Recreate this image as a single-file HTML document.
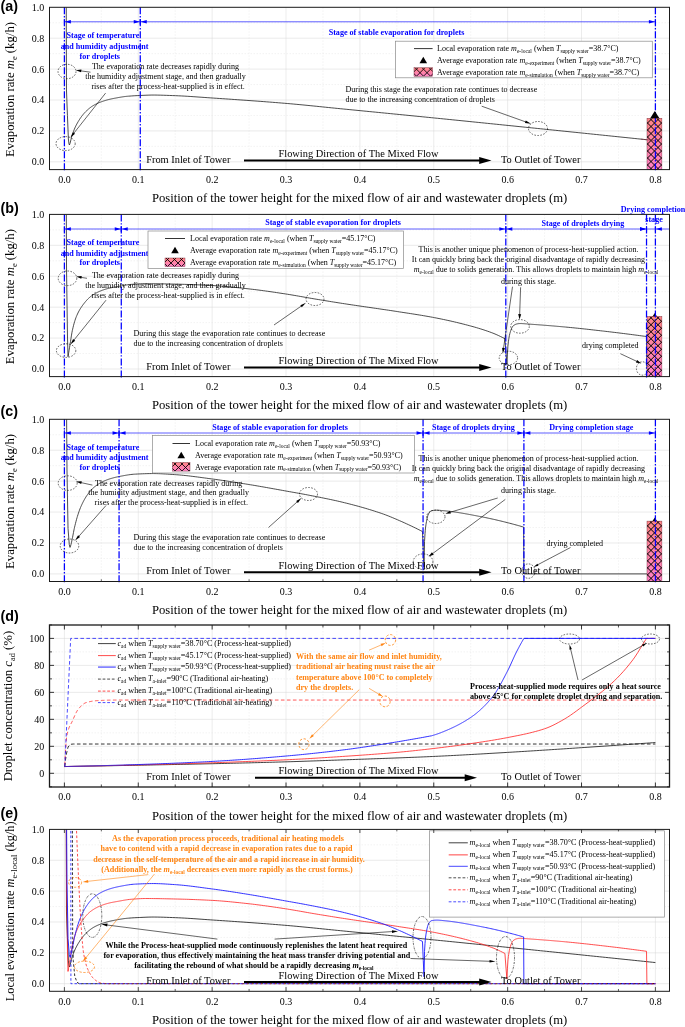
<!DOCTYPE html>
<html lang="en"><head><meta charset="utf-8"><title>Evaporation rate along tower height</title>
<style>html,body{margin:0;padding:0;background:#fff}svg{display:block}text{white-space:pre}</style></head>
<body>
<svg width="685" height="1027" viewBox="0 0 685 1027">
<defs>
<linearGradient id="bga" x1="0" y1="0" x2="0" y2="1"><stop offset="0" stop-color="#ff8585"/><stop offset="1" stop-color="#ff80c4"/></linearGradient>
<linearGradient id="bgb" x1="0" y1="0" x2="0" y2="1"><stop offset="0" stop-color="#ff8585"/><stop offset="1" stop-color="#ff80c4"/></linearGradient>
<linearGradient id="bgc" x1="0" y1="0" x2="0" y2="1"><stop offset="0" stop-color="#ff8585"/><stop offset="1" stop-color="#ff80c4"/></linearGradient>
<linearGradient id="bgl" x1="0" y1="0" x2="0" y2="1"><stop offset="0" stop-color="#ff8585"/><stop offset="1" stop-color="#ff80c4"/></linearGradient>
<clipPath id="clipa"><rect x="49.5" y="7.3" width="620" height="162.3"/></clipPath>
<clipPath id="clipb"><rect x="49.5" y="214.4" width="620" height="162.2"/></clipPath>
<clipPath id="clipc"><rect x="49.5" y="419.3" width="620" height="162.2"/></clipPath>
<clipPath id="clipd"><rect x="49.5" y="625.0" width="620" height="162"/></clipPath>
<clipPath id="clipe"><rect x="49.5" y="829.4" width="620" height="161.9"/></clipPath>
</defs>
<rect width="685" height="1027" fill="#fff"/>
<rect x="49.5" y="7.3" width="620" height="162.3" fill="#fff" stroke="none"/>
<line x1="64.4" y1="7.3" x2="64.4" y2="169.6" stroke="#d9d9d9" stroke-width="0.5" />
<line x1="138.28" y1="7.3" x2="138.28" y2="169.6" stroke="#d9d9d9" stroke-width="0.5" />
<line x1="212.15" y1="7.3" x2="212.15" y2="169.6" stroke="#d9d9d9" stroke-width="0.5" />
<line x1="286.03" y1="7.3" x2="286.03" y2="169.6" stroke="#d9d9d9" stroke-width="0.5" />
<line x1="359.9" y1="7.3" x2="359.9" y2="169.6" stroke="#d9d9d9" stroke-width="0.5" />
<line x1="433.77" y1="7.3" x2="433.77" y2="169.6" stroke="#d9d9d9" stroke-width="0.5" />
<line x1="507.65" y1="7.3" x2="507.65" y2="169.6" stroke="#d9d9d9" stroke-width="0.5" />
<line x1="581.52" y1="7.3" x2="581.52" y2="169.6" stroke="#d9d9d9" stroke-width="0.5" />
<line x1="655.4" y1="7.3" x2="655.4" y2="169.6" stroke="#d9d9d9" stroke-width="0.5" />
<line x1="101.34" y1="7.3" x2="101.34" y2="169.6" stroke="#e6e6e6" stroke-width="0.5" stroke-dasharray="1.5 1.5" />
<line x1="175.21" y1="7.3" x2="175.21" y2="169.6" stroke="#e6e6e6" stroke-width="0.5" stroke-dasharray="1.5 1.5" />
<line x1="249.09" y1="7.3" x2="249.09" y2="169.6" stroke="#e6e6e6" stroke-width="0.5" stroke-dasharray="1.5 1.5" />
<line x1="322.96" y1="7.3" x2="322.96" y2="169.6" stroke="#e6e6e6" stroke-width="0.5" stroke-dasharray="1.5 1.5" />
<line x1="396.84" y1="7.3" x2="396.84" y2="169.6" stroke="#e6e6e6" stroke-width="0.5" stroke-dasharray="1.5 1.5" />
<line x1="470.71" y1="7.3" x2="470.71" y2="169.6" stroke="#e6e6e6" stroke-width="0.5" stroke-dasharray="1.5 1.5" />
<line x1="544.59" y1="7.3" x2="544.59" y2="169.6" stroke="#e6e6e6" stroke-width="0.5" stroke-dasharray="1.5 1.5" />
<line x1="618.46" y1="7.3" x2="618.46" y2="169.6" stroke="#e6e6e6" stroke-width="0.5" stroke-dasharray="1.5 1.5" />
<line x1="49.5" y1="161.8" x2="669.5" y2="161.8" stroke="#d4d4d4" stroke-width="0.5" />
<line x1="49.5" y1="130.9" x2="669.5" y2="130.9" stroke="#d4d4d4" stroke-width="0.5" />
<line x1="49.5" y1="100" x2="669.5" y2="100" stroke="#d4d4d4" stroke-width="0.5" />
<line x1="49.5" y1="69.1" x2="669.5" y2="69.1" stroke="#d4d4d4" stroke-width="0.5" />
<line x1="49.5" y1="38.2" x2="669.5" y2="38.2" stroke="#d4d4d4" stroke-width="0.5" />
<line x1="49.5" y1="146.35" x2="669.5" y2="146.35" stroke="#e6e6e6" stroke-width="0.5" stroke-dasharray="1.5 1.5" />
<line x1="49.5" y1="115.45" x2="669.5" y2="115.45" stroke="#e6e6e6" stroke-width="0.5" stroke-dasharray="1.5 1.5" />
<line x1="49.5" y1="84.55" x2="669.5" y2="84.55" stroke="#e6e6e6" stroke-width="0.5" stroke-dasharray="1.5 1.5" />
<line x1="49.5" y1="53.65" x2="669.5" y2="53.65" stroke="#e6e6e6" stroke-width="0.5" stroke-dasharray="1.5 1.5" />
<line x1="49.5" y1="22.75" x2="669.5" y2="22.75" stroke="#e6e6e6" stroke-width="0.5" stroke-dasharray="1.5 1.5" />
<polyline points="66.25,7.3 66.47,89.96 67.43,115.45 68.39,138.93 68.98,143.88 69.42,144.96 69.92,143.69 70.16,142.95 70.42,142.01 70.91,139.79 71.41,137.68 71.49,137.39 71.91,136.04 72.37,134.6 72.4,134.49 72.9,133.03 73.4,131.65 73.89,130.35 74.39,129.12 74.89,127.96 75.31,127.02 75.38,126.87 75.88,125.84 76.29,125.03 76.38,124.87 76.87,123.94 77.37,123.04 77.87,122.17 78.26,121.5 78.36,121.32 78.86,120.5 79.36,119.7 79.85,118.93 80.35,118.19 80.85,117.47 81.2,116.97 81.34,116.77 81.84,116.1 82.34,115.46 82.83,114.83 83.33,114.23 83.83,113.65 84.15,113.29 84.32,113.1 84.82,112.56 85.01,112.36 85.32,112.05 85.81,111.54 86.31,111.05 86.81,110.58 87.09,110.31 87.3,110.11 87.8,109.66 88.3,109.23 88.79,108.8 89.29,108.39 89.79,107.99 90.04,107.79 90.28,107.6 90.78,107.23 91.28,106.87 91.77,106.53 92.27,106.19 92.77,105.88 92.98,105.74 93.26,105.57 93.76,105.28 93.8,105.25 94.26,105 94.75,104.73 95.25,104.46 95.75,104.21 95.92,104.12 96.24,103.96 96.74,103.72 97.24,103.49 97.73,103.27 98.23,103.05 98.73,102.84 98.87,102.78 99.22,102.63 99.72,102.43 100.22,102.24 100.71,102.05 101.21,101.86 101.71,101.68 101.81,101.64 102.2,101.5 102.52,101.39 102.7,101.33 103.19,101.16 103.69,100.99 104.19,100.83 104.68,100.68 104.76,100.65 105.18,100.52 105.68,100.37 106.17,100.23 106.67,100.09 107.17,99.95 107.66,99.81 107.7,99.8 108.16,99.68 108.66,99.55 109.15,99.43 109.65,99.31 109.98,99.23 110.15,99.19 110.64,99.07 110.65,99.07 111.14,98.96 111.64,98.85 112.13,98.75 112.63,98.64 113.13,98.54 113.59,98.45 113.62,98.45 114.12,98.35 114.41,98.3 114.62,98.26 115.11,98.17 115.61,98.08 116.11,97.99 116.54,97.91 116.6,97.9 117.1,97.8 117.6,97.71 118.09,97.62 118.59,97.53 119.09,97.44 119.48,97.37 119.58,97.36 120.08,97.27 120.58,97.19 121.07,97.1 121.57,97.02 122.07,96.94 122.43,96.89 122.56,96.87 123.06,96.79 123.56,96.72 124.05,96.65 124.55,96.58 125.05,96.52 125.37,96.48 125.54,96.46 126.04,96.41 126.54,96.35 127.03,96.31 127.19,96.29 127.53,96.26 128.03,96.22 128.32,96.19 128.52,96.18 131.26,95.97 134.2,95.78 137.15,95.62 139.31,95.52 140.09,95.48 143.04,95.35 145.98,95.22 148.93,95.12 151.87,95.06 153.05,95.06 154.82,95.06 157.76,95.1 160.71,95.16 163.65,95.25 166.6,95.35 169.54,95.46 172.48,95.57 175.21,95.67 175.43,95.68 178.37,95.8 181.32,95.95 184.26,96.1 187.21,96.28 190.15,96.46 193.1,96.66 196.04,96.86 198.99,97.07 201.93,97.28 204.88,97.49 207.82,97.69 210.76,97.9 212.15,97.99 213.71,98.1 216.65,98.29 219.6,98.49 222.54,98.69 225.49,98.89 228.43,99.09 231.38,99.29 234.32,99.5 237.27,99.7 240.21,99.91 243.16,100.11 246.1,100.32 249.04,100.53 251.99,100.75 254.93,100.96 257.88,101.18 260.82,101.4 263.77,101.62 266.71,101.85 269.66,102.07 272.6,102.3 275.55,102.54 278.49,102.78 281.44,103.02 284.38,103.26 286.02,103.4 287.32,103.51 290.27,103.76 293.21,104.03 296.16,104.3 299.1,104.57 302.05,104.85 304.99,105.14 307.94,105.43 310.88,105.72 313.83,106.02 316.77,106.31 319.71,106.61 322.66,106.92 325.6,107.22 328.55,107.52 331.49,107.82 334.44,108.12 337.38,108.41 340.33,108.71 342.91,108.96 343.27,109 346.22,109.29 349.16,109.57 352.11,109.86 355.05,110.15 357.99,110.44 360.94,110.73 363.88,111.02 366.83,111.31 369.77,111.6 372.72,111.89 375.66,112.17 378.61,112.46 381.55,112.75 384.5,113.04 387.44,113.33 390.39,113.62 393.33,113.91 396.27,114.2 399.22,114.49 402.16,114.78 405.11,115.07 408.05,115.36 411,115.66 413.94,115.95 416.89,116.24 419.83,116.53 422.78,116.82 425.72,117.12 428.67,117.41 431.61,117.71 433.77,117.92 434.55,118 437.5,118.29 440.44,118.59 443.39,118.89 446.33,119.18 449.28,119.48 452.22,119.77 455.17,120.07 458.11,120.37 461.06,120.67 464,120.96 466.95,121.26 469.89,121.56 472.83,121.86 475.78,122.16 478.72,122.46 481.67,122.76 484.61,123.06 487.56,123.36 490.5,123.66 493.45,123.96 496.39,124.26 499.34,124.56 502.28,124.86 505.23,125.16 508.17,125.46 511.11,125.76 514.06,126.06 517,126.36 519.95,126.66 522.89,126.96 525.84,127.27 528.78,127.57 531.73,127.87 534.67,128.17 537.62,128.47 537.94,128.51 540.56,128.77 543.5,129.08 546.45,129.38 549.39,129.68 552.34,129.98 555.28,130.28 558.23,130.59 561.17,130.89 564.12,131.19 567.06,131.49 570.01,131.8 572.95,132.1 575.9,132.4 578.84,132.71 581.78,133.01 584.73,133.31 587.67,133.62 590.62,133.92 593.56,134.22 596.51,134.53 599.45,134.83 602.4,135.14 605.34,135.44 608.29,135.74 611.23,136.05 614.18,136.35 617.12,136.66 620.06,136.96 623.01,137.27 625.95,137.57 628.9,137.88 631.84,138.18 634.79,138.49 637.73,138.8 640.68,139.1 643.62,139.41 646.57,139.71 649.51,140.02 652.46,140.33 655.4,140.63" fill="none" stroke="#111" stroke-width="0.75" stroke-linejoin="round" clip-path="url(#clipa)"/>
<rect x="647.0" y="118.23" width="14.9" height="51.37" fill="url(#bga)" />
<clipPath id="hc1"><rect x="647" y="118.23" width="14.9" height="51.37"/></clipPath>
<path d="M586.7 118.23L638.07 169.6M638.3 118.23L586.93 169.6M593.7 118.23L645.07 169.6M645.3 118.23L593.93 169.6M600.7 118.23L652.07 169.6M652.3 118.23L600.93 169.6M607.7 118.23L659.07 169.6M659.3 118.23L607.93 169.6M614.7 118.23L666.07 169.6M666.3 118.23L614.93 169.6M621.7 118.23L673.07 169.6M673.3 118.23L621.93 169.6M628.7 118.23L680.07 169.6M680.3 118.23L628.93 169.6M635.7 118.23L687.07 169.6M687.3 118.23L635.93 169.6M642.7 118.23L694.07 169.6M694.3 118.23L642.93 169.6M649.7 118.23L701.07 169.6M701.3 118.23L649.93 169.6M656.7 118.23L708.07 169.6M708.3 118.23L656.93 169.6M663.7 118.23L715.07 169.6M715.3 118.23L663.93 169.6M670.7 118.23L722.07 169.6M722.3 118.23L670.93 169.6" stroke="#000" stroke-width="1.0" fill="none" clip-path="url(#hc1)"/>
<rect x="647" y="118.23" width="14.9" height="51.37" fill="none" stroke="#6a2535" stroke-width="0.4"/>
<polyline points="640.68,139.1 643.62,139.41 646.57,139.71 649.51,140.02 652.46,140.33 655.4,140.63" fill="none" stroke="#7a2a3a" stroke-width="0.6" stroke-linejoin="round" clip-path="url(#clipa)"/>
<line x1="64.4" y1="7.3" x2="64.4" y2="170.8" stroke="#0000ff" stroke-width="1.25" stroke-dasharray="7 1.8 1.3 1.9" />
<line x1="140.27" y1="7.3" x2="140.27" y2="170.8" stroke="#0000ff" stroke-width="1.25" stroke-dasharray="7 1.8 1.3 1.9" />
<line x1="655.4" y1="7.3" x2="655.4" y2="170.8" stroke="#0000ff" stroke-width="1.25" stroke-dasharray="7 1.8 1.3 1.9" />
<line x1="64.4" y1="21.8" x2="140.27" y2="21.8" stroke="#2a2aff" stroke-width="0.75" />
<line x1="64.4" y1="19" x2="64.4" y2="24.6" stroke="#0000ff" stroke-width="0.8" />
<line x1="140.27" y1="19" x2="140.27" y2="24.6" stroke="#0000ff" stroke-width="0.8" />
<polygon points="64.7,21.8 70.9,20.1 70.9,23.5" fill="#0000ff"/>
<polygon points="139.97,21.8 133.77,20.1 133.77,23.5" fill="#0000ff"/>
<line x1="140.27" y1="21.8" x2="655.4" y2="21.8" stroke="#2a2aff" stroke-width="0.75" />
<line x1="140.27" y1="19" x2="140.27" y2="24.6" stroke="#0000ff" stroke-width="0.8" />
<line x1="655.4" y1="19" x2="655.4" y2="24.6" stroke="#0000ff" stroke-width="0.8" />
<polygon points="140.57,21.8 146.77,20.1 146.77,23.5" fill="#0000ff"/>
<polygon points="655.1,21.8 648.9,20.1 648.9,23.5" fill="#0000ff"/>
<polygon points="654.8,111 650.2,118.2 659.4,118.2" fill="#000"/>
<text x="102.9" y="38.3" font-family='"Liberation Serif", "DejaVu Serif", serif' font-size="8.1" text-anchor="middle" font-weight="bold" fill="#0000ff" >Stage of temperature</text>
<text x="104.6" y="48.7" font-family='"Liberation Serif", "DejaVu Serif", serif' font-size="8.1" text-anchor="middle" font-weight="bold" fill="#0000ff" >and humidity adjustment</text>
<text x="99.8" y="58.6" font-family='"Liberation Serif", "DejaVu Serif", serif' font-size="8.1" text-anchor="middle" font-weight="bold" fill="#0000ff" >for droplets</text>
<text x="396.5" y="35" font-family='"Liberation Serif", "DejaVu Serif", serif' font-size="8.1" text-anchor="middle" font-weight="bold" fill="#0000ff" >Stage of stable evaporation for droplets</text>
<rect x="395.4" y="41.2" width="256.9" height="36.6" fill="#fff" stroke="#8a8a8a" stroke-width="0.7"/>
<line x1="414" y1="48.6" x2="432.6" y2="48.6" stroke="#000" stroke-width="0.8" />
<polygon points="423.3,56.7 419.5,63.3 427.1,63.3" fill="#000"/>
<rect x="414" y="67.7" width="18.6" height="8.6" fill="url(#bgl)"/>
<clipPath id="hc2"><rect x="414" y="67.7" width="18.6" height="8.6"/></clipPath>
<path d="M394 67.7L402.6 76.3M404 67.7L395.4 76.3M401 67.7L409.6 76.3M411 67.7L402.4 76.3M408 67.7L416.6 76.3M418 67.7L409.4 76.3M415 67.7L423.6 76.3M425 67.7L416.4 76.3M422 67.7L430.6 76.3M432 67.7L423.4 76.3M429 67.7L437.6 76.3M439 67.7L430.4 76.3M436 67.7L444.6 76.3M446 67.7L437.4 76.3" stroke="#000" stroke-width="0.85" fill="none" clip-path="url(#hc2)"/>
<rect x="414" y="67.7" width="18.6" height="8.6" fill="none" stroke="#6a2535" stroke-width="0.4"/>
<text x="437" y="51.1" font-family='"Liberation Serif", "DejaVu Serif", serif' font-size="8.03" text-anchor="start" font-weight="normal" fill="#000" >Local evaporation rate <tspan font-style="italic">m</tspan><tspan font-size="5.5" dy="1.9">e-local</tspan><tspan dy="-1.9"> (when </tspan><tspan font-style="italic">T</tspan><tspan font-size="5.5" dy="1.9">supply water</tspan><tspan dy="-1.9">=38.7°C)</tspan></text>
<text x="437" y="63" font-family='"Liberation Serif", "DejaVu Serif", serif' font-size="8.03" text-anchor="start" font-weight="normal" fill="#000" >Average evaporation rate <tspan font-style="italic">m</tspan><tspan font-size="5.5" dy="1.9">e-experiment</tspan><tspan dy="-1.9"> (when </tspan><tspan font-style="italic">T</tspan><tspan font-size="5.5" dy="1.9">supply water</tspan><tspan dy="-1.9">=38.7°C)</tspan></text>
<text x="437" y="74.7" font-family='"Liberation Serif", "DejaVu Serif", serif' font-size="8.03" text-anchor="start" font-weight="normal" fill="#000" >Average evaporation rate <tspan font-style="italic">m</tspan><tspan font-size="5.5" dy="1.9">e-simulation</tspan><tspan dy="-1.9"> (when </tspan><tspan font-style="italic">T</tspan><tspan font-size="5.5" dy="1.9">supply water</tspan><tspan dy="-1.9">=38.7°C)</tspan></text>
<text x="165.5" y="68.8" font-family='"Liberation Serif", "DejaVu Serif", serif' font-size="8.05" text-anchor="middle" font-weight="normal" fill="#000" >The evaporation rate decreases rapidly during</text>
<text x="165.5" y="78.8" font-family='"Liberation Serif", "DejaVu Serif", serif' font-size="8.05" text-anchor="middle" font-weight="normal" fill="#000" >the humidity adjustment stage, and then gradually</text>
<text x="168.1" y="88.8" font-family='"Liberation Serif", "DejaVu Serif", serif' font-size="8.05" text-anchor="middle" font-weight="normal" fill="#000" >rises after the process-heat-supplied is in effect.</text>
<ellipse cx="67" cy="71.5" rx="9" ry="7.2" fill="none" stroke="#000" stroke-width="0.6" stroke-dasharray="1.6 1.4"/>
<line x1="90.5" y1="72.2" x2="80.26" y2="70.81" stroke="#000" stroke-width="0.6" />
<polygon points="75.8,70.2 81.44,69.55 81.06,72.33" fill="#000"/>
<ellipse cx="65.6" cy="143.6" rx="9.6" ry="7" fill="none" stroke="#000" stroke-width="0.6" stroke-dasharray="1.6 1.4"/>
<line x1="105.6" y1="93.1" x2="73.4" y2="133.78" stroke="#000" stroke-width="0.6" />
<polygon points="70.3,137.7 73,132.19 75.04,133.8" fill="#000"/>
<text x="345.5" y="92" font-family='"Liberation Serif", "DejaVu Serif", serif' font-size="8.05" text-anchor="start" font-weight="normal" fill="#000" >During this stage the evaporation rate continues to decrease</text>
<text x="345.5" y="102" font-family='"Liberation Serif", "DejaVu Serif", serif' font-size="8.05" text-anchor="start" font-weight="normal" fill="#000" >due to the increasing concentration of droplets</text>
<line x1="481.7" y1="106.2" x2="526.29" y2="122.12" stroke="#000" stroke-width="0.6" />
<polygon points="531,123.8 524.91,123.01 525.79,120.56" fill="#000"/>
<ellipse cx="538" cy="128.5" rx="9.5" ry="7" fill="none" stroke="#000" stroke-width="0.6" stroke-dasharray="1.6 1.4"/>
<text x="146.2" y="162.5" font-family='"Liberation Serif", "DejaVu Serif", serif' font-size="10.4" text-anchor="start" font-weight="normal" fill="#000" >From Inlet of Tower</text>
<text x="278.5" y="156.8" font-family='"Liberation Serif", "DejaVu Serif", serif' font-size="10.4" text-anchor="start" font-weight="normal" fill="#000" >Flowing Direction of The Mixed Flow</text>
<text x="501" y="162.5" font-family='"Liberation Serif", "DejaVu Serif", serif' font-size="10.4" text-anchor="start" font-weight="normal" fill="#000" >To Outlet of Tower</text>
<line x1="244" y1="160.4" x2="482.5" y2="160.4" stroke="#000" stroke-width="2.0" />
<polygon points="491.5,160.4 479.2,156.9 479.2,163.9" fill="#000"/>
<rect x="49.5" y="7.3" width="620" height="162.3" fill="none" stroke="#1a1a1a" stroke-width="1.0"/>
<text x="64.4" y="182.9" font-family='"Liberation Serif", "DejaVu Serif", serif' font-size="10" text-anchor="middle" font-weight="normal" fill="#000" >0.0</text>
<text x="138.28" y="182.9" font-family='"Liberation Serif", "DejaVu Serif", serif' font-size="10" text-anchor="middle" font-weight="normal" fill="#000" >0.1</text>
<text x="212.15" y="182.9" font-family='"Liberation Serif", "DejaVu Serif", serif' font-size="10" text-anchor="middle" font-weight="normal" fill="#000" >0.2</text>
<text x="286.03" y="182.9" font-family='"Liberation Serif", "DejaVu Serif", serif' font-size="10" text-anchor="middle" font-weight="normal" fill="#000" >0.3</text>
<text x="359.9" y="182.9" font-family='"Liberation Serif", "DejaVu Serif", serif' font-size="10" text-anchor="middle" font-weight="normal" fill="#000" >0.4</text>
<text x="433.77" y="182.9" font-family='"Liberation Serif", "DejaVu Serif", serif' font-size="10" text-anchor="middle" font-weight="normal" fill="#000" >0.5</text>
<text x="507.65" y="182.9" font-family='"Liberation Serif", "DejaVu Serif", serif' font-size="10" text-anchor="middle" font-weight="normal" fill="#000" >0.6</text>
<text x="581.52" y="182.9" font-family='"Liberation Serif", "DejaVu Serif", serif' font-size="10" text-anchor="middle" font-weight="normal" fill="#000" >0.7</text>
<text x="655.4" y="182.9" font-family='"Liberation Serif", "DejaVu Serif", serif' font-size="10" text-anchor="middle" font-weight="normal" fill="#000" >0.8</text>
<text x="44.3" y="165.2" font-family='"Liberation Serif", "DejaVu Serif", serif' font-size="10" text-anchor="end" font-weight="normal" fill="#000" >0.0</text>
<text x="44.3" y="134.3" font-family='"Liberation Serif", "DejaVu Serif", serif' font-size="10" text-anchor="end" font-weight="normal" fill="#000" >0.2</text>
<text x="44.3" y="103.4" font-family='"Liberation Serif", "DejaVu Serif", serif' font-size="10" text-anchor="end" font-weight="normal" fill="#000" >0.4</text>
<text x="44.3" y="72.5" font-family='"Liberation Serif", "DejaVu Serif", serif' font-size="10" text-anchor="end" font-weight="normal" fill="#000" >0.6</text>
<text x="44.3" y="41.6" font-family='"Liberation Serif", "DejaVu Serif", serif' font-size="10" text-anchor="end" font-weight="normal" fill="#000" >0.8</text>
<text x="44.3" y="10.7" font-family='"Liberation Serif", "DejaVu Serif", serif' font-size="10" text-anchor="end" font-weight="normal" fill="#000" >1.0</text>
<text x="151.9" y="202.3" font-family='"Liberation Serif", "DejaVu Serif", serif' font-size="12.67" text-anchor="start" font-weight="normal" fill="#000" >Position of the tower height for the mixed flow of air and wastewater droplets (m)</text>
<g transform="translate(14.4,89.5) rotate(-90)">
<text x="0" y="0" font-family='"Liberation Serif", "DejaVu Serif", serif' font-size="12.75" text-anchor="middle" font-weight="normal" fill="#000" >Evaporation rate <tspan font-style="italic">m</tspan><tspan font-size="8.29" dy="2.6">e</tspan><tspan dy="-2.6"> (kg/h)</tspan></text>
</g>
<text x="0.6" y="11.4" font-family='"Liberation Sans", "DejaVu Sans", sans-serif' font-size="14.3" text-anchor="start" font-weight="bold" fill="#000" >(a)</text>
<rect x="49.5" y="214.4" width="620" height="162.2" fill="#fff" stroke="none"/>
<line x1="64.4" y1="214.4" x2="64.4" y2="376.6" stroke="#d9d9d9" stroke-width="0.5" />
<line x1="138.28" y1="214.4" x2="138.28" y2="376.6" stroke="#d9d9d9" stroke-width="0.5" />
<line x1="212.15" y1="214.4" x2="212.15" y2="376.6" stroke="#d9d9d9" stroke-width="0.5" />
<line x1="286.03" y1="214.4" x2="286.03" y2="376.6" stroke="#d9d9d9" stroke-width="0.5" />
<line x1="359.9" y1="214.4" x2="359.9" y2="376.6" stroke="#d9d9d9" stroke-width="0.5" />
<line x1="433.77" y1="214.4" x2="433.77" y2="376.6" stroke="#d9d9d9" stroke-width="0.5" />
<line x1="507.65" y1="214.4" x2="507.65" y2="376.6" stroke="#d9d9d9" stroke-width="0.5" />
<line x1="581.52" y1="214.4" x2="581.52" y2="376.6" stroke="#d9d9d9" stroke-width="0.5" />
<line x1="655.4" y1="214.4" x2="655.4" y2="376.6" stroke="#d9d9d9" stroke-width="0.5" />
<line x1="101.34" y1="214.4" x2="101.34" y2="376.6" stroke="#e6e6e6" stroke-width="0.5" stroke-dasharray="1.5 1.5" />
<line x1="175.21" y1="214.4" x2="175.21" y2="376.6" stroke="#e6e6e6" stroke-width="0.5" stroke-dasharray="1.5 1.5" />
<line x1="249.09" y1="214.4" x2="249.09" y2="376.6" stroke="#e6e6e6" stroke-width="0.5" stroke-dasharray="1.5 1.5" />
<line x1="322.96" y1="214.4" x2="322.96" y2="376.6" stroke="#e6e6e6" stroke-width="0.5" stroke-dasharray="1.5 1.5" />
<line x1="396.84" y1="214.4" x2="396.84" y2="376.6" stroke="#e6e6e6" stroke-width="0.5" stroke-dasharray="1.5 1.5" />
<line x1="470.71" y1="214.4" x2="470.71" y2="376.6" stroke="#e6e6e6" stroke-width="0.5" stroke-dasharray="1.5 1.5" />
<line x1="544.59" y1="214.4" x2="544.59" y2="376.6" stroke="#e6e6e6" stroke-width="0.5" stroke-dasharray="1.5 1.5" />
<line x1="618.46" y1="214.4" x2="618.46" y2="376.6" stroke="#e6e6e6" stroke-width="0.5" stroke-dasharray="1.5 1.5" />
<line x1="49.5" y1="369" x2="669.5" y2="369" stroke="#d4d4d4" stroke-width="0.5" />
<line x1="49.5" y1="338.08" x2="669.5" y2="338.08" stroke="#d4d4d4" stroke-width="0.5" />
<line x1="49.5" y1="307.16" x2="669.5" y2="307.16" stroke="#d4d4d4" stroke-width="0.5" />
<line x1="49.5" y1="276.24" x2="669.5" y2="276.24" stroke="#d4d4d4" stroke-width="0.5" />
<line x1="49.5" y1="245.32" x2="669.5" y2="245.32" stroke="#d4d4d4" stroke-width="0.5" />
<line x1="49.5" y1="353.54" x2="669.5" y2="353.54" stroke="#e6e6e6" stroke-width="0.5" stroke-dasharray="1.5 1.5" />
<line x1="49.5" y1="322.62" x2="669.5" y2="322.62" stroke="#e6e6e6" stroke-width="0.5" stroke-dasharray="1.5 1.5" />
<line x1="49.5" y1="291.7" x2="669.5" y2="291.7" stroke="#e6e6e6" stroke-width="0.5" stroke-dasharray="1.5 1.5" />
<line x1="49.5" y1="260.78" x2="669.5" y2="260.78" stroke="#e6e6e6" stroke-width="0.5" stroke-dasharray="1.5 1.5" />
<line x1="49.5" y1="229.86" x2="669.5" y2="229.86" stroke="#e6e6e6" stroke-width="0.5" stroke-dasharray="1.5 1.5" />
<polyline points="66.32,214.4 66.54,270.06 67.5,338.08 68.02,356.69 68.52,353.77 68.68,352.77 69.01,350.77 69.51,347.69 69.94,345.04 70.01,344.63 70.22,343.32 70.5,341.47 71,338.24 71.5,335.1 71.99,332.25 72.38,330.35 72.41,330.2 72.49,329.85 72.99,327.71 73.48,325.7 73.98,323.82 74.48,322.07 74.61,321.63 74.97,320.44 75.47,318.95 75.97,317.58 76.29,316.75 76.46,316.33 76.8,315.53 76.96,315.17 77.46,314.07 77.95,313.02 78.45,312.03 78.95,311.09 79,310.99 79.44,310.19 79.94,309.34 80.44,308.53 80.93,307.75 81.19,307.36 81.43,307.01 81.93,306.29 82.13,306 82.42,305.59 82.92,304.91 83.39,304.28 83.42,304.25 83.91,303.6 84.41,302.96 84.91,302.35 85.4,301.74 85.58,301.53 85.9,301.16 86.4,300.59 86.89,300.05 87.39,299.52 87.78,299.11 87.89,299.01 88.38,298.52 88.88,298.05 89.38,297.6 89.87,297.17 89.97,297.08 90.37,296.76 90.87,296.38 90.92,296.34 91.36,296.01 91.86,295.66 92.17,295.44 92.36,295.31 92.85,294.98 93.35,294.66 93.85,294.34 94.34,294.04 94.37,294.02 94.84,293.74 95.34,293.45 95.83,293.18 96.33,292.91 96.56,292.79 96.82,292.65 97.32,292.4 97.82,292.15 98.31,291.92 98.76,291.71 98.81,291.69 99.31,291.47 99.8,291.25 100.3,291.05 100.6,290.93 100.8,290.85 100.95,290.79 101.29,290.65 101.79,290.46 102.29,290.28 102.78,290.1 103.15,289.97 103.28,289.92 103.78,289.75 104.27,289.59 104.77,289.43 105.27,289.27 105.34,289.25 105.76,289.12 106.26,288.97 106.76,288.83 107.25,288.69 107.54,288.61 107.75,288.55 108.25,288.42 108.74,288.29 109.24,288.17 109.73,288.05 109.74,288.05 109.98,287.99 110.23,287.93 110.73,287.82 111.23,287.71 111.72,287.61 111.93,287.57 112.22,287.51 112.72,287.41 113.21,287.32 113.71,287.23 114.12,287.15 114.21,287.14 114.7,287.05 115.2,286.96 115.7,286.88 116.19,286.79 116.32,286.77 116.69,286.7 117.19,286.62 117.29,286.6 117.68,286.53 118.18,286.44 118.52,286.38 118.68,286.35 119.17,286.26 119.67,286.17 120.17,286.07 120.66,285.98 120.71,285.97 121.16,285.89 121.66,285.8 122.15,285.7 122.65,285.61 122.91,285.57 123.15,285.52 123.64,285.43 124.14,285.34 124.64,285.26 125.1,285.18 125.13,285.18 125.63,285.09 126.13,285.01 126.62,284.94 127.12,284.86 127.3,284.84 129.49,284.56 130.89,284.43 131.69,284.37 133.88,284.2 136.08,284.04 138.27,283.9 140.47,283.79 142.67,283.7 144.86,283.66 145.66,283.66 147.06,283.66 149.25,283.67 151.45,283.69 153.64,283.71 155.84,283.74 158.03,283.77 160.23,283.81 162.42,283.85 164.62,283.89 166.82,283.94 169.01,283.99 171.21,284.04 173.4,284.08 175.21,284.12 175.6,284.13 177.79,284.18 179.99,284.24 182.18,284.3 184.38,284.36 186.57,284.43 188.77,284.5 190.97,284.58 193.16,284.65 195.36,284.74 197.55,284.83 199.75,284.92 201.94,285.01 204.14,285.12 206.33,285.22 208.53,285.33 210.72,285.44 212.15,285.52 212.92,285.56 215.12,285.69 217.31,285.83 219.51,285.99 221.7,286.16 223.9,286.34 226.09,286.53 228.29,286.73 230.48,286.94 232.68,287.16 234.87,287.38 237.07,287.61 239.27,287.84 241.46,288.08 243.66,288.32 245.85,288.56 248.05,288.8 249.09,288.92 250.24,289.05 252.44,289.3 254.63,289.56 256.83,289.83 259.02,290.11 261.22,290.4 263.42,290.69 265.61,291 267.81,291.3 270,291.62 272.2,291.93 274.39,292.26 276.59,292.58 278.78,292.91 280.98,293.25 283.18,293.58 285.37,293.92 286.02,294.02 287.57,294.26 289.76,294.61 291.96,294.98 294.15,295.35 296.35,295.73 298.54,296.11 300.74,296.5 302.93,296.89 305.13,297.28 307.33,297.67 309.52,298.06 311.72,298.44 313.91,298.81 314.84,298.97 316.11,299.18 318.3,299.54 320.5,299.9 322.69,300.26 324.89,300.62 327.08,300.98 329.28,301.34 331.48,301.69 333.67,302.04 335.87,302.39 338.06,302.74 340.26,303.08 342.45,303.43 342.91,303.5 344.65,303.76 346.84,304.1 349.04,304.43 351.23,304.76 353.43,305.09 355.63,305.42 357.82,305.74 360.02,306.06 362.21,306.38 364.41,306.7 366.6,307.02 368.8,307.33 370.99,307.65 373.19,307.97 375.38,308.29 377.58,308.6 379.78,308.93 381.97,309.25 384.17,309.57 386.36,309.9 388.56,310.22 390.75,310.55 392.95,310.89 395.14,311.23 396.84,311.49 397.34,311.57 399.53,311.91 401.73,312.24 403.93,312.58 406.12,312.92 408.32,313.25 410.51,313.59 412.71,313.93 414.9,314.28 417.1,314.63 419.29,314.98 421.49,315.34 423.68,315.71 425.88,316.08 428.08,316.47 430.27,316.86 432.47,317.27 433.77,317.52 434.66,317.69 436.86,318.12 439.05,318.55 441.25,319 443.44,319.46 445.64,319.93 447.83,320.41 450.03,320.89 452.23,321.39 454.42,321.9 456.62,322.42 458.81,322.95 461.01,323.49 463.2,324.05 465.4,324.61 467.59,325.19 469.79,325.77 470.71,326.02 471.98,326.37 474.18,326.98 476.38,327.61 478.57,328.27 480.77,328.94 482.96,329.64 485.16,330.36 487.35,331.11 489.55,331.89 491.74,332.7 492.88,333.13 493.94,333.55 496.13,334.47 498.33,335.46 500.53,336.5 502.72,337.59 504.92,338.7 506.02,353.54 506.91,364.36 507.41,354.1 507.9,346.24 508.02,345.04 508.4,341.79 508.68,339.75 508.9,338.31 509.39,335.56 509.89,333.41 510.24,332.21 510.39,331.72 510.45,331.54 510.88,330.25 511.38,328.94 511.88,327.81 512.21,327.16 512.37,326.88 512.87,326.19 513.19,325.87 513.37,325.72 513.86,325.35 513.98,325.26 514.36,325.01 514.86,324.72 515.35,324.47 515.75,324.29 515.85,324.25 516.35,324.08 516.84,323.94 517.25,323.86 517.34,323.84 517.52,323.81 517.84,323.76 518.33,323.68 518.83,323.62 519.28,323.57 519.33,323.57 519.82,323.55 519.99,323.55 520.32,323.55 520.82,323.56 521.05,323.56 521.31,323.57 521.81,323.58 522.31,323.61 522.8,323.63 522.82,323.63 523.3,323.66 523.8,323.69 524.29,323.73 524.59,323.75 524.79,323.76 525.29,323.8 525.78,323.84 526.28,323.88 526.35,323.89 526.78,323.93 527.27,323.97 527.77,324.01 528.12,324.04 528.27,324.05 528.76,324.09 529.26,324.13 529.76,324.16 529.81,324.17 529.89,324.17 530.25,324.2 530.75,324.23 531.25,324.27 531.65,324.29 531.74,324.3 532.24,324.34 532.74,324.37 533.23,324.41 533.42,324.42 533.73,324.44 534.23,324.48 534.72,324.51 535.19,324.55 535.22,324.55 535.72,324.59 536.21,324.62 536.71,324.66 536.96,324.68 537.21,324.69 537.7,324.73 538.2,324.77 538.7,324.81 538.72,324.81 539.19,324.84 539.69,324.88 540.19,324.92 540.49,324.94 540.68,324.96 541.18,324.99 541.68,325.03 542.17,325.07 542.26,325.08 542.67,325.11 543.17,325.15 543.66,325.19 544.03,325.21 544.16,325.22 544.66,325.26 545.15,325.3 545.65,325.34 545.79,325.35 546.15,325.38 546.64,325.42 547.14,325.46 547.56,325.5 547.64,325.5 548.13,325.54 548.63,325.58 549.13,325.62 549.33,325.64 549.62,325.66 550.12,325.7 550.62,325.74 551.1,325.78 551.11,325.79 551.61,325.83 552.11,325.87 552.6,325.91 552.86,325.93 553.1,325.95 553.6,325.99 554.09,326.04 554.59,326.08 554.63,326.08 555.09,326.12 555.58,326.16 556.08,326.21 556.4,326.23 556.58,326.25 557.07,326.29 557.57,326.33 558.07,326.38 558.17,326.39 558.56,326.42 559.06,326.46 559.55,326.51 559.93,326.54 560.05,326.55 560.55,326.6 561.04,326.64 561.54,326.68 561.7,326.7 562.04,326.73 562.53,326.77 563.03,326.82 563.47,326.86 563.53,326.86 564.02,326.91 564.52,326.95 564.98,327 565.02,327 565.24,327.02 565.51,327.04 566.01,327.09 567,327.18 568.77,327.35 570.54,327.52 572.3,327.69 574.07,327.87 575.84,328.05 577.61,328.23 579.37,328.41 581.14,328.6 582.91,328.79 584.68,328.98 586.44,329.17 588.21,329.37 589.98,329.56 591.75,329.76 593.51,329.96 595.28,330.16 597.05,330.36 598.82,330.56 600.58,330.77 602.35,330.97 603.69,331.12 604.12,331.17 605.89,331.38 607.65,331.58 609.42,331.79 611.19,332 612.95,332.22 614.72,332.43 616.49,332.64 618.26,332.86 620.02,333.08 621.79,333.3 623.56,333.52 625.33,333.74 627.09,333.97 628.86,334.19 630.63,334.42 632.4,334.65 634.16,334.88 635.93,335.11 637.7,335.34 639.47,335.58 641.23,335.82 643,336.05 644.77,336.29 646.53,336.53 646.9,369 655.4,369" fill="none" stroke="#111" stroke-width="0.75" stroke-linejoin="round" clip-path="url(#clipb)"/>
<polygon points="654.8,313 650.2,320.2 659.4,320.2" fill="#000"/>
<rect x="647.0" y="316.44" width="14.9" height="60.16" fill="url(#bgb)" />
<clipPath id="hc3"><rect x="647" y="316.44" width="14.9" height="60.16"/></clipPath>
<path d="M579.7 316.44L639.86 376.6M638.3 316.44L578.14 376.6M586.7 316.44L646.86 376.6M645.3 316.44L585.14 376.6M593.7 316.44L653.86 376.6M652.3 316.44L592.14 376.6M600.7 316.44L660.86 376.6M659.3 316.44L599.14 376.6M607.7 316.44L667.86 376.6M666.3 316.44L606.14 376.6M614.7 316.44L674.86 376.6M673.3 316.44L613.14 376.6M621.7 316.44L681.86 376.6M680.3 316.44L620.14 376.6M628.7 316.44L688.86 376.6M687.3 316.44L627.14 376.6M635.7 316.44L695.86 376.6M694.3 316.44L634.14 376.6M642.7 316.44L702.86 376.6M701.3 316.44L641.14 376.6M649.7 316.44L709.86 376.6M708.3 316.44L648.14 376.6M656.7 316.44L716.86 376.6M715.3 316.44L655.14 376.6M663.7 316.44L723.86 376.6M722.3 316.44L662.14 376.6M670.7 316.44L730.86 376.6M729.3 316.44L669.14 376.6" stroke="#000" stroke-width="1.0" fill="none" clip-path="url(#hc3)"/>
<rect x="647" y="316.44" width="14.9" height="60.16" fill="none" stroke="#6a2535" stroke-width="0.4"/>
<line x1="64.4" y1="214.4" x2="64.4" y2="377.8" stroke="#0000ff" stroke-width="1.25" stroke-dasharray="7 1.8 1.3 1.9" />
<line x1="121.28" y1="214.4" x2="121.28" y2="377.8" stroke="#0000ff" stroke-width="1.25" stroke-dasharray="7 1.8 1.3 1.9" />
<line x1="505.8" y1="214.4" x2="505.8" y2="377.8" stroke="#0000ff" stroke-width="1.25" stroke-dasharray="7 1.8 1.3 1.9" />
<line x1="646.53" y1="214.4" x2="646.53" y2="377.8" stroke="#0000ff" stroke-width="1.25" stroke-dasharray="7 1.8 1.3 1.9" />
<line x1="655.4" y1="214.4" x2="655.4" y2="377.8" stroke="#0000ff" stroke-width="1.25" stroke-dasharray="7 1.8 1.3 1.9" />
<line x1="64.4" y1="229" x2="121.28" y2="229" stroke="#2a2aff" stroke-width="0.75" />
<line x1="64.4" y1="226.2" x2="64.4" y2="231.8" stroke="#0000ff" stroke-width="0.8" />
<line x1="121.28" y1="226.2" x2="121.28" y2="231.8" stroke="#0000ff" stroke-width="0.8" />
<polygon points="64.7,229 70.9,227.3 70.9,230.7" fill="#0000ff"/>
<polygon points="120.98,229 114.78,227.3 114.78,230.7" fill="#0000ff"/>
<line x1="121.28" y1="229" x2="505.8" y2="229" stroke="#2a2aff" stroke-width="0.75" />
<line x1="121.28" y1="226.2" x2="121.28" y2="231.8" stroke="#0000ff" stroke-width="0.8" />
<line x1="505.8" y1="226.2" x2="505.8" y2="231.8" stroke="#0000ff" stroke-width="0.8" />
<polygon points="121.58,229 127.78,227.3 127.78,230.7" fill="#0000ff"/>
<polygon points="505.5,229 499.3,227.3 499.3,230.7" fill="#0000ff"/>
<line x1="505.8" y1="229" x2="646.53" y2="229" stroke="#2a2aff" stroke-width="0.75" />
<line x1="505.8" y1="226.2" x2="505.8" y2="231.8" stroke="#0000ff" stroke-width="0.8" />
<line x1="646.53" y1="226.2" x2="646.53" y2="231.8" stroke="#0000ff" stroke-width="0.8" />
<polygon points="506.1,229 512.3,227.3 512.3,230.7" fill="#0000ff"/>
<polygon points="646.24,229 640.03,227.3 640.03,230.7" fill="#0000ff"/>
<line x1="646.53" y1="229" x2="655.4" y2="229" stroke="#2a2aff" stroke-width="0.75" />
<line x1="646.53" y1="226.2" x2="646.53" y2="231.8" stroke="#0000ff" stroke-width="0.8" />
<line x1="655.4" y1="226.2" x2="655.4" y2="231.8" stroke="#0000ff" stroke-width="0.8" />
<line x1="655.4" y1="229" x2="669.4" y2="229" stroke="#2a2aff" stroke-width="0.75" />
<polygon points="646.24,229.0 640.03,227.3 640.03,230.7" fill="#0000ff"/>
<polygon points="655.7,229.0 661.9,227.3 661.9,230.7" fill="#0000ff"/>
<text x="102.9" y="245.1" font-family='"Liberation Serif", "DejaVu Serif", serif' font-size="8.1" text-anchor="middle" font-weight="bold" fill="#0000ff" >Stage of temperature</text>
<text x="104.6" y="255.5" font-family='"Liberation Serif", "DejaVu Serif", serif' font-size="8.1" text-anchor="middle" font-weight="bold" fill="#0000ff" >and humidity adjustment</text>
<text x="99.8" y="265.4" font-family='"Liberation Serif", "DejaVu Serif", serif' font-size="8.1" text-anchor="middle" font-weight="bold" fill="#0000ff" >for droplets</text>
<text x="333" y="224.9" font-family='"Liberation Serif", "DejaVu Serif", serif' font-size="8.1" text-anchor="middle" font-weight="bold" fill="#0000ff" >Stage of stable evaporation for droplets</text>
<text x="583" y="226.3" font-family='"Liberation Serif", "DejaVu Serif", serif' font-size="8.1" text-anchor="middle" font-weight="bold" fill="#0000ff" >Stage of droplets drying</text>
<text x="653" y="212" font-family='"Liberation Serif", "DejaVu Serif", serif' font-size="8.1" text-anchor="middle" font-weight="bold" fill="#0000ff" >Drying completion</text>
<text x="654" y="222" font-family='"Liberation Serif", "DejaVu Serif", serif' font-size="8.1" text-anchor="middle" font-weight="bold" fill="#0000ff" >stage</text>
<rect x="148" y="231" width="255.5" height="37.5" fill="#fff" stroke="#8a8a8a" stroke-width="0.7"/>
<line x1="165" y1="238.5" x2="185" y2="238.5" stroke="#000" stroke-width="0.8" />
<polygon points="175,246.7 171.2,253.3 178.8,253.3" fill="#000"/>
<rect x="165" y="258" width="20" height="8.6" fill="url(#bgl)"/>
<clipPath id="hc4"><rect x="165" y="258" width="20" height="8.6"/></clipPath>
<path d="M145 258L153.6 266.6M155 258L146.4 266.6M152 258L160.6 266.6M162 258L153.4 266.6M159 258L167.6 266.6M169 258L160.4 266.6M166 258L174.6 266.6M176 258L167.4 266.6M173 258L181.6 266.6M183 258L174.4 266.6M180 258L188.6 266.6M190 258L181.4 266.6M187 258L195.6 266.6M197 258L188.4 266.6M194 258L202.6 266.6M204 258L195.4 266.6" stroke="#000" stroke-width="0.85" fill="none" clip-path="url(#hc4)"/>
<rect x="165" y="258" width="20" height="8.6" fill="none" stroke="#6a2535" stroke-width="0.4"/>
<text x="190" y="241" font-family='"Liberation Serif", "DejaVu Serif", serif' font-size="8.03" text-anchor="start" font-weight="normal" fill="#000" >Local evaporation rate <tspan font-style="italic">m</tspan><tspan font-size="5.5" dy="1.9">e-local</tspan><tspan dy="-1.9"> (when </tspan><tspan font-style="italic">T</tspan><tspan font-size="5.5" dy="1.9">supply water</tspan><tspan dy="-1.9">=45.17°C)</tspan></text>
<text x="190" y="253" font-family='"Liberation Serif", "DejaVu Serif", serif' font-size="8.03" text-anchor="start" font-weight="normal" fill="#000" >Average evaporation rate <tspan font-style="italic">m</tspan><tspan font-size="5.5" dy="1.9">e-experiment</tspan><tspan dy="-1.9"> (when </tspan><tspan font-style="italic">T</tspan><tspan font-size="5.5" dy="1.9">supply water</tspan><tspan dy="-1.9">=45.17°C)</tspan></text>
<text x="190" y="265" font-family='"Liberation Serif", "DejaVu Serif", serif' font-size="8.03" text-anchor="start" font-weight="normal" fill="#000" >Average evaporation rate <tspan font-style="italic">m</tspan><tspan font-size="5.5" dy="1.9">e-simulation</tspan><tspan dy="-1.9"> (when </tspan><tspan font-style="italic">T</tspan><tspan font-size="5.5" dy="1.9">supply water</tspan><tspan dy="-1.9">=45.17°C)</tspan></text>
<text x="165.5" y="277.5" font-family='"Liberation Serif", "DejaVu Serif", serif' font-size="8.05" text-anchor="middle" font-weight="normal" fill="#000" >The evaporation rate decreases rapidly during</text>
<text x="165.5" y="287.5" font-family='"Liberation Serif", "DejaVu Serif", serif' font-size="8.05" text-anchor="middle" font-weight="normal" fill="#000" >the humidity adjustment stage, and then gradually</text>
<text x="168.1" y="297.5" font-family='"Liberation Serif", "DejaVu Serif", serif' font-size="8.05" text-anchor="middle" font-weight="normal" fill="#000" >rises after the process-heat-supplied is in effect.</text>
<ellipse cx="67.5" cy="278.3" rx="9.3" ry="7.3" fill="none" stroke="#000" stroke-width="0.6" stroke-dasharray="1.6 1.4"/>
<line x1="87" y1="278.3" x2="80.55" y2="277.29" stroke="#000" stroke-width="0.6" />
<polygon points="76.1,276.6 81.75,276.06 81.32,278.83" fill="#000"/>
<ellipse cx="66.1" cy="350.6" rx="9.7" ry="6.8" fill="none" stroke="#000" stroke-width="0.6" stroke-dasharray="1.6 1.4"/>
<line x1="106" y1="300.2" x2="73.53" y2="340.6" stroke="#000" stroke-width="0.6" />
<polygon points="70.4,344.5 73.15,339.01 75.17,340.64" fill="#000"/>
<text x="133.5" y="336" font-family='"Liberation Serif", "DejaVu Serif", serif' font-size="8.05" text-anchor="start" font-weight="normal" fill="#000" >During this stage the evaporation rate continues to decrease</text>
<text x="133.5" y="346" font-family='"Liberation Serif", "DejaVu Serif", serif' font-size="8.05" text-anchor="start" font-weight="normal" fill="#000" >due to the increasing concentration of droplets</text>
<line x1="274" y1="325" x2="301.89" y2="305.65" stroke="#000" stroke-width="0.6" />
<polygon points="306,302.8 301.81,307.29 300.33,305.15" fill="#000"/>
<ellipse cx="315" cy="299" rx="9" ry="6.5" fill="none" stroke="#000" stroke-width="0.6" stroke-dasharray="1.6 1.4"/>
<text x="528.5" y="252" font-family='"Liberation Serif", "DejaVu Serif", serif' font-size="8.05" text-anchor="middle" font-weight="normal" fill="#000" >This is another unique phenomenon of process-heat-supplied action.</text>
<text x="528.5" y="262" font-family='"Liberation Serif", "DejaVu Serif", serif' font-size="8.05" text-anchor="middle" font-weight="normal" fill="#000" >It can quickly bring back the original disadvantage of rapidly decreasing</text>
<text x="536" y="272.4" font-family='"Liberation Serif", "DejaVu Serif", serif' font-size="8.05" text-anchor="middle" font-weight="normal" fill="#000" ><tspan font-style="italic">m</tspan><tspan font-size="5.2" dy="1.9">e-local</tspan><tspan dy="-1.9"> due to solids generation. This allows droplets to maintain high </tspan><tspan font-style="italic">m</tspan><tspan font-size="5.2" dy="1.9">e-local</tspan></text>
<text x="528.5" y="283.5" font-family='"Liberation Serif", "DejaVu Serif", serif' font-size="8.05" text-anchor="middle" font-weight="normal" fill="#000" >during this stage.</text>
<ellipse cx="520" cy="326.4" rx="9.3" ry="6.8" fill="none" stroke="#000" stroke-width="0.6" stroke-dasharray="1.6 1.4"/>
<ellipse cx="508.4" cy="358" rx="9.2" ry="6.8" fill="none" stroke="#000" stroke-width="0.6" stroke-dasharray="1.6 1.4"/>
<line x1="520.6" y1="287.3" x2="519.65" y2="315.1" stroke="#000" stroke-width="0.6" />
<polygon points="519.5,319.4 518.18,314.05 521.18,314.15" fill="#000"/>
<line x1="512.5" y1="286.7" x2="503.42" y2="349.04" stroke="#000" stroke-width="0.6" />
<polygon points="502.8,353.3 502.08,347.84 505.05,348.27" fill="#000"/>
<text x="582" y="347.5" font-family='"Liberation Serif", "DejaVu Serif", serif' font-size="8.05" text-anchor="start" font-weight="normal" fill="#000" >drying completed</text>
<line x1="620.4" y1="353.7" x2="637.41" y2="361.67" stroke="#000" stroke-width="0.6" />
<polygon points="641.3,363.5 635.86,362.61 637.14,359.89" fill="#000"/>
<ellipse cx="642.4" cy="368.5" rx="6" ry="6.7" fill="none" stroke="#000" stroke-width="0.6" stroke-dasharray="1.6 1.4"/>
<text x="146.2" y="369.5" font-family='"Liberation Serif", "DejaVu Serif", serif' font-size="10.4" text-anchor="start" font-weight="normal" fill="#000" >From Inlet of Tower</text>
<text x="278.5" y="363.8" font-family='"Liberation Serif", "DejaVu Serif", serif' font-size="10.4" text-anchor="start" font-weight="normal" fill="#000" >Flowing Direction of The Mixed Flow</text>
<text x="501" y="369.5" font-family='"Liberation Serif", "DejaVu Serif", serif' font-size="10.4" text-anchor="start" font-weight="normal" fill="#000" >To Outlet of Tower</text>
<line x1="244" y1="367.4" x2="482.5" y2="367.4" stroke="#000" stroke-width="2.0" />
<polygon points="491.5,367.4 479.2,363.9 479.2,370.9" fill="#000"/>
<rect x="49.5" y="214.4" width="620" height="162.2" fill="none" stroke="#1a1a1a" stroke-width="1.0"/>
<text x="64.4" y="389.9" font-family='"Liberation Serif", "DejaVu Serif", serif' font-size="10" text-anchor="middle" font-weight="normal" fill="#000" >0.0</text>
<text x="138.28" y="389.9" font-family='"Liberation Serif", "DejaVu Serif", serif' font-size="10" text-anchor="middle" font-weight="normal" fill="#000" >0.1</text>
<text x="212.15" y="389.9" font-family='"Liberation Serif", "DejaVu Serif", serif' font-size="10" text-anchor="middle" font-weight="normal" fill="#000" >0.2</text>
<text x="286.03" y="389.9" font-family='"Liberation Serif", "DejaVu Serif", serif' font-size="10" text-anchor="middle" font-weight="normal" fill="#000" >0.3</text>
<text x="359.9" y="389.9" font-family='"Liberation Serif", "DejaVu Serif", serif' font-size="10" text-anchor="middle" font-weight="normal" fill="#000" >0.4</text>
<text x="433.77" y="389.9" font-family='"Liberation Serif", "DejaVu Serif", serif' font-size="10" text-anchor="middle" font-weight="normal" fill="#000" >0.5</text>
<text x="507.65" y="389.9" font-family='"Liberation Serif", "DejaVu Serif", serif' font-size="10" text-anchor="middle" font-weight="normal" fill="#000" >0.6</text>
<text x="581.52" y="389.9" font-family='"Liberation Serif", "DejaVu Serif", serif' font-size="10" text-anchor="middle" font-weight="normal" fill="#000" >0.7</text>
<text x="655.4" y="389.9" font-family='"Liberation Serif", "DejaVu Serif", serif' font-size="10" text-anchor="middle" font-weight="normal" fill="#000" >0.8</text>
<text x="44.3" y="372.4" font-family='"Liberation Serif", "DejaVu Serif", serif' font-size="10" text-anchor="end" font-weight="normal" fill="#000" >0.0</text>
<text x="44.3" y="341.48" font-family='"Liberation Serif", "DejaVu Serif", serif' font-size="10" text-anchor="end" font-weight="normal" fill="#000" >0.2</text>
<text x="44.3" y="310.56" font-family='"Liberation Serif", "DejaVu Serif", serif' font-size="10" text-anchor="end" font-weight="normal" fill="#000" >0.4</text>
<text x="44.3" y="279.64" font-family='"Liberation Serif", "DejaVu Serif", serif' font-size="10" text-anchor="end" font-weight="normal" fill="#000" >0.6</text>
<text x="44.3" y="248.72" font-family='"Liberation Serif", "DejaVu Serif", serif' font-size="10" text-anchor="end" font-weight="normal" fill="#000" >0.8</text>
<text x="44.3" y="217.8" font-family='"Liberation Serif", "DejaVu Serif", serif' font-size="10" text-anchor="end" font-weight="normal" fill="#000" >1.0</text>
<text x="151.9" y="409.3" font-family='"Liberation Serif", "DejaVu Serif", serif' font-size="12.67" text-anchor="start" font-weight="normal" fill="#000" >Position of the tower height for the mixed flow of air and wastewater droplets (m)</text>
<g transform="translate(14.4,296.6) rotate(-90)">
<text x="0" y="0" font-family='"Liberation Serif", "DejaVu Serif", serif' font-size="12.75" text-anchor="middle" font-weight="normal" fill="#000" >Evaporation rate <tspan font-style="italic">m</tspan><tspan font-size="8.29" dy="2.6">e</tspan><tspan dy="-2.6"> (kg/h)</tspan></text>
</g>
<text x="0.6" y="213" font-family='"Liberation Sans", "DejaVu Sans", sans-serif' font-size="14.3" text-anchor="start" font-weight="bold" fill="#000" >(b)</text>
<rect x="49.5" y="419.3" width="620" height="162.2" fill="#fff" stroke="none"/>
<line x1="64.4" y1="419.3" x2="64.4" y2="581.5" stroke="#d9d9d9" stroke-width="0.5" />
<line x1="138.28" y1="419.3" x2="138.28" y2="581.5" stroke="#d9d9d9" stroke-width="0.5" />
<line x1="212.15" y1="419.3" x2="212.15" y2="581.5" stroke="#d9d9d9" stroke-width="0.5" />
<line x1="286.03" y1="419.3" x2="286.03" y2="581.5" stroke="#d9d9d9" stroke-width="0.5" />
<line x1="359.9" y1="419.3" x2="359.9" y2="581.5" stroke="#d9d9d9" stroke-width="0.5" />
<line x1="433.77" y1="419.3" x2="433.77" y2="581.5" stroke="#d9d9d9" stroke-width="0.5" />
<line x1="507.65" y1="419.3" x2="507.65" y2="581.5" stroke="#d9d9d9" stroke-width="0.5" />
<line x1="581.52" y1="419.3" x2="581.52" y2="581.5" stroke="#d9d9d9" stroke-width="0.5" />
<line x1="655.4" y1="419.3" x2="655.4" y2="581.5" stroke="#d9d9d9" stroke-width="0.5" />
<line x1="101.34" y1="419.3" x2="101.34" y2="581.5" stroke="#e6e6e6" stroke-width="0.5" stroke-dasharray="1.5 1.5" />
<line x1="175.21" y1="419.3" x2="175.21" y2="581.5" stroke="#e6e6e6" stroke-width="0.5" stroke-dasharray="1.5 1.5" />
<line x1="249.09" y1="419.3" x2="249.09" y2="581.5" stroke="#e6e6e6" stroke-width="0.5" stroke-dasharray="1.5 1.5" />
<line x1="322.96" y1="419.3" x2="322.96" y2="581.5" stroke="#e6e6e6" stroke-width="0.5" stroke-dasharray="1.5 1.5" />
<line x1="396.84" y1="419.3" x2="396.84" y2="581.5" stroke="#e6e6e6" stroke-width="0.5" stroke-dasharray="1.5 1.5" />
<line x1="470.71" y1="419.3" x2="470.71" y2="581.5" stroke="#e6e6e6" stroke-width="0.5" stroke-dasharray="1.5 1.5" />
<line x1="544.59" y1="419.3" x2="544.59" y2="581.5" stroke="#e6e6e6" stroke-width="0.5" stroke-dasharray="1.5 1.5" />
<line x1="618.46" y1="419.3" x2="618.46" y2="581.5" stroke="#e6e6e6" stroke-width="0.5" stroke-dasharray="1.5 1.5" />
<line x1="49.5" y1="573.9" x2="669.5" y2="573.9" stroke="#d4d4d4" stroke-width="0.5" />
<line x1="49.5" y1="542.98" x2="669.5" y2="542.98" stroke="#d4d4d4" stroke-width="0.5" />
<line x1="49.5" y1="512.06" x2="669.5" y2="512.06" stroke="#d4d4d4" stroke-width="0.5" />
<line x1="49.5" y1="481.14" x2="669.5" y2="481.14" stroke="#d4d4d4" stroke-width="0.5" />
<line x1="49.5" y1="450.22" x2="669.5" y2="450.22" stroke="#d4d4d4" stroke-width="0.5" />
<line x1="49.5" y1="558.44" x2="669.5" y2="558.44" stroke="#e6e6e6" stroke-width="0.5" stroke-dasharray="1.5 1.5" />
<line x1="49.5" y1="527.52" x2="669.5" y2="527.52" stroke="#e6e6e6" stroke-width="0.5" stroke-dasharray="1.5 1.5" />
<line x1="49.5" y1="496.6" x2="669.5" y2="496.6" stroke="#e6e6e6" stroke-width="0.5" stroke-dasharray="1.5 1.5" />
<line x1="49.5" y1="465.68" x2="669.5" y2="465.68" stroke="#e6e6e6" stroke-width="0.5" stroke-dasharray="1.5 1.5" />
<line x1="49.5" y1="434.76" x2="669.5" y2="434.76" stroke="#e6e6e6" stroke-width="0.5" stroke-dasharray="1.5 1.5" />
<polyline points="66.62,419.3 66.99,470.01 68.02,528.45 69.28,544.53 70.01,547.4 70.51,546.09 70.9,544.84 71.01,544.45 71.5,542.38 71.79,541.06 72,540.01 72.38,538.19 72.5,537.61 72.99,535.07 73.49,532.44 73.56,532.09 73.99,529.9 74.3,528.45 74.48,527.63 74.98,525.5 75.33,524.06 75.48,523.46 75.97,521.51 76.47,519.65 76.97,517.9 77.1,517.46 77.33,516.7 77.46,516.26 77.96,514.68 78.46,513.16 78.87,511.95 78.95,511.71 79.45,510.32 79.95,508.99 80.44,507.73 80.64,507.25 80.94,506.55 81.17,506.03 81.44,505.44 81.93,504.36 82.41,503.36 82.43,503.32 82.93,502.32 83.42,501.35 83.92,500.41 84.18,499.93 84.42,499.51 84.91,498.65 85.41,497.81 85.91,497.01 85.95,496.94 86.4,496.25 86.9,495.51 87.01,495.36 87.4,494.81 87.73,494.35 87.89,494.12 88.39,493.45 88.89,492.8 89.38,492.17 89.5,492.03 89.88,491.56 90.38,490.97 90.87,490.4 91.27,489.96 91.37,489.85 91.87,489.32 92.36,488.81 92.86,488.33 93.04,488.16 93.36,487.87 93.8,487.48 93.85,487.44 94.35,487.02 94.81,486.64 94.85,486.61 95.34,486.22 95.84,485.84 96.34,485.47 96.58,485.3 96.83,485.12 97.33,484.77 97.83,484.44 98.32,484.12 98.35,484.1 98.82,483.8 99.32,483.5 99.81,483.21 100.12,483.03 100.31,482.93 100.81,482.66 101.3,482.39 101.63,482.22 101.8,482.14 101.9,482.09 102.3,481.89 102.79,481.65 103.29,481.41 103.67,481.24 103.79,481.18 104.28,480.96 104.78,480.74 105.28,480.53 105.44,480.47 105.77,480.33 106.27,480.13 106.77,479.93 107.21,479.77 107.26,479.75 107.76,479.56 108.26,479.39 108.75,479.22 108.98,479.14 109.25,479.05 109.75,478.89 109.98,478.82 110.24,478.74 110.74,478.59 110.75,478.59 111.24,478.44 111.73,478.3 112.23,478.16 112.52,478.08 112.73,478.02 113.22,477.89 113.72,477.76 114.22,477.63 114.29,477.61 114.71,477.5 115.21,477.38 115.71,477.26 116.06,477.18 116.2,477.15 116.7,477.03 117.2,476.92 117.69,476.82 117.84,476.79 118.19,476.71 118.69,476.61 119.18,476.51 119.61,476.43 119.68,476.41 120.03,476.35 120.18,476.32 120.67,476.23 121.17,476.13 121.38,476.09 121.66,476.04 122.16,475.94 122.66,475.85 123.15,475.76 123.15,475.76 123.65,475.66 124.15,475.57 124.64,475.48 124.92,475.43 125.14,475.39 125.64,475.31 126.13,475.22 126.63,475.14 126.69,475.13 127.13,475.05 127.62,474.97 128.12,474.9 128.46,474.84 128.62,474.82 129.11,474.75 130.23,474.6 132,474.39 133.78,474.23 134.58,474.18 135.55,474.13 137.32,474.03 139.09,473.95 140.86,473.86 142.63,473.79 144.4,473.72 146.17,473.67 147.94,473.62 149.72,473.59 151.49,473.57 153.05,473.56 153.26,473.56 155.03,473.58 156.8,473.61 158.57,473.66 160.34,473.73 162.11,473.81 163.89,473.91 165.66,474.01 167.43,474.12 169.2,474.24 170.97,474.36 172.74,474.48 174.51,474.6 175.21,474.65 176.28,474.72 178.05,474.85 179.83,475 181.6,475.16 183.37,475.33 185.14,475.51 186.91,475.7 188.68,475.9 190.45,476.11 192.22,476.33 193.99,476.55 195.77,476.78 197.54,477.01 199.31,477.24 201.08,477.48 202.85,477.72 204.62,477.96 206.39,478.2 208.16,478.44 209.93,478.68 211.71,478.92 212.15,478.98 213.48,479.15 215.25,479.39 217.02,479.63 218.79,479.88 220.56,480.13 222.33,480.39 224.1,480.64 225.88,480.9 227.65,481.17 229.42,481.44 231.19,481.7 232.96,481.98 234.73,482.25 236.5,482.53 238.27,482.81 240.04,483.09 241.82,483.37 243.59,483.65 245.36,483.94 247.13,484.22 248.9,484.51 249.09,484.54 250.67,484.8 252.44,485.09 254.21,485.39 255.98,485.69 257.76,485.99 259.53,486.3 261.3,486.61 263.07,486.92 264.84,487.23 266.61,487.54 268.38,487.86 270.15,488.18 271.92,488.49 273.7,488.81 275.47,489.13 277.24,489.45 279.01,489.77 280.78,490.09 282.55,490.41 284.32,490.73 286.02,491.03 286.09,491.05 287.87,491.36 289.64,491.68 291.41,491.99 293.18,492.3 294.95,492.62 296.72,492.93 298.49,493.25 300.26,493.57 302.03,493.9 303.81,494.22 305.58,494.56 307.35,494.89 308.19,495.05 309.12,495.23 310.89,495.58 312.66,495.92 314.43,496.26 316.2,496.61 317.97,496.96 319.75,497.31 321.52,497.66 323.29,498.02 325.06,498.38 326.83,498.74 328.6,499.11 330.37,499.48 332.14,499.86 333.91,500.25 335.69,500.64 337.46,501.04 339.23,501.45 341,501.86 342.77,502.29 342.91,502.32 344.54,502.72 346.31,503.15 348.08,503.6 349.86,504.05 351.63,504.5 353.4,504.97 355.17,505.44 356.94,505.92 358.71,506.4 360.48,506.9 362.25,507.4 364.02,507.91 365.8,508.42 367.57,508.95 369.34,509.49 371.11,510.03 372.88,510.58 374.65,511.15 376.42,511.72 378.19,512.3 379.96,512.89 381.74,513.49 382.06,513.61 383.51,514.11 385.28,514.76 387.05,515.44 388.82,516.13 390.59,516.85 392.36,517.58 394.13,518.33 395.9,519.09 397.68,519.85 399.45,520.63 400.01,520.87 401.22,521.4 402.99,522.18 404.76,522.98 406.53,523.79 408.3,524.6 410.07,525.43 411.85,526.27 413.62,527.12 415.39,527.98 417.16,528.86 418.93,529.74 420.7,530.63 422.47,531.54 423.28,550.71 424.02,566.94 424.52,541.71 424.54,541.28 425.02,533.61 425.28,530.36 425.51,528.06 426.01,524.25 426.51,521.41 426.54,521.21 426.61,520.87 427,518.92 427.5,516.82 427.81,515.73 428,515.14 428.49,513.95 428.6,513.76 428.99,513.16 429.07,513.04 429.49,512.45 429.98,511.84 430.33,511.48 430.48,511.34 430.98,510.97 431.47,510.73 431.59,510.69 431.71,510.67 431.97,510.62 432.47,510.54 432.85,510.48 432.96,510.47 433.46,510.4 433.96,510.35 434.11,510.33 434.45,510.3 434.95,510.26 435.37,510.24 435.45,510.24 435.94,510.22 436.44,510.21 436.63,510.2 436.73,510.2 436.94,510.21 437.43,510.21 437.89,510.23 437.93,510.23 438.43,510.25 438.92,510.27 439.15,510.29 439.42,510.31 439.92,510.34 440.41,510.38 440.41,510.38 440.91,510.43 441.41,510.47 441.67,510.5 441.9,510.52 442.4,510.57 442.9,510.62 442.93,510.63 443.39,510.68 443.89,510.73 444.19,510.76 444.39,510.78 444.86,510.82 444.88,510.83 445.38,510.87 445.45,510.88 445.88,510.92 446.37,510.98 446.71,511.01 446.87,511.03 447.37,511.08 447.86,511.14 447.97,511.15 448.36,511.19 448.86,511.25 449.23,511.3 449.35,511.31 449.85,511.37 450.35,511.43 450.5,511.45 450.84,511.49 451.34,511.56 451.76,511.61 451.84,511.62 452.33,511.69 452.83,511.75 453.02,511.78 453.33,511.82 453.82,511.89 454.28,511.95 454.32,511.96 454.82,512.03 455.31,512.1 455.54,512.14 455.81,512.18 456.31,512.25 456.8,512.32 456.8,512.32 457.3,512.4 457.79,512.48 458.06,512.52 458.29,512.55 458.79,512.63 459.28,512.71 459.32,512.72 459.78,512.79 460.28,512.87 460.58,512.92 460.77,512.95 461.27,513.04 461.77,513.12 461.84,513.13 462.26,513.2 462.76,513.29 463.1,513.34 463.26,513.37 463.75,513.46 464.25,513.54 464.36,513.56 464.75,513.63 465.24,513.72 465.62,513.79 465.74,513.81 466.24,513.9 466.73,513.98 466.88,514.01 467.23,514.07 467.73,514.16 468.14,514.24 468.22,514.26 468.72,514.35 469.22,514.44 469.4,514.47 469.71,514.53 470.21,514.62 470.66,514.71 470.71,514.72 471.2,514.81 471.7,514.9 471.92,514.94 472.2,515 472.69,515.09 473.18,515.18 473.19,515.19 473.69,515.28 474.18,515.38 474.45,515.43 474.68,515.47 475.18,515.57 475.67,515.66 475.71,515.67 476.17,515.76 476.67,515.85 476.97,515.91 477.16,515.95 477.66,516.05 478.16,516.14 478.23,516.16 478.65,516.24 479.15,516.34 479.49,516.4 479.65,516.43 480.14,516.53 480.64,516.63 480.75,516.65 481.14,516.72 481.63,516.82 481.79,516.85 482.01,516.89 482.13,516.92 482.63,517.02 483.12,517.11 483.27,517.14 484.53,517.4 485.79,517.65 487.05,517.91 488.31,518.18 489.57,518.45 490.83,518.72 492.09,519 493.35,519.28 494.61,519.56 495.87,519.85 497.14,520.14 498.4,520.44 499.66,520.74 500.92,521.04 502.18,521.34 503.44,521.65 504.7,521.97 505.96,522.28 507.22,522.61 508.48,522.93 509.74,523.26 511,523.59 512.26,523.92 513.52,524.26 514.78,524.6 516.04,524.94 517.3,525.28 518.56,525.63 519.83,525.98 521.09,526.34 522.35,526.7 523.61,527.06 523.9,573.9 655.4,573.9" fill="none" stroke="#111" stroke-width="0.75" stroke-linejoin="round" clip-path="url(#clipc)"/>
<polygon points="654.8,517.5 650.2,524.7 659.4,524.7" fill="#000"/>
<rect x="647.0" y="521.1" width="14.9" height="60.4" fill="url(#bgc)" />
<clipPath id="hc5"><rect x="647" y="521.1" width="14.9" height="60.4"/></clipPath>
<path d="M579.7 521.1L640.1 581.5M638.3 521.1L577.9 581.5M586.7 521.1L647.1 581.5M645.3 521.1L584.9 581.5M593.7 521.1L654.1 581.5M652.3 521.1L591.9 581.5M600.7 521.1L661.1 581.5M659.3 521.1L598.9 581.5M607.7 521.1L668.1 581.5M666.3 521.1L605.9 581.5M614.7 521.1L675.1 581.5M673.3 521.1L612.9 581.5M621.7 521.1L682.1 581.5M680.3 521.1L619.9 581.5M628.7 521.1L689.1 581.5M687.3 521.1L626.9 581.5M635.7 521.1L696.1 581.5M694.3 521.1L633.9 581.5M642.7 521.1L703.1 581.5M701.3 521.1L640.9 581.5M649.7 521.1L710.1 581.5M708.3 521.1L647.9 581.5M656.7 521.1L717.1 581.5M715.3 521.1L654.9 581.5M663.7 521.1L724.1 581.5M722.3 521.1L661.9 581.5M670.7 521.1L731.1 581.5M729.3 521.1L668.9 581.5" stroke="#000" stroke-width="1.0" fill="none" clip-path="url(#hc5)"/>
<rect x="647" y="521.1" width="14.9" height="60.4" fill="none" stroke="#6a2535" stroke-width="0.4"/>
<line x1="64.4" y1="419.3" x2="64.4" y2="582.7" stroke="#0000ff" stroke-width="1.25" stroke-dasharray="7 1.8 1.3 1.9" />
<line x1="119.07" y1="419.3" x2="119.07" y2="582.7" stroke="#0000ff" stroke-width="1.25" stroke-dasharray="7 1.8 1.3 1.9" />
<line x1="423.06" y1="419.3" x2="423.06" y2="582.7" stroke="#0000ff" stroke-width="1.25" stroke-dasharray="7 1.8 1.3 1.9" />
<line x1="523.9" y1="419.3" x2="523.9" y2="582.7" stroke="#0000ff" stroke-width="1.25" stroke-dasharray="7 1.8 1.3 1.9" />
<line x1="655.4" y1="419.3" x2="655.4" y2="582.7" stroke="#0000ff" stroke-width="1.25" stroke-dasharray="7 1.8 1.3 1.9" />
<line x1="64.4" y1="433" x2="119.07" y2="433" stroke="#2a2aff" stroke-width="0.75" />
<line x1="64.4" y1="430.2" x2="64.4" y2="435.8" stroke="#0000ff" stroke-width="0.8" />
<line x1="119.07" y1="430.2" x2="119.07" y2="435.8" stroke="#0000ff" stroke-width="0.8" />
<polygon points="64.7,433 70.9,431.3 70.9,434.7" fill="#0000ff"/>
<polygon points="118.77,433 112.57,431.3 112.57,434.7" fill="#0000ff"/>
<line x1="119.07" y1="433" x2="423.06" y2="433" stroke="#2a2aff" stroke-width="0.75" />
<line x1="119.07" y1="430.2" x2="119.07" y2="435.8" stroke="#0000ff" stroke-width="0.8" />
<line x1="423.06" y1="430.2" x2="423.06" y2="435.8" stroke="#0000ff" stroke-width="0.8" />
<polygon points="119.37,433 125.57,431.3 125.57,434.7" fill="#0000ff"/>
<polygon points="422.76,433 416.56,431.3 416.56,434.7" fill="#0000ff"/>
<line x1="423.06" y1="433" x2="523.9" y2="433" stroke="#2a2aff" stroke-width="0.75" />
<line x1="423.06" y1="430.2" x2="423.06" y2="435.8" stroke="#0000ff" stroke-width="0.8" />
<line x1="523.9" y1="430.2" x2="523.9" y2="435.8" stroke="#0000ff" stroke-width="0.8" />
<polygon points="423.36,433 429.56,431.3 429.56,434.7" fill="#0000ff"/>
<polygon points="523.6,433 517.4,431.3 517.4,434.7" fill="#0000ff"/>
<line x1="523.9" y1="433" x2="655.4" y2="433" stroke="#2a2aff" stroke-width="0.75" />
<line x1="523.9" y1="430.2" x2="523.9" y2="435.8" stroke="#0000ff" stroke-width="0.8" />
<line x1="655.4" y1="430.2" x2="655.4" y2="435.8" stroke="#0000ff" stroke-width="0.8" />
<polygon points="524.2,433 530.4,431.3 530.4,434.7" fill="#0000ff"/>
<polygon points="655.1,433 648.9,431.3 648.9,434.7" fill="#0000ff"/>
<text x="102.9" y="449.9" font-family='"Liberation Serif", "DejaVu Serif", serif' font-size="8.1" text-anchor="middle" font-weight="bold" fill="#0000ff" >Stage of temperature</text>
<text x="104.6" y="460.3" font-family='"Liberation Serif", "DejaVu Serif", serif' font-size="8.1" text-anchor="middle" font-weight="bold" fill="#0000ff" >and humidity adjustment</text>
<text x="99.8" y="470.2" font-family='"Liberation Serif", "DejaVu Serif", serif' font-size="8.1" text-anchor="middle" font-weight="bold" fill="#0000ff" >for droplets</text>
<text x="280" y="430" font-family='"Liberation Serif", "DejaVu Serif", serif' font-size="8.1" text-anchor="middle" font-weight="bold" fill="#0000ff" >Stage of stable evaporation for droplets</text>
<text x="473.3" y="429.5" font-family='"Liberation Serif", "DejaVu Serif", serif' font-size="8.1" text-anchor="middle" font-weight="bold" fill="#0000ff" >Stage of droplets drying</text>
<text x="591.3" y="429.5" font-family='"Liberation Serif", "DejaVu Serif", serif' font-size="8.1" text-anchor="middle" font-weight="bold" fill="#0000ff" >Drying completion stage</text>
<rect x="152.5" y="435.5" width="262" height="37.5" fill="#fff" stroke="#8a8a8a" stroke-width="0.7"/>
<line x1="172.5" y1="443.5" x2="190" y2="443.5" stroke="#000" stroke-width="0.8" />
<polygon points="181.25,451.7 177.45,458.3 185.05,458.3" fill="#000"/>
<rect x="172.5" y="462.5" width="17.5" height="8.6" fill="url(#bgl)"/>
<clipPath id="hc6"><rect x="172.5" y="462.5" width="17.5" height="8.6"/></clipPath>
<path d="M152.5 462.5L161.1 471.1M162.5 462.5L153.9 471.1M159.5 462.5L168.1 471.1M169.5 462.5L160.9 471.1M166.5 462.5L175.1 471.1M176.5 462.5L167.9 471.1M173.5 462.5L182.1 471.1M183.5 462.5L174.9 471.1M180.5 462.5L189.1 471.1M190.5 462.5L181.9 471.1M187.5 462.5L196.1 471.1M197.5 462.5L188.9 471.1M194.5 462.5L203.1 471.1M204.5 462.5L195.9 471.1" stroke="#000" stroke-width="0.85" fill="none" clip-path="url(#hc6)"/>
<rect x="172.5" y="462.5" width="17.5" height="8.6" fill="none" stroke="#6a2535" stroke-width="0.4"/>
<text x="195" y="446" font-family='"Liberation Serif", "DejaVu Serif", serif' font-size="8.03" text-anchor="start" font-weight="normal" fill="#000" >Local evaporation rate <tspan font-style="italic">m</tspan><tspan font-size="5.5" dy="1.9">e-local</tspan><tspan dy="-1.9"> (when </tspan><tspan font-style="italic">T</tspan><tspan font-size="5.5" dy="1.9">supply water</tspan><tspan dy="-1.9">=50.93°C)</tspan></text>
<text x="195" y="458" font-family='"Liberation Serif", "DejaVu Serif", serif' font-size="8.03" text-anchor="start" font-weight="normal" fill="#000" >Average evaporation rate <tspan font-style="italic">m</tspan><tspan font-size="5.5" dy="1.9">e-experiment</tspan><tspan dy="-1.9"> (when </tspan><tspan font-style="italic">T</tspan><tspan font-size="5.5" dy="1.9">supply water</tspan><tspan dy="-1.9">=50.93°C)</tspan></text>
<text x="195" y="469.5" font-family='"Liberation Serif", "DejaVu Serif", serif' font-size="8.03" text-anchor="start" font-weight="normal" fill="#000" >Average evaporation rate <tspan font-style="italic">m</tspan><tspan font-size="5.5" dy="1.9">e-simulation</tspan><tspan dy="-1.9"> (when </tspan><tspan font-style="italic">T</tspan><tspan font-size="5.5" dy="1.9">supply water</tspan><tspan dy="-1.9">=50.93°C)</tspan></text>
<text x="168.7" y="485.5" font-family='"Liberation Serif", "DejaVu Serif", serif' font-size="8.05" text-anchor="middle" font-weight="normal" fill="#000" >The evaporation rate decreases rapidly during</text>
<text x="168.7" y="495.2" font-family='"Liberation Serif", "DejaVu Serif", serif' font-size="8.05" text-anchor="middle" font-weight="normal" fill="#000" >the humidity adjustment stage, and then gradually</text>
<text x="171.3" y="504.8" font-family='"Liberation Serif", "DejaVu Serif", serif' font-size="8.05" text-anchor="middle" font-weight="normal" fill="#000" >rises after the process-heat-supplied is in effect.</text>
<ellipse cx="67.7" cy="483.1" rx="9.5" ry="7.3" fill="none" stroke="#000" stroke-width="0.6" stroke-dasharray="1.6 1.4"/>
<line x1="92.4" y1="485.1" x2="80.49" y2="482.47" stroke="#000" stroke-width="0.6" />
<polygon points="76.1,481.5 81.77,481.32 81.17,484.05" fill="#000"/>
<ellipse cx="69.5" cy="546" rx="9.3" ry="7" fill="none" stroke="#000" stroke-width="0.6" stroke-dasharray="1.6 1.4"/>
<line x1="106" y1="505.5" x2="78.4" y2="536.85" stroke="#000" stroke-width="0.6" />
<polygon points="75.1,540.6 78.09,535.24 80.04,536.96" fill="#000"/>
<text x="133.5" y="540" font-family='"Liberation Serif", "DejaVu Serif", serif' font-size="8.05" text-anchor="start" font-weight="normal" fill="#000" >During this stage the evaporation rate continues to decrease</text>
<text x="133.5" y="550" font-family='"Liberation Serif", "DejaVu Serif", serif' font-size="8.05" text-anchor="start" font-weight="normal" fill="#000" >due to the increasing concentration of droplets</text>
<line x1="268.5" y1="527.5" x2="297.77" y2="501.33" stroke="#000" stroke-width="0.6" />
<polygon points="301.5,498 297.89,502.97 296.16,501.03" fill="#000"/>
<ellipse cx="308.5" cy="494" rx="9" ry="6.5" fill="none" stroke="#000" stroke-width="0.6" stroke-dasharray="1.6 1.4"/>
<text x="528.5" y="461" font-family='"Liberation Serif", "DejaVu Serif", serif' font-size="8.05" text-anchor="middle" font-weight="normal" fill="#000" >This is another unique phenomenon of process-heat-supplied action.</text>
<text x="528.5" y="471" font-family='"Liberation Serif", "DejaVu Serif", serif' font-size="8.05" text-anchor="middle" font-weight="normal" fill="#000" >It can quickly bring back the original disadvantage of rapidly decreasing</text>
<text x="536" y="481" font-family='"Liberation Serif", "DejaVu Serif", serif' font-size="8.05" text-anchor="middle" font-weight="normal" fill="#000" ><tspan font-style="italic">m</tspan><tspan font-size="5.2" dy="1.9">e-local</tspan><tspan dy="-1.9"> due to solids generation. This allows droplets to maintain high </tspan><tspan font-style="italic">m</tspan><tspan font-size="5.2" dy="1.9">e-local</tspan></text>
<text x="528.5" y="492.8" font-family='"Liberation Serif", "DejaVu Serif", serif' font-size="8.05" text-anchor="middle" font-weight="normal" fill="#000" >during this stage.</text>
<ellipse cx="435.8" cy="516.8" rx="9.2" ry="6.7" fill="none" stroke="#000" stroke-width="0.6" stroke-dasharray="1.6 1.4"/>
<ellipse cx="423.1" cy="561.7" rx="9.8" ry="7.8" fill="none" stroke="#000" stroke-width="0.6" stroke-dasharray="1.6 1.4"/>
<line x1="497.7" y1="498" x2="449.52" y2="512.46" stroke="#000" stroke-width="0.6" />
<polygon points="445.4,513.7 450.04,510.74 450.91,513.61" fill="#000"/>
<line x1="505.3" y1="499.4" x2="432.05" y2="554.03" stroke="#000" stroke-width="0.6" />
<polygon points="428.6,556.6 431.95,552.23 433.75,554.63" fill="#000"/>
<text x="546.5" y="545.5" font-family='"Liberation Serif", "DejaVu Serif", serif' font-size="8.05" text-anchor="start" font-weight="normal" fill="#000" >drying completed</text>
<line x1="570.5" y1="547.5" x2="537.04" y2="565.14" stroke="#000" stroke-width="0.6" />
<polygon points="533.5,567 537.41,563.7 538.44,565.64" fill="#000"/>
<ellipse cx="528.4" cy="571.1" rx="6.7" ry="7.2" fill="none" stroke="#000" stroke-width="0.6" stroke-dasharray="1.6 1.4"/>
<text x="146.2" y="574.4" font-family='"Liberation Serif", "DejaVu Serif", serif' font-size="10.4" text-anchor="start" font-weight="normal" fill="#000" >From Inlet of Tower</text>
<text x="278.5" y="568.7" font-family='"Liberation Serif", "DejaVu Serif", serif' font-size="10.4" text-anchor="start" font-weight="normal" fill="#000" >Flowing Direction of The Mixed Flow</text>
<text x="501" y="574.4" font-family='"Liberation Serif", "DejaVu Serif", serif' font-size="10.4" text-anchor="start" font-weight="normal" fill="#000" >To Outlet of Tower</text>
<line x1="244" y1="572.3" x2="482.5" y2="572.3" stroke="#000" stroke-width="2.0" />
<polygon points="491.5,572.3 479.2,568.8 479.2,575.8" fill="#000"/>
<rect x="49.5" y="419.3" width="620" height="162.2" fill="none" stroke="#1a1a1a" stroke-width="1.0"/>
<line x1="101.34" y1="581.5" x2="101.34" y2="579.3" stroke="#222" stroke-width="0.7" />
<line x1="249.09" y1="581.5" x2="249.09" y2="579.3" stroke="#222" stroke-width="0.7" />
<line x1="322.96" y1="581.5" x2="322.96" y2="579.3" stroke="#222" stroke-width="0.7" />
<line x1="396.84" y1="581.5" x2="396.84" y2="579.3" stroke="#222" stroke-width="0.7" />
<line x1="470.71" y1="581.5" x2="470.71" y2="579.3" stroke="#222" stroke-width="0.7" />
<text x="64.4" y="594.8" font-family='"Liberation Serif", "DejaVu Serif", serif' font-size="10" text-anchor="middle" font-weight="normal" fill="#000" >0.0</text>
<text x="138.28" y="594.8" font-family='"Liberation Serif", "DejaVu Serif", serif' font-size="10" text-anchor="middle" font-weight="normal" fill="#000" >0.1</text>
<text x="212.15" y="594.8" font-family='"Liberation Serif", "DejaVu Serif", serif' font-size="10" text-anchor="middle" font-weight="normal" fill="#000" >0.2</text>
<text x="286.03" y="594.8" font-family='"Liberation Serif", "DejaVu Serif", serif' font-size="10" text-anchor="middle" font-weight="normal" fill="#000" >0.3</text>
<text x="359.9" y="594.8" font-family='"Liberation Serif", "DejaVu Serif", serif' font-size="10" text-anchor="middle" font-weight="normal" fill="#000" >0.4</text>
<text x="433.77" y="594.8" font-family='"Liberation Serif", "DejaVu Serif", serif' font-size="10" text-anchor="middle" font-weight="normal" fill="#000" >0.5</text>
<text x="507.65" y="594.8" font-family='"Liberation Serif", "DejaVu Serif", serif' font-size="10" text-anchor="middle" font-weight="normal" fill="#000" >0.6</text>
<text x="581.52" y="594.8" font-family='"Liberation Serif", "DejaVu Serif", serif' font-size="10" text-anchor="middle" font-weight="normal" fill="#000" >0.7</text>
<text x="655.4" y="594.8" font-family='"Liberation Serif", "DejaVu Serif", serif' font-size="10" text-anchor="middle" font-weight="normal" fill="#000" >0.8</text>
<text x="44.3" y="577.3" font-family='"Liberation Serif", "DejaVu Serif", serif' font-size="10" text-anchor="end" font-weight="normal" fill="#000" >0.0</text>
<text x="44.3" y="546.38" font-family='"Liberation Serif", "DejaVu Serif", serif' font-size="10" text-anchor="end" font-weight="normal" fill="#000" >0.2</text>
<text x="44.3" y="515.46" font-family='"Liberation Serif", "DejaVu Serif", serif' font-size="10" text-anchor="end" font-weight="normal" fill="#000" >0.4</text>
<text x="44.3" y="484.54" font-family='"Liberation Serif", "DejaVu Serif", serif' font-size="10" text-anchor="end" font-weight="normal" fill="#000" >0.6</text>
<text x="44.3" y="453.62" font-family='"Liberation Serif", "DejaVu Serif", serif' font-size="10" text-anchor="end" font-weight="normal" fill="#000" >0.8</text>
<text x="44.3" y="422.7" font-family='"Liberation Serif", "DejaVu Serif", serif' font-size="10" text-anchor="end" font-weight="normal" fill="#000" >1.0</text>
<text x="151.9" y="614.2" font-family='"Liberation Serif", "DejaVu Serif", serif' font-size="12.67" text-anchor="start" font-weight="normal" fill="#000" >Position of the tower height for the mixed flow of air and wastewater droplets (m)</text>
<g transform="translate(14.4,501.5) rotate(-90)">
<text x="0" y="0" font-family='"Liberation Serif", "DejaVu Serif", serif' font-size="12.75" text-anchor="middle" font-weight="normal" fill="#000" >Evaporation rate <tspan font-style="italic">m</tspan><tspan font-size="8.29" dy="2.6">e</tspan><tspan dy="-2.6"> (kg/h)</tspan></text>
</g>
<text x="0.6" y="416.2" font-family='"Liberation Sans", "DejaVu Sans", sans-serif' font-size="14.3" text-anchor="start" font-weight="bold" fill="#000" >(c)</text>
<rect x="49.5" y="625.0" width="620" height="162" fill="#fff" stroke="none"/>
<line x1="64.4" y1="625" x2="64.4" y2="787" stroke="#d9d9d9" stroke-width="0.5" />
<line x1="138.28" y1="625" x2="138.28" y2="787" stroke="#d9d9d9" stroke-width="0.5" />
<line x1="212.15" y1="625" x2="212.15" y2="787" stroke="#d9d9d9" stroke-width="0.5" />
<line x1="286.03" y1="625" x2="286.03" y2="787" stroke="#d9d9d9" stroke-width="0.5" />
<line x1="359.9" y1="625" x2="359.9" y2="787" stroke="#d9d9d9" stroke-width="0.5" />
<line x1="433.77" y1="625" x2="433.77" y2="787" stroke="#d9d9d9" stroke-width="0.5" />
<line x1="507.65" y1="625" x2="507.65" y2="787" stroke="#d9d9d9" stroke-width="0.5" />
<line x1="581.52" y1="625" x2="581.52" y2="787" stroke="#d9d9d9" stroke-width="0.5" />
<line x1="655.4" y1="625" x2="655.4" y2="787" stroke="#d9d9d9" stroke-width="0.5" />
<line x1="101.34" y1="625" x2="101.34" y2="787" stroke="#e6e6e6" stroke-width="0.5" stroke-dasharray="1.5 1.5" />
<line x1="175.21" y1="625" x2="175.21" y2="787" stroke="#e6e6e6" stroke-width="0.5" stroke-dasharray="1.5 1.5" />
<line x1="249.09" y1="625" x2="249.09" y2="787" stroke="#e6e6e6" stroke-width="0.5" stroke-dasharray="1.5 1.5" />
<line x1="322.96" y1="625" x2="322.96" y2="787" stroke="#e6e6e6" stroke-width="0.5" stroke-dasharray="1.5 1.5" />
<line x1="396.84" y1="625" x2="396.84" y2="787" stroke="#e6e6e6" stroke-width="0.5" stroke-dasharray="1.5 1.5" />
<line x1="470.71" y1="625" x2="470.71" y2="787" stroke="#e6e6e6" stroke-width="0.5" stroke-dasharray="1.5 1.5" />
<line x1="544.59" y1="625" x2="544.59" y2="787" stroke="#e6e6e6" stroke-width="0.5" stroke-dasharray="1.5 1.5" />
<line x1="618.46" y1="625" x2="618.46" y2="787" stroke="#e6e6e6" stroke-width="0.5" stroke-dasharray="1.5 1.5" />
<line x1="49.5" y1="773.3" x2="669.5" y2="773.3" stroke="#d4d4d4" stroke-width="0.5" />
<line x1="49.5" y1="746.32" x2="669.5" y2="746.32" stroke="#d4d4d4" stroke-width="0.5" />
<line x1="49.5" y1="719.34" x2="669.5" y2="719.34" stroke="#d4d4d4" stroke-width="0.5" />
<line x1="49.5" y1="692.36" x2="669.5" y2="692.36" stroke="#d4d4d4" stroke-width="0.5" />
<line x1="49.5" y1="665.38" x2="669.5" y2="665.38" stroke="#d4d4d4" stroke-width="0.5" />
<line x1="49.5" y1="638.4" x2="669.5" y2="638.4" stroke="#d4d4d4" stroke-width="0.5" />
<line x1="49.5" y1="759.81" x2="669.5" y2="759.81" stroke="#e6e6e6" stroke-width="0.5" stroke-dasharray="1.5 1.5" />
<line x1="49.5" y1="732.83" x2="669.5" y2="732.83" stroke="#e6e6e6" stroke-width="0.5" stroke-dasharray="1.5 1.5" />
<line x1="49.5" y1="705.85" x2="669.5" y2="705.85" stroke="#e6e6e6" stroke-width="0.5" stroke-dasharray="1.5 1.5" />
<line x1="49.5" y1="678.87" x2="669.5" y2="678.87" stroke="#e6e6e6" stroke-width="0.5" stroke-dasharray="1.5 1.5" />
<line x1="49.5" y1="651.89" x2="669.5" y2="651.89" stroke="#e6e6e6" stroke-width="0.5" stroke-dasharray="1.5 1.5" />
<polyline points="64.77,766.55 65.51,759.81 66.62,753.06 68.09,746.99 70.31,744.3 73.27,744.03 655.4,744.03" fill="none" stroke="#000" stroke-width="0.8" stroke-dasharray="3.6 2.4" stroke-linejoin="round" clip-path="url(#clipd)"/>
<polyline points="64.77,765.21 65.27,755.97 65.76,747.12 66.26,740.02 66.69,736.34 66.74,736.06 66.76,736 67.25,733.67 67.75,731.68 68.25,729.97 68.72,728.57 68.74,728.51 69.24,727.25 69.74,726.15 70.23,725.15 70.7,724.28 70.73,724.22 71.23,723.31 71.72,722.37 72.22,721.37 72.53,720.69 72.67,720.36 72.72,720.26 73.21,719.11 73.71,717.97 74.21,716.83 74.65,715.83 74.7,715.71 75.2,714.62 75.7,713.57 76.19,712.58 76.62,711.76 76.69,711.64 77.19,710.78 77.68,710 78.18,709.32 78.36,709.09 78.6,708.81 78.68,708.72 79.17,708.13 79.67,707.57 80.17,707.02 80.57,706.59 80.66,706.5 81.16,705.99 81.66,705.51 82.15,705.06 82.55,704.72 82.65,704.63 83.15,704.23 83.64,703.87 84.14,703.54 84.52,703.31 84.63,703.25 85.13,702.99 85.63,702.78 86.12,702.61 86.12,702.61 86.5,702.5 86.62,702.46 87.12,702.32 87.61,702.19 88.11,702.06 88.47,701.97 88.61,701.94 89.1,701.82 89.6,701.7 90.1,701.6 90.45,701.52 90.59,701.49 91.09,701.4 91.59,701.3 92.08,701.22 92.42,701.16 92.58,701.14 93.08,701.06 93.57,700.99 94.07,700.92 94.4,700.88 94.57,700.86 95.06,700.81 95.56,700.76 96.06,700.71 96.38,700.68 96.55,700.67 97.05,700.63 97.55,700.6 97.79,700.59 98.04,700.58 98.35,700.56 98.54,700.55 99.04,700.52 99.53,700.5 100.03,700.48 100.33,700.46 100.53,700.45 101.02,700.43 101.52,700.41 102.02,700.38 102.3,700.37 102.51,700.36 103.01,700.34 103.51,700.32 104,700.3 104.28,700.29 104.5,700.28 105,700.26 105.49,700.25 105.99,700.23 106.25,700.22 106.49,700.21 106.98,700.2 107.48,700.18 107.98,700.17 108.23,700.16 108.47,700.15 108.97,700.14 109.47,700.13 109.96,700.12 110.2,700.11 110.46,700.11 110.96,700.1 111.45,700.09 111.95,700.08 112.18,700.08 112.45,700.07 112.94,700.07 113.44,700.06 113.94,700.06 114.15,700.06 114.43,700.05 114.93,700.05 115.43,700.05 115.92,700.05 116.11,700.05 116.13,700.05 116.42,700.05 116.92,700.05 117.41,700.05 117.91,700.05 118.1,700.05 118.41,700.05 118.9,700.05 119.4,700.05 119.9,700.05 120.08,700.05 120.39,700.05 120.89,700.05 121.39,700.05 121.88,700.05 122.05,700.05 122.38,700.05 122.88,700.05 123.37,700.05 123.87,700.05 124.03,700.05 126.01,700.05 127.98,700.05 129.96,700.05 131.93,700.05 133.91,700.05 135.88,700.05 137.86,700.05 139.83,700.05 141.81,700.05 143.78,700.05 145.76,700.05 147.73,700.05 149.71,700.05 151.68,700.05 153.66,700.05 155.64,700.05 157.61,700.05 159.59,700.05 161.56,700.05 163.54,700.05 165.51,700.05 167.49,700.05 169.46,700.05 171.44,700.05 173.41,700.05 175.39,700.05 177.36,700.05 179.34,700.05 181.32,700.05 183.29,700.05 185.27,700.05 187.24,700.05 189.22,700.05 191.19,700.05 193.17,700.05 195.14,700.05 197.12,700.05 199.09,700.05 201.07,700.05 203.04,700.05 205.02,700.05 206.99,700.05 208.97,700.05 210.95,700.05 212.92,700.05 214.9,700.05 216.87,700.05 218.85,700.05 220.82,700.05 222.8,700.05 224.77,700.05 226.75,700.05 228.72,700.05 230.7,700.05 232.67,700.05 234.65,700.05 236.63,700.05 238.6,700.05 240.58,700.05 242.55,700.05 244.53,700.05 246.5,700.05 248.48,700.05 250.45,700.05 252.43,700.05 254.4,700.05 256.38,700.05 258.35,700.05 260.33,700.05 262.3,700.05 264.28,700.05 266.26,700.05 268.23,700.05 270.21,700.05 272.18,700.05 274.16,700.05 276.13,700.05 278.11,700.05 280.08,700.05 282.06,700.05 284.03,700.05 286.01,700.05 287.98,700.05 289.96,700.05 291.94,700.05 293.91,700.05 295.89,700.05 297.86,700.05 299.84,700.05 301.81,700.05 303.79,700.05 305.76,700.05 307.74,700.05 309.71,700.05 311.69,700.05 313.66,700.05 315.64,700.05 317.61,700.05 319.59,700.05 321.57,700.05 323.54,700.05 325.52,700.05 327.49,700.05 329.47,700.05 331.44,700.05 333.42,700.05 335.39,700.05 337.37,700.05 339.34,700.05 341.32,700.05 343.29,700.05 345.27,700.05 347.24,700.05 349.22,700.05 351.2,700.05 353.17,700.05 355.15,700.05 357.12,700.05 359.1,700.05 361.07,700.05 363.05,700.05 365.02,700.05 367,700.05 368.97,700.05 370.95,700.05 372.92,700.05 374.9,700.05 376.88,700.05 378.85,700.05 380.83,700.05 382.8,700.05 384.78,700.05 386.75,700.05 388.73,700.05 390.7,700.05 392.68,700.05 394.65,700.05 396.63,700.05 398.6,700.05 400.58,700.05 402.55,700.05 404.53,700.05 406.51,700.05 408.48,700.05 410.46,700.05 412.43,700.05 414.41,700.05 416.38,700.05 418.36,700.05 420.33,700.05 422.31,700.05 424.28,700.05 426.26,700.05 428.23,700.05 430.21,700.05 432.19,700.05 434.16,700.05 436.14,700.05 438.11,700.05 440.09,700.05 442.06,700.05 444.04,700.05 446.01,700.05 447.99,700.05 449.96,700.05 451.94,700.05 453.91,700.05 455.89,700.05 457.86,700.05 459.84,700.05 461.82,700.05 463.79,700.05 465.77,700.05 467.74,700.05 469.72,700.05 471.69,700.05 473.67,700.05 475.64,700.05 477.62,700.05 479.59,700.05 481.57,700.05 483.54,700.05 485.52,700.05 487.49,700.05 489.47,700.05 491.45,700.05 493.42,700.05 495.4,700.05 497.37,700.05 499.35,700.05 501.32,700.05 503.3,700.05 505.27,700.05 507.25,700.05 509.22,700.05 511.2,700.05 513.17,700.05 515.15,700.05 517.13,700.05 519.1,700.05 521.08,700.05 523.05,700.05 525.03,700.05 527,700.05 528.98,700.05 530.95,700.05 532.93,700.05 534.9,700.05 536.88,700.05 538.85,700.05 540.83,700.05 542.8,700.05 544.78,700.05 546.76,700.05 548.73,700.05 550.71,700.05 552.68,700.05 554.66,700.05 556.63,700.05 558.61,700.05 560.58,700.05 562.56,700.05 564.53,700.05 566.51,700.05 568.48,700.05 570.46,700.05 572.44,700.05 574.41,700.05 576.39,700.05 578.36,700.05 580.34,700.05 582.31,700.05 584.29,700.05 586.26,700.05 588.24,700.05 590.21,700.05 592.19,700.05 594.16,700.05 596.14,700.05 598.11,700.05 600.09,700.05 602.07,700.05 604.04,700.05 606.02,700.05 607.99,700.05 609.97,700.05 611.94,700.05 613.92,700.05 615.89,700.05 617.87,700.05 619.84,700.05 621.82,700.05 623.79,700.05 625.77,700.05 627.75,700.05 629.72,700.05 631.7,700.05 633.67,700.05 635.65,700.05 637.62,700.05 639.6,700.05 641.57,700.05 643.55,700.05 645.52,700.05 647.5,700.05 649.47,700.05 651.45,700.05 653.42,700.05 655.4,700.05" fill="none" stroke="#ff1010" stroke-width="0.7" stroke-dasharray="3.6 2.4" stroke-linejoin="round" clip-path="url(#clipd)"/>
<polyline points="64.77,766.55 70.68,638.4 655.4,638.4" fill="none" stroke="#1010ff" stroke-width="0.75" stroke-dasharray="3.6 2.4" stroke-linejoin="round" clip-path="url(#clipd)"/>
<polyline points="64.4,766.55 64.9,766.55 65.39,766.54 65.89,766.53 66.39,766.52 66.88,766.51 67.37,766.5 67.38,766.5 67.88,766.49 68.37,766.49 68.87,766.48 69.37,766.47 69.86,766.46 70.34,766.45 70.36,766.45 70.86,766.44 71.35,766.43 71.85,766.43 72.35,766.42 72.84,766.41 73.31,766.4 73.34,766.4 73.84,766.39 74.33,766.38 74.83,766.37 75.33,766.36 75.82,766.36 76.28,766.35 76.32,766.35 76.82,766.34 77.31,766.33 77.81,766.32 78.31,766.31 78.8,766.3 79.25,766.29 79.3,766.29 79.8,766.28 80.29,766.28 80.79,766.27 81.29,766.26 81.78,766.25 82.22,766.24 82.28,766.24 82.78,766.23 83.27,766.22 83.77,766.21 84.27,766.21 84.76,766.2 85.19,766.19 85.26,766.19 85.76,766.18 86.25,766.17 86.75,766.16 87.25,766.15 87.74,766.14 88.16,766.14 88.24,766.13 88.74,766.13 89.23,766.12 89.73,766.11 90.23,766.1 90.72,766.09 91.13,766.08 91.22,766.08 91.72,766.07 92.21,766.06 92.71,766.05 93.21,766.04 93.7,766.04 94.1,766.03 94.2,766.03 94.69,766.02 95.19,766.01 95.69,766 96.18,765.99 96.68,765.98 97.07,765.97 97.18,765.97 97.67,765.96 98.17,765.95 98.67,765.95 99.16,765.94 99.66,765.93 100.04,765.92 100.16,765.92 100.65,765.91 101.15,765.9 101.65,765.89 102.14,765.88 102.64,765.87 103.01,765.87 103.14,765.86 103.63,765.85 104.13,765.85 104.63,765.84 105.12,765.83 105.62,765.82 105.98,765.81 106.12,765.81 106.61,765.8 107.11,765.79 107.61,765.78 108.1,765.77 108.6,765.76 108.95,765.76 109.1,765.75 109.59,765.75 110.09,765.74 110.59,765.73 111.08,765.72 111.58,765.71 111.92,765.7 112.08,765.7 112.57,765.69 113.07,765.68 113.57,765.67 114.06,765.66 114.56,765.65 114.89,765.65 115.06,765.64 115.55,765.63 116.05,765.63 116.55,765.62 117.04,765.61 117.54,765.6 117.86,765.59 118.04,765.59 118.53,765.58 119.03,765.57 119.53,765.56 120.02,765.55 120.52,765.54 120.83,765.54 121.02,765.53 121.51,765.52 122.01,765.51 122.51,765.5 123,765.5 123.5,765.49 123.8,765.48 126.77,765.42 129.74,765.37 132.71,765.31 135.68,765.26 138.28,765.21 138.65,765.2 141.62,765.14 144.59,765.09 147.56,765.03 150.53,764.97 153.5,764.92 156.47,764.86 159.44,764.8 162.41,764.74 165.37,764.69 168.34,764.63 171.31,764.57 174.28,764.51 177.25,764.45 180.22,764.4 183.19,764.34 186.16,764.28 189.13,764.22 192.1,764.15 195.07,764.09 198.04,764.03 201.01,763.97 203.98,763.9 206.95,763.84 209.92,763.77 212.15,763.72 212.89,763.71 215.86,763.64 218.83,763.57 221.8,763.5 224.77,763.43 227.74,763.36 230.71,763.29 233.68,763.22 236.65,763.15 239.62,763.08 242.59,763 245.56,762.93 248.53,762.86 251.5,762.78 254.47,762.7 257.44,762.63 260.41,762.55 263.38,762.47 266.35,762.39 269.32,762.31 272.29,762.23 275.26,762.14 278.23,762.06 281.2,761.97 284.17,761.89 286.02,761.83 287.14,761.8 290.11,761.71 293.08,761.62 296.05,761.53 299.02,761.43 301.99,761.33 304.96,761.23 307.93,761.13 310.9,761.03 313.87,760.93 316.84,760.83 319.81,760.72 322.78,760.61 325.75,760.51 328.72,760.4 331.69,760.29 334.66,760.19 337.63,760.08 340.6,759.97 343.57,759.87 345.12,759.81 346.54,759.76 349.51,759.65 352.48,759.55 355.45,759.44 358.42,759.34 361.38,759.23 364.35,759.13 367.32,759.02 370.29,758.92 373.26,758.81 376.23,758.7 379.2,758.6 382.17,758.49 385.14,758.38 388.11,758.28 391.08,758.17 394.05,758.06 397.02,757.94 399.99,757.83 402.96,757.72 405.93,757.6 408.9,757.49 411.87,757.37 414.84,757.25 417.81,757.13 420.78,757 423.75,756.88 426.72,756.75 429.69,756.62 432.66,756.49 433.77,756.44 435.63,756.35 438.6,756.21 441.57,756.07 444.54,755.93 447.51,755.78 450.48,755.63 453.45,755.48 456.42,755.32 459.39,755.16 462.36,755 465.33,754.84 468.3,754.68 471.27,754.51 474.24,754.34 477.21,754.17 480.18,754 483.15,753.83 486.12,753.66 489.09,753.48 492.06,753.31 495.03,753.14 498,752.96 500.97,752.79 503.94,752.61 506.91,752.43 507.65,752.39 509.88,752.26 512.85,752.08 515.82,751.9 518.79,751.72 521.76,751.54 524.73,751.36 527.7,751.17 530.67,750.99 533.64,750.8 536.61,750.61 539.58,750.42 542.55,750.23 545.52,750.04 548.49,749.85 551.46,749.65 554.43,749.46 557.39,749.27 560.36,749.07 563.33,748.88 566.3,748.68 569.27,748.48 572.24,748.29 575.21,748.09 578.18,747.89 581.15,747.69 581.52,747.67 584.12,747.5 587.09,747.3 590.06,747.1 593.03,746.9 596,746.7 598.97,746.5 601.94,746.29 604.91,746.09 607.88,745.89 610.85,745.68 613.82,745.48 616.79,745.27 619.76,745.07 622.73,744.86 625.7,744.65 628.67,744.44 631.64,744.24 634.61,744.03 637.58,743.82 640.55,743.61 643.52,743.39 646.49,743.18 649.46,742.97 652.43,742.76 655.4,742.54" fill="none" stroke="#111" stroke-width="0.8" stroke-linejoin="round" clip-path="url(#clipd)"/>
<polyline points="64.4,766.55 64.9,766.55 65.39,766.54 65.89,766.53 66.39,766.52 66.88,766.51 67.33,766.5 67.38,766.5 67.88,766.49 68.37,766.48 68.87,766.47 69.37,766.46 69.86,766.45 70.25,766.45 70.36,766.44 70.86,766.43 71.35,766.43 71.85,766.42 72.35,766.41 72.84,766.4 73.18,766.39 73.34,766.39 73.84,766.38 74.33,766.37 74.83,766.36 75.33,766.35 75.82,766.34 76.1,766.33 76.32,766.33 76.82,766.32 77.31,766.31 77.81,766.3 78.31,766.29 78.8,766.28 79.03,766.28 79.3,766.27 79.8,766.26 80.29,766.25 80.79,766.24 81.29,766.23 81.78,766.22 81.95,766.22 82.28,766.21 82.78,766.2 83.27,766.19 83.77,766.18 84.27,766.17 84.76,766.16 84.88,766.16 85.26,766.15 85.76,766.14 86.25,766.13 86.75,766.12 87.25,766.11 87.74,766.1 87.8,766.1 88.24,766.09 88.74,766.08 89.23,766.07 89.73,766.06 90.23,766.05 90.72,766.04 90.73,766.04 91.22,766.03 91.72,766.02 92.21,766.01 92.71,765.99 93.21,765.98 93.65,765.97 93.7,765.97 94.2,765.96 94.69,765.95 95.19,765.94 95.69,765.93 96.18,765.92 96.58,765.91 96.68,765.91 97.18,765.9 97.67,765.89 98.17,765.88 98.67,765.87 99.16,765.86 99.5,765.85 99.66,765.85 100.16,765.83 100.65,765.82 101.15,765.81 101.65,765.8 102.14,765.79 102.43,765.78 102.64,765.78 103.14,765.77 103.63,765.76 104.13,765.75 104.63,765.74 105.12,765.72 105.35,765.72 105.62,765.71 106.12,765.7 106.61,765.69 107.11,765.68 107.61,765.67 108.1,765.66 108.28,765.65 108.6,765.65 109.1,765.63 109.59,765.62 110.09,765.61 110.59,765.6 111.08,765.59 111.2,765.59 111.58,765.58 112.08,765.57 112.57,765.55 113.07,765.54 113.57,765.53 114.06,765.52 114.13,765.52 114.56,765.51 115.06,765.5 115.55,765.49 116.05,765.47 116.55,765.46 117.04,765.45 117.06,765.45 117.54,765.44 118.04,765.43 118.53,765.42 119.03,765.4 119.53,765.39 119.98,765.38 120.02,765.38 120.52,765.37 121.02,765.36 121.51,765.35 122.01,765.33 122.51,765.32 122.91,765.31 123,765.31 123.5,765.3 125.83,765.24 128.76,765.17 131.68,765.1 134.61,765.03 137.53,764.95 138.28,764.94 140.46,764.88 143.38,764.81 146.31,764.73 149.23,764.66 152.16,764.58 155.08,764.5 158.01,764.42 160.93,764.34 163.86,764.26 166.79,764.18 169.71,764.1 172.64,764.01 175.56,763.93 178.49,763.84 181.41,763.76 184.34,763.67 187.26,763.58 190.19,763.49 193.11,763.4 196.04,763.31 198.96,763.21 201.89,763.12 204.81,763.02 207.74,762.93 210.67,762.83 212.15,762.78 213.59,762.73 216.52,762.63 219.44,762.53 222.37,762.43 225.29,762.32 228.22,762.22 231.14,762.11 234.07,762 236.99,761.89 239.92,761.78 242.84,761.67 245.77,761.56 248.69,761.44 251.62,761.33 254.54,761.21 257.47,761.09 260.4,760.97 263.32,760.84 266.25,760.72 269.17,760.59 272.1,760.46 275.02,760.33 277.95,760.19 280.87,760.06 283.8,759.92 286.02,759.81 286.72,759.78 289.65,759.63 292.57,759.48 295.5,759.33 298.42,759.17 301.35,759.01 304.27,758.85 307.2,758.68 310.13,758.51 313.05,758.34 315.98,758.16 318.9,757.98 321.83,757.8 324.75,757.62 327.68,757.43 330.6,757.24 333.53,757.05 336.45,756.86 339.38,756.67 342.3,756.48 342.91,756.44 345.23,756.28 348.15,756.09 351.08,755.89 354,755.69 356.93,755.49 359.86,755.29 362.78,755.08 365.71,754.87 368.63,754.66 371.56,754.44 374.48,754.22 377.41,754 380.33,753.77 383.26,753.54 386.18,753.3 389.11,753.06 392.03,752.81 394.96,752.56 396.84,752.39 397.88,752.3 400.81,752.03 403.73,751.75 406.66,751.46 409.59,751.17 412.51,750.86 415.44,750.55 418.36,750.23 421.29,749.91 424.21,749.58 427.14,749.25 430.06,748.91 432.99,748.57 433.77,748.48 435.91,748.23 438.84,747.87 441.76,747.52 444.69,747.15 447.61,746.78 450.54,746.41 453.47,746.02 456.39,745.63 459.32,745.23 462.24,744.83 465.17,744.42 468.09,744 470.71,743.62 471.02,743.58 473.94,743.15 476.87,742.71 479.79,742.27 482.72,741.83 485.64,741.37 488.57,740.91 491.49,740.43 494.42,739.94 497.34,739.44 500.27,738.93 503.2,738.4 506.12,737.85 507.65,737.55 509.05,737.28 511.97,736.71 514.9,736.14 517.82,735.56 520.75,734.96 523.67,734.34 526.6,733.69 529.52,733.01 532.45,732.29 535.37,731.53 538.3,730.72 541.22,729.85 544.15,728.93 544.59,728.78 547.07,727.89 550,726.68 552.93,725.33 555.85,723.85 558.78,722.28 561.7,720.64 564.63,718.96 565.12,718.67 567.55,717.19 570.48,715.26 573.4,713.21 576.33,711.07 579.25,708.89 581.52,707.2 582.18,706.71 585.1,704.55 588.03,702.39 590.95,700.21 593.88,698.01 596.8,695.76 599.73,693.47 602.66,691.12 605.58,688.68 608.51,686.16 611.43,683.54 614.36,680.8 614.4,680.76 617.28,677.92 620.21,674.89 623.13,671.7 626.06,668.34 628.98,664.79 631.91,661.07 633.24,659.31 634.83,657.08 637.76,652.58 640.68,647.79 643.61,642.98 645.65,639.75 646.53,638.4 655.4,638.4" fill="none" stroke="#ff2020" stroke-width="0.8" stroke-linejoin="round" clip-path="url(#clipd)"/>
<polyline points="64.4,766.55 64.9,766.54 65.39,766.53 65.89,766.52 66.25,766.52 66.39,766.51 66.88,766.5 67.38,766.49 67.88,766.48 68.09,766.48 68.37,766.47 68.87,766.46 69.37,766.45 69.86,766.44 69.94,766.44 70.36,766.43 70.86,766.42 71.35,766.41 71.78,766.4 71.85,766.4 72.35,766.39 72.84,766.38 73.34,766.37 73.63,766.36 73.84,766.36 74.33,766.34 74.83,766.33 75.33,766.32 75.47,766.32 75.82,766.31 76.32,766.3 76.82,766.29 77.31,766.28 77.32,766.28 77.81,766.26 78.31,766.25 78.8,766.24 79.16,766.23 79.3,766.23 79.8,766.22 80.29,766.21 80.79,766.19 81.01,766.19 81.29,766.18 81.78,766.17 82.28,766.16 82.78,766.15 82.85,766.15 83.27,766.14 83.77,766.12 84.27,766.11 84.7,766.1 84.76,766.1 85.26,766.09 85.76,766.07 86.25,766.06 86.54,766.05 86.75,766.05 87.25,766.04 87.74,766.02 88.24,766.01 88.39,766.01 88.74,766 89.23,765.99 89.73,765.97 90.23,765.96 90.23,765.96 90.72,765.95 91.22,765.94 91.72,765.92 92.08,765.91 92.21,765.91 92.71,765.9 93.21,765.88 93.7,765.87 93.92,765.86 94.2,765.86 94.69,765.84 95.19,765.83 95.69,765.82 95.77,765.82 96.18,765.8 96.68,765.79 97.18,765.78 97.61,765.77 97.67,765.76 98.17,765.75 98.67,765.74 99.16,765.72 99.46,765.72 99.66,765.71 100.16,765.7 100.65,765.68 101.15,765.67 101.3,765.66 101.65,765.66 102.14,765.64 102.64,765.63 103.14,765.61 103.15,765.61 103.63,765.6 104.13,765.59 104.63,765.57 104.99,765.56 105.12,765.56 105.62,765.54 106.12,765.53 106.61,765.51 106.84,765.51 107.11,765.5 107.61,765.49 108.1,765.47 108.6,765.46 108.68,765.46 109.1,765.44 109.59,765.43 110.09,765.41 110.53,765.4 110.59,765.4 111.08,765.39 111.58,765.37 112.08,765.36 112.37,765.35 112.57,765.34 113.07,765.33 113.57,765.31 114.06,765.3 114.22,765.29 114.56,765.28 115.06,765.27 115.55,765.25 116.05,765.24 116.06,765.24 116.55,765.22 117.04,765.21 117.54,765.19 117.91,765.18 118.04,765.18 118.53,765.16 119.03,765.15 119.53,765.13 119.75,765.12 120.02,765.12 120.52,765.1 121.02,765.09 121.51,765.07 121.6,765.07 122.01,765.05 122.51,765.04 123,765.02 123.44,765.01 123.5,765.01 125.29,764.95 127.13,764.89 128.98,764.83 130.82,764.78 132.67,764.72 134.51,764.66 136.36,764.59 138.2,764.53 138.28,764.53 140.05,764.47 141.89,764.41 143.74,764.35 145.58,764.28 147.43,764.22 149.27,764.16 151.12,764.09 152.96,764.02 154.81,763.96 156.65,763.89 158.5,763.82 160.34,763.75 162.19,763.68 164.03,763.61 165.88,763.54 167.72,763.47 169.57,763.4 171.41,763.32 173.26,763.25 175.1,763.17 176.95,763.09 178.79,763.02 180.64,762.94 182.48,762.86 184.33,762.78 186.17,762.7 188.02,762.61 189.86,762.53 191.71,762.44 193.55,762.36 195.4,762.27 197.24,762.18 199.09,762.09 200.93,762 202.78,761.91 204.62,761.82 206.47,761.73 208.31,761.63 210.16,761.53 212,761.44 212.15,761.43 213.85,761.34 215.69,761.24 217.54,761.13 219.38,761.03 221.23,760.92 223.07,760.81 224.92,760.69 226.76,760.58 228.61,760.46 230.45,760.35 232.3,760.22 234.14,760.1 235.99,759.98 237.83,759.85 239.68,759.72 241.52,759.59 243.37,759.46 245.21,759.33 247.06,759.2 248.9,759.06 250.75,758.92 252.59,758.78 254.44,758.64 256.28,758.5 258.13,758.36 259.97,758.21 261.82,758.06 263.66,757.92 265.51,757.77 267.35,757.62 269.2,757.46 271.04,757.31 272.89,757.16 274.73,757 276.58,756.85 278.42,756.69 280.27,756.53 282.11,756.37 283.96,756.21 285.8,756.05 286.02,756.03 287.65,755.89 289.49,755.73 291.34,755.56 293.18,755.39 295.03,755.22 296.87,755.04 298.72,754.86 300.56,754.68 302.41,754.5 304.25,754.32 306.1,754.13 307.94,753.94 309.79,753.75 311.63,753.56 313.48,753.36 315.32,753.17 317.17,752.97 319.01,752.76 320.86,752.56 322.7,752.35 324.55,752.14 326.39,751.93 328.24,751.72 330.08,751.51 331.93,751.29 333.77,751.07 335.62,750.85 337.46,750.63 339.31,750.41 341.15,750.18 342.91,749.96 343,749.95 344.84,749.72 346.69,749.48 348.53,749.24 350.38,749 352.22,748.75 354.07,748.49 355.91,748.23 357.76,747.97 359.6,747.71 361.45,747.44 363.29,747.17 365.14,746.9 366.98,746.62 368.83,746.34 370.67,746.06 372.52,745.78 374.36,745.49 376.21,745.21 378.05,744.92 379.9,744.63 381.74,744.35 382.06,744.3 383.59,744.06 385.43,743.77 387.28,743.47 389.12,743.18 390.97,742.88 392.81,742.58 394.66,742.28 396.5,741.97 398.35,741.67 400.19,741.36 402.04,741.05 403.88,740.73 405.73,740.42 407.57,740.1 409.42,739.78 411.26,739.46 413.11,739.14 414.95,738.82 416.8,738.49 418.64,738.16 420.49,737.83 422.33,737.5 424.18,737.16 426.02,736.82 427.87,736.48 429.71,736.14 431.56,735.8 431.56,735.8 432.02,735.66 432.06,735.65 432.49,735.52 432.55,735.5 432.95,735.38 433.05,735.35 433.41,735.24 433.55,735.2 433.88,735.1 434.04,735.05 434.34,734.95 434.54,734.89 434.81,734.8 435.04,734.73 435.27,734.65 435.53,734.57 435.74,734.5 436.03,734.41 436.2,734.35 436.53,734.24 436.66,734.2 437.02,734.07 437.13,734.04 437.52,733.9 437.59,733.88 438.02,733.73 438.06,733.72 438.51,733.55 438.52,733.55 438.98,733.38 439.01,733.37 439.45,733.21 439.5,733.19 439.91,733.04 440,733.01 440.38,732.86 440.5,732.82 440.84,732.69 440.99,732.63 441.16,732.56 441.3,732.5 441.49,732.43 441.77,732.32 441.99,732.23 442.23,732.14 442.48,732.04 442.7,731.95 442.98,731.84 443.16,731.77 443.48,731.64 443.62,731.58 443.97,731.43 444.09,731.39 444.47,731.23 444.55,731.2 444.97,731.03 445.02,731.01 445.46,730.82 445.48,730.81 445.94,730.62 445.96,730.61 446.41,730.42 446.46,730.4 446.87,730.23 446.95,730.19 447.34,730.03 447.45,729.98 447.8,729.83 447.95,729.76 448.26,729.63 448.44,729.55 448.73,729.42 448.94,729.33 449.19,729.22 449.44,729.11 449.66,729.01 449.93,728.89 450.12,728.8 450.43,728.66 450.58,728.6 450.93,728.44 451.05,728.38 451.42,728.21 451.51,728.17 451.92,727.98 451.98,727.96 452.42,727.75 452.44,727.74 452.9,727.52 452.91,727.52 453.37,727.3 453.41,727.28 453.83,727.08 453.91,727.04 454.3,726.85 454.4,726.8 454.76,726.63 454.9,726.56 455.22,726.4 455.4,726.32 455.69,726.17 455.89,726.07 456.15,725.94 456.39,725.82 456.62,725.7 456.89,725.57 457.08,725.47 457.38,725.31 457.54,725.23 457.88,725.06 458.01,724.99 458.38,724.8 458.47,724.75 458.87,724.54 458.94,724.5 459.37,724.27 459.4,724.25 459.87,724.01 459.87,724 460.33,723.75 460.36,723.73 460.79,723.5 460.86,723.46 461.26,723.24 461.36,723.19 461.72,722.98 461.85,722.91 462.19,722.72 462.35,722.63 462.65,722.46 462.85,722.35 463.11,722.19 463.34,722.06 463.58,721.92 463.84,721.77 464.04,721.65 464.34,721.48 464.51,721.38 464.83,721.18 464.97,721.1 465.33,720.89 465.43,720.82 465.83,720.58 465.9,720.54 466.32,720.28 466.36,720.26 466.82,719.97 466.83,719.97 467.29,719.68 467.32,719.66 467.75,719.39 467.81,719.35 468.22,719.09 468.31,719.03 468.68,718.79 468.81,718.71 469.15,718.49 469.3,718.39 469.61,718.19 469.8,718.06 470.07,717.88 470.3,717.73 470.54,717.57 470.71,717.45 470.79,717.4 471,717.26 471.29,717.06 471.47,716.94 471.79,716.71 471.93,716.61 472.28,716.36 472.39,716.29 472.78,716.01 472.86,715.95 473.28,715.65 473.32,715.61 473.77,715.28 473.79,715.27 474.25,714.92 474.27,714.91 474.71,714.57 474.77,714.53 475.18,714.21 475.26,714.15 475.64,713.85 475.76,713.76 476.11,713.48 476.26,713.36 476.57,713.11 476.75,712.96 477.03,712.73 477.25,712.55 477.5,712.34 477.75,712.14 477.96,711.95 478.24,711.71 478.43,711.56 478.74,711.29 478.89,711.16 479.24,710.86 479.35,710.75 479.73,710.42 479.82,710.34 480.23,709.97 480.28,709.92 480.73,709.52 480.75,709.5 481.21,709.07 481.22,709.06 481.67,708.64 481.72,708.6 482.14,708.2 482.22,708.13 482.6,707.76 482.71,707.65 483.07,707.31 483.21,707.17 483.53,706.85 483.71,706.68 484,706.39 484.2,706.18 484.46,705.92 484.7,705.68 484.92,705.45 485.2,705.17 485.39,704.97 485.69,704.65 485.85,704.49 486.19,704.13 486.32,703.99 486.69,703.6 486.78,703.5 487.18,703.06 487.24,702.99 487.68,702.52 487.71,702.49 488.17,701.97 488.18,701.97 488.64,701.45 488.67,701.41 489.1,700.92 489.17,700.84 489.56,700.39 489.67,700.27 490.03,699.85 490.16,699.69 490.49,699.31 490.66,699.11 490.96,698.76 491.42,698.2 491.88,697.63 492.35,697.06 492.81,696.49 492.88,696.41 493.28,695.9 493.74,695.29 494.2,694.65 494.67,694 495.13,693.33 495.6,692.64 496.06,691.93 496.52,691.21 496.99,690.47 497.45,689.71 497.92,688.94 498.38,688.15 498.84,687.35 499.31,686.54 499.77,685.72 500.24,684.89 500.7,684.05 501.16,683.19 501.63,682.33 502.09,681.47 502.56,680.59 503.02,679.71 503.48,678.83 503.95,677.94 504.41,677.04 504.88,676.15 505.34,675.25 505.8,674.35 506.27,673.45 506.73,672.55 507.2,671.65 507.65,670.78 507.66,670.75 508.13,669.85 508.59,668.91 509.05,667.96 509.52,666.98 509.98,665.99 510.45,664.98 510.91,663.97 511.37,662.94 511.84,661.91 512.3,660.88 512.77,659.85 513.23,658.82 513.69,657.8 514.16,656.79 514.62,655.79 515.09,654.8 515.55,653.84 516.01,652.89 516.48,651.96 516.51,651.89 516.94,651.06 517.41,650.16 517.87,649.26 518.33,648.38 518.8,647.51 519.26,646.64 519.73,645.78 520.19,644.93 520.65,644.08 521.12,643.25 521.58,642.42 522.05,641.6 522.51,640.79 522.97,639.98 523.44,639.19 523.9,638.4 655.4,638.4" fill="none" stroke="#1a1aff" stroke-width="0.9" stroke-linejoin="round" clip-path="url(#clipd)"/>
<line x1="98" y1="643.6" x2="115.8" y2="643.6" stroke="#111" stroke-width="0.8" />
<line x1="98" y1="655.6" x2="115.8" y2="655.6" stroke="#ff2020" stroke-width="0.8" />
<line x1="98" y1="667.1" x2="115.8" y2="667.1" stroke="#7878ff" stroke-width="1.6" />
<line x1="98" y1="679.1" x2="115.8" y2="679.1" stroke="#222" stroke-width="0.8" stroke-dasharray="2.8 1.8" />
<line x1="98" y1="691.1" x2="115.8" y2="691.1" stroke="#ff2020" stroke-width="0.8" stroke-dasharray="2.8 1.8" />
<line x1="98" y1="702.6" x2="115.8" y2="702.6" stroke="#2020ff" stroke-width="0.8" stroke-dasharray="2.8 1.8" />
<text x="117.5" y="645.8" font-family='"Liberation Serif", "DejaVu Serif", serif' font-size="8.15" text-anchor="start" font-weight="normal" fill="#000" ><tspan font-style="italic">c</tspan><tspan font-size="5.5" dy="1.9">ad</tspan><tspan dy="-1.9"> when </tspan><tspan font-style="italic">T</tspan><tspan font-size="5.5" dy="1.9">supply water</tspan><tspan dy="-1.9">=38.70°C (Process-heat-supplied)</tspan></text>
<text x="117.5" y="657.8" font-family='"Liberation Serif", "DejaVu Serif", serif' font-size="8.15" text-anchor="start" font-weight="normal" fill="#000" ><tspan font-style="italic">c</tspan><tspan font-size="5.5" dy="1.9">ad</tspan><tspan dy="-1.9"> when </tspan><tspan font-style="italic">T</tspan><tspan font-size="5.5" dy="1.9">supply water</tspan><tspan dy="-1.9">=45.17°C (Process-heat-supplied)</tspan></text>
<text x="117.5" y="669.3" font-family='"Liberation Serif", "DejaVu Serif", serif' font-size="8.15" text-anchor="start" font-weight="normal" fill="#000" ><tspan font-style="italic">c</tspan><tspan font-size="5.5" dy="1.9">ad</tspan><tspan dy="-1.9"> when </tspan><tspan font-style="italic">T</tspan><tspan font-size="5.5" dy="1.9">supply water</tspan><tspan dy="-1.9">=50.93°C (Process-heat-supplied)</tspan></text>
<text x="117.5" y="681.3" font-family='"Liberation Serif", "DejaVu Serif", serif' font-size="8.15" text-anchor="start" font-weight="normal" fill="#000" ><tspan font-style="italic">c</tspan><tspan font-size="5.5" dy="1.9">ad</tspan><tspan dy="-1.9"> when </tspan><tspan font-style="italic">T</tspan><tspan font-size="5.5" dy="1.9">a-inlet</tspan><tspan dy="-1.9">=90°C (Traditional air-heating)</tspan></text>
<text x="117.5" y="693.3" font-family='"Liberation Serif", "DejaVu Serif", serif' font-size="8.15" text-anchor="start" font-weight="normal" fill="#000" ><tspan font-style="italic">c</tspan><tspan font-size="5.5" dy="1.9">ad</tspan><tspan dy="-1.9"> when </tspan><tspan font-style="italic">T</tspan><tspan font-size="5.5" dy="1.9">a-inlet</tspan><tspan dy="-1.9">=100°C (Traditional air-heating)</tspan></text>
<text x="117.5" y="704.8" font-family='"Liberation Serif", "DejaVu Serif", serif' font-size="8.15" text-anchor="start" font-weight="normal" fill="#000" ><tspan font-style="italic">c</tspan><tspan font-size="5.5" dy="1.9">ad</tspan><tspan dy="-1.9"> when </tspan><tspan font-style="italic">T</tspan><tspan font-size="5.5" dy="1.9">a-inlet</tspan><tspan dy="-1.9">=110°C (Traditional air-heating)</tspan></text>
<text x="296" y="659" font-family='"Liberation Serif", "DejaVu Serif", serif' font-size="8.1" text-anchor="start" font-weight="bold" fill="#ff8412" >With the same air flow and inlet humidity,</text>
<text x="296" y="669.3" font-family='"Liberation Serif", "DejaVu Serif", serif' font-size="8.1" text-anchor="start" font-weight="bold" fill="#ff8412" >traditional air heating must raise the air</text>
<text x="296" y="680" font-family='"Liberation Serif", "DejaVu Serif", serif' font-size="8.1" text-anchor="start" font-weight="bold" fill="#ff8412" >temperature above 100°C to completely</text>
<text x="296" y="690.3" font-family='"Liberation Serif", "DejaVu Serif", serif' font-size="8.1" text-anchor="start" font-weight="bold" fill="#ff8412" >dry the droplets.</text>
<ellipse cx="390.4" cy="640" rx="5.2" ry="5.4" fill="none" stroke="#ff8412" stroke-width="0.8" stroke-dasharray="2.4 1.6"/>
<ellipse cx="385" cy="701.4" rx="5.2" ry="5.4" fill="none" stroke="#ff8412" stroke-width="0.8" stroke-dasharray="2.4 1.6"/>
<ellipse cx="303.9" cy="744.2" rx="5.2" ry="5.4" fill="none" stroke="#ff8412" stroke-width="0.8" stroke-dasharray="2.4 1.6"/>
<line x1="369" y1="650.2" x2="382.03" y2="644.58" stroke="#ff8412" stroke-width="0.6" />
<polygon points="385.7,643 381.62,646.17 380.59,643.79" fill="#ff8412"/>
<line x1="369" y1="688.3" x2="379.47" y2="694.55" stroke="#ff8412" stroke-width="0.6" />
<polygon points="382.9,696.6 377.94,695.15 379.27,692.92" fill="#ff8412"/>
<line x1="359.3" y1="689.6" x2="312.25" y2="735.89" stroke="#ff8412" stroke-width="0.6" />
<polygon points="309.4,738.7 312.05,734.27 313.88,736.12" fill="#ff8412"/>
<text x="470" y="688.5" font-family='"Liberation Serif", "DejaVu Serif", serif' font-size="8.1" text-anchor="start" font-weight="bold" fill="#000" >Process-heat-supplied mode requires only a heat source</text>
<text x="470" y="698.5" font-family='"Liberation Serif", "DejaVu Serif", serif' font-size="8.1" text-anchor="start" font-weight="bold" fill="#000" >above 45°C for complete droplet drying and separation.</text>
<ellipse cx="569.5" cy="639" rx="10" ry="5" fill="none" stroke="#000" stroke-width="0.6" stroke-dasharray="1.6 1.4"/>
<ellipse cx="650.5" cy="639" rx="9" ry="5" fill="none" stroke="#000" stroke-width="0.6" stroke-dasharray="1.6 1.4"/>
<line x1="578" y1="680" x2="570.43" y2="648.39" stroke="#000" stroke-width="0.6" />
<polygon points="569.5,644.5 571.83,649.08 569.5,649.64" fill="#000"/>
<line x1="582" y1="680" x2="643.52" y2="644.98" stroke="#000" stroke-width="0.6" />
<polygon points="647,643 643.25,646.52 642.06,644.43" fill="#000"/>
<text x="146.2" y="779.9" font-family='"Liberation Serif", "DejaVu Serif", serif' font-size="10.4" text-anchor="start" font-weight="normal" fill="#000" >From Inlet of Tower</text>
<text x="278.5" y="774.2" font-family='"Liberation Serif", "DejaVu Serif", serif' font-size="10.4" text-anchor="start" font-weight="normal" fill="#000" >Flowing Direction of The Mixed Flow</text>
<text x="501" y="779.9" font-family='"Liberation Serif", "DejaVu Serif", serif' font-size="10.4" text-anchor="start" font-weight="normal" fill="#000" >To Outlet of Tower</text>
<line x1="255" y1="777.8" x2="468" y2="777.8" stroke="#000" stroke-width="2.0" />
<polygon points="477,777.8 464.7,774.3 464.7,781.3" fill="#000"/>
<line x1="64.4" y1="787" x2="64.4" y2="782.5" stroke="#222" stroke-width="0.9" />
<line x1="64.4" y1="625" x2="64.4" y2="629.5" stroke="#222" stroke-width="0.9" />
<line x1="138.28" y1="787" x2="138.28" y2="782.5" stroke="#222" stroke-width="0.9" />
<line x1="138.28" y1="625" x2="138.28" y2="629.5" stroke="#222" stroke-width="0.9" />
<line x1="212.15" y1="787" x2="212.15" y2="782.5" stroke="#222" stroke-width="0.9" />
<line x1="212.15" y1="625" x2="212.15" y2="629.5" stroke="#222" stroke-width="0.9" />
<line x1="286.03" y1="787" x2="286.03" y2="782.5" stroke="#222" stroke-width="0.9" />
<line x1="286.03" y1="625" x2="286.03" y2="629.5" stroke="#222" stroke-width="0.9" />
<line x1="359.9" y1="787" x2="359.9" y2="782.5" stroke="#222" stroke-width="0.9" />
<line x1="359.9" y1="625" x2="359.9" y2="629.5" stroke="#222" stroke-width="0.9" />
<line x1="433.77" y1="787" x2="433.77" y2="782.5" stroke="#222" stroke-width="0.9" />
<line x1="433.77" y1="625" x2="433.77" y2="629.5" stroke="#222" stroke-width="0.9" />
<line x1="507.65" y1="787" x2="507.65" y2="782.5" stroke="#222" stroke-width="0.9" />
<line x1="507.65" y1="625" x2="507.65" y2="629.5" stroke="#222" stroke-width="0.9" />
<line x1="581.52" y1="787" x2="581.52" y2="782.5" stroke="#222" stroke-width="0.9" />
<line x1="581.52" y1="625" x2="581.52" y2="629.5" stroke="#222" stroke-width="0.9" />
<line x1="655.4" y1="787" x2="655.4" y2="782.5" stroke="#222" stroke-width="0.9" />
<line x1="655.4" y1="625" x2="655.4" y2="629.5" stroke="#222" stroke-width="0.9" />
<line x1="101.34" y1="787" x2="101.34" y2="784.5" stroke="#222" stroke-width="0.8" />
<line x1="101.34" y1="625" x2="101.34" y2="627.5" stroke="#222" stroke-width="0.8" />
<line x1="175.21" y1="787" x2="175.21" y2="784.5" stroke="#222" stroke-width="0.8" />
<line x1="175.21" y1="625" x2="175.21" y2="627.5" stroke="#222" stroke-width="0.8" />
<line x1="249.09" y1="787" x2="249.09" y2="784.5" stroke="#222" stroke-width="0.8" />
<line x1="249.09" y1="625" x2="249.09" y2="627.5" stroke="#222" stroke-width="0.8" />
<line x1="322.96" y1="787" x2="322.96" y2="784.5" stroke="#222" stroke-width="0.8" />
<line x1="322.96" y1="625" x2="322.96" y2="627.5" stroke="#222" stroke-width="0.8" />
<line x1="396.84" y1="787" x2="396.84" y2="784.5" stroke="#222" stroke-width="0.8" />
<line x1="396.84" y1="625" x2="396.84" y2="627.5" stroke="#222" stroke-width="0.8" />
<line x1="470.71" y1="787" x2="470.71" y2="784.5" stroke="#222" stroke-width="0.8" />
<line x1="470.71" y1="625" x2="470.71" y2="627.5" stroke="#222" stroke-width="0.8" />
<line x1="544.59" y1="787" x2="544.59" y2="784.5" stroke="#222" stroke-width="0.8" />
<line x1="544.59" y1="625" x2="544.59" y2="627.5" stroke="#222" stroke-width="0.8" />
<line x1="618.46" y1="787" x2="618.46" y2="784.5" stroke="#222" stroke-width="0.8" />
<line x1="618.46" y1="625" x2="618.46" y2="627.5" stroke="#222" stroke-width="0.8" />
<line x1="49.5" y1="773.3" x2="54" y2="773.3" stroke="#222" stroke-width="0.9" />
<line x1="669.5" y1="773.3" x2="665" y2="773.3" stroke="#222" stroke-width="0.9" />
<line x1="49.5" y1="746.32" x2="54" y2="746.32" stroke="#222" stroke-width="0.9" />
<line x1="669.5" y1="746.32" x2="665" y2="746.32" stroke="#222" stroke-width="0.9" />
<line x1="49.5" y1="719.34" x2="54" y2="719.34" stroke="#222" stroke-width="0.9" />
<line x1="669.5" y1="719.34" x2="665" y2="719.34" stroke="#222" stroke-width="0.9" />
<line x1="49.5" y1="692.36" x2="54" y2="692.36" stroke="#222" stroke-width="0.9" />
<line x1="669.5" y1="692.36" x2="665" y2="692.36" stroke="#222" stroke-width="0.9" />
<line x1="49.5" y1="665.38" x2="54" y2="665.38" stroke="#222" stroke-width="0.9" />
<line x1="669.5" y1="665.38" x2="665" y2="665.38" stroke="#222" stroke-width="0.9" />
<line x1="49.5" y1="638.4" x2="54" y2="638.4" stroke="#222" stroke-width="0.9" />
<line x1="669.5" y1="638.4" x2="665" y2="638.4" stroke="#222" stroke-width="0.9" />
<line x1="49.5" y1="759.81" x2="52" y2="759.81" stroke="#222" stroke-width="0.8" />
<line x1="669.5" y1="759.81" x2="667" y2="759.81" stroke="#222" stroke-width="0.8" />
<line x1="49.5" y1="732.83" x2="52" y2="732.83" stroke="#222" stroke-width="0.8" />
<line x1="669.5" y1="732.83" x2="667" y2="732.83" stroke="#222" stroke-width="0.8" />
<line x1="49.5" y1="705.85" x2="52" y2="705.85" stroke="#222" stroke-width="0.8" />
<line x1="669.5" y1="705.85" x2="667" y2="705.85" stroke="#222" stroke-width="0.8" />
<line x1="49.5" y1="678.87" x2="52" y2="678.87" stroke="#222" stroke-width="0.8" />
<line x1="669.5" y1="678.87" x2="667" y2="678.87" stroke="#222" stroke-width="0.8" />
<line x1="49.5" y1="651.89" x2="52" y2="651.89" stroke="#222" stroke-width="0.8" />
<line x1="669.5" y1="651.89" x2="667" y2="651.89" stroke="#222" stroke-width="0.8" />
<line x1="49.5" y1="624.91" x2="52" y2="624.91" stroke="#222" stroke-width="0.8" />
<line x1="669.5" y1="624.91" x2="667" y2="624.91" stroke="#222" stroke-width="0.8" />
<line x1="49.5" y1="786.79" x2="52" y2="786.79" stroke="#222" stroke-width="0.8" />
<line x1="669.5" y1="786.79" x2="667" y2="786.79" stroke="#222" stroke-width="0.8" />
<rect x="49.5" y="625.0" width="620" height="162" fill="none" stroke="#1a1a1a" stroke-width="1.3"/>
<text x="64.4" y="800.3" font-family='"Liberation Serif", "DejaVu Serif", serif' font-size="10" text-anchor="middle" font-weight="normal" fill="#000" >0.0</text>
<text x="138.28" y="800.3" font-family='"Liberation Serif", "DejaVu Serif", serif' font-size="10" text-anchor="middle" font-weight="normal" fill="#000" >0.1</text>
<text x="212.15" y="800.3" font-family='"Liberation Serif", "DejaVu Serif", serif' font-size="10" text-anchor="middle" font-weight="normal" fill="#000" >0.2</text>
<text x="286.03" y="800.3" font-family='"Liberation Serif", "DejaVu Serif", serif' font-size="10" text-anchor="middle" font-weight="normal" fill="#000" >0.3</text>
<text x="359.9" y="800.3" font-family='"Liberation Serif", "DejaVu Serif", serif' font-size="10" text-anchor="middle" font-weight="normal" fill="#000" >0.4</text>
<text x="433.77" y="800.3" font-family='"Liberation Serif", "DejaVu Serif", serif' font-size="10" text-anchor="middle" font-weight="normal" fill="#000" >0.5</text>
<text x="507.65" y="800.3" font-family='"Liberation Serif", "DejaVu Serif", serif' font-size="10" text-anchor="middle" font-weight="normal" fill="#000" >0.6</text>
<text x="581.52" y="800.3" font-family='"Liberation Serif", "DejaVu Serif", serif' font-size="10" text-anchor="middle" font-weight="normal" fill="#000" >0.7</text>
<text x="655.4" y="800.3" font-family='"Liberation Serif", "DejaVu Serif", serif' font-size="10" text-anchor="middle" font-weight="normal" fill="#000" >0.8</text>
<text x="44.3" y="776.7" font-family='"Liberation Serif", "DejaVu Serif", serif' font-size="10" text-anchor="end" font-weight="normal" fill="#000" >0</text>
<text x="44.3" y="749.72" font-family='"Liberation Serif", "DejaVu Serif", serif' font-size="10" text-anchor="end" font-weight="normal" fill="#000" >20</text>
<text x="44.3" y="722.74" font-family='"Liberation Serif", "DejaVu Serif", serif' font-size="10" text-anchor="end" font-weight="normal" fill="#000" >40</text>
<text x="44.3" y="695.76" font-family='"Liberation Serif", "DejaVu Serif", serif' font-size="10" text-anchor="end" font-weight="normal" fill="#000" >60</text>
<text x="44.3" y="668.78" font-family='"Liberation Serif", "DejaVu Serif", serif' font-size="10" text-anchor="end" font-weight="normal" fill="#000" >80</text>
<text x="44.3" y="641.8" font-family='"Liberation Serif", "DejaVu Serif", serif' font-size="10" text-anchor="end" font-weight="normal" fill="#000" >100</text>
<text x="151.9" y="819.7" font-family='"Liberation Serif", "DejaVu Serif", serif' font-size="12.67" text-anchor="start" font-weight="normal" fill="#000" >Position of the tower height for the mixed flow of air and wastewater droplets (m)</text>
<g transform="translate(12.4,706.1) rotate(-90)">
<text x="0" y="0" font-family='"Liberation Serif", "DejaVu Serif", serif' font-size="12.75" text-anchor="middle" font-weight="normal" fill="#000" >Droplet concentration <tspan font-style="italic">c</tspan><tspan font-size="8.29" dy="2.6">ad</tspan><tspan dy="-2.6"> (%)</tspan></text>
</g>
<text x="0.6" y="621" font-family='"Liberation Sans", "DejaVu Sans", sans-serif' font-size="14.3" text-anchor="start" font-weight="bold" fill="#000" >(d)</text>
<rect x="49.5" y="829.4" width="620" height="161.9" fill="#fff" stroke="none"/>
<line x1="64.4" y1="829.4" x2="64.4" y2="991.3" stroke="#d9d9d9" stroke-width="0.5" />
<line x1="138.28" y1="829.4" x2="138.28" y2="991.3" stroke="#d9d9d9" stroke-width="0.5" />
<line x1="212.15" y1="829.4" x2="212.15" y2="991.3" stroke="#d9d9d9" stroke-width="0.5" />
<line x1="286.03" y1="829.4" x2="286.03" y2="991.3" stroke="#d9d9d9" stroke-width="0.5" />
<line x1="359.9" y1="829.4" x2="359.9" y2="991.3" stroke="#d9d9d9" stroke-width="0.5" />
<line x1="433.77" y1="829.4" x2="433.77" y2="991.3" stroke="#d9d9d9" stroke-width="0.5" />
<line x1="507.65" y1="829.4" x2="507.65" y2="991.3" stroke="#d9d9d9" stroke-width="0.5" />
<line x1="581.52" y1="829.4" x2="581.52" y2="991.3" stroke="#d9d9d9" stroke-width="0.5" />
<line x1="655.4" y1="829.4" x2="655.4" y2="991.3" stroke="#d9d9d9" stroke-width="0.5" />
<line x1="101.34" y1="829.4" x2="101.34" y2="991.3" stroke="#e6e6e6" stroke-width="0.5" stroke-dasharray="1.5 1.5" />
<line x1="175.21" y1="829.4" x2="175.21" y2="991.3" stroke="#e6e6e6" stroke-width="0.5" stroke-dasharray="1.5 1.5" />
<line x1="249.09" y1="829.4" x2="249.09" y2="991.3" stroke="#e6e6e6" stroke-width="0.5" stroke-dasharray="1.5 1.5" />
<line x1="322.96" y1="829.4" x2="322.96" y2="991.3" stroke="#e6e6e6" stroke-width="0.5" stroke-dasharray="1.5 1.5" />
<line x1="396.84" y1="829.4" x2="396.84" y2="991.3" stroke="#e6e6e6" stroke-width="0.5" stroke-dasharray="1.5 1.5" />
<line x1="470.71" y1="829.4" x2="470.71" y2="991.3" stroke="#e6e6e6" stroke-width="0.5" stroke-dasharray="1.5 1.5" />
<line x1="544.59" y1="829.4" x2="544.59" y2="991.3" stroke="#e6e6e6" stroke-width="0.5" stroke-dasharray="1.5 1.5" />
<line x1="618.46" y1="829.4" x2="618.46" y2="991.3" stroke="#e6e6e6" stroke-width="0.5" stroke-dasharray="1.5 1.5" />
<line x1="49.5" y1="983.7" x2="669.5" y2="983.7" stroke="#d4d4d4" stroke-width="0.5" />
<line x1="49.5" y1="952.84" x2="669.5" y2="952.84" stroke="#d4d4d4" stroke-width="0.5" />
<line x1="49.5" y1="921.98" x2="669.5" y2="921.98" stroke="#d4d4d4" stroke-width="0.5" />
<line x1="49.5" y1="891.12" x2="669.5" y2="891.12" stroke="#d4d4d4" stroke-width="0.5" />
<line x1="49.5" y1="860.26" x2="669.5" y2="860.26" stroke="#d4d4d4" stroke-width="0.5" />
<line x1="49.5" y1="968.27" x2="669.5" y2="968.27" stroke="#e6e6e6" stroke-width="0.5" stroke-dasharray="1.5 1.5" />
<line x1="49.5" y1="937.41" x2="669.5" y2="937.41" stroke="#e6e6e6" stroke-width="0.5" stroke-dasharray="1.5 1.5" />
<line x1="49.5" y1="906.55" x2="669.5" y2="906.55" stroke="#e6e6e6" stroke-width="0.5" stroke-dasharray="1.5 1.5" />
<line x1="49.5" y1="875.69" x2="669.5" y2="875.69" stroke="#e6e6e6" stroke-width="0.5" stroke-dasharray="1.5 1.5" />
<line x1="49.5" y1="844.83" x2="669.5" y2="844.83" stroke="#e6e6e6" stroke-width="0.5" stroke-dasharray="1.5 1.5" />
<polyline points="66.25,829.4 66.47,911.95 67.43,937.41 68.39,960.86 68.98,965.8 69.42,966.88 69.92,965.62 70.16,964.88 70.42,963.94 70.91,961.72 71.41,959.61 71.49,959.32 71.91,957.97 72.37,956.54 72.4,956.43 72.9,954.97 73.4,953.59 73.89,952.29 74.39,951.06 74.89,949.91 75.31,948.96 75.38,948.81 75.88,947.79 76.29,946.98 76.38,946.82 76.87,945.89 77.37,944.99 77.87,944.12 78.26,943.45 78.36,943.27 78.86,942.45 79.36,941.66 79.85,940.89 80.35,940.15 80.85,939.43 81.2,938.93 81.34,938.73 81.84,938.06 82.34,937.42 82.83,936.79 83.33,936.19 83.83,935.61 84.15,935.25 84.32,935.06 84.82,934.52 85.01,934.32 85.32,934.01 85.81,933.51 86.31,933.02 86.81,932.54 87.09,932.28 87.3,932.08 87.8,931.63 88.3,931.19 88.79,930.77 89.29,930.36 89.79,929.96 90.04,929.76 90.28,929.57 90.78,929.2 91.28,928.84 91.77,928.5 92.27,928.17 92.77,927.85 92.98,927.71 93.26,927.54 93.76,927.25 93.8,927.23 94.26,926.97 94.75,926.7 95.25,926.44 95.75,926.18 95.92,926.09 96.24,925.94 96.74,925.7 97.24,925.47 97.73,925.24 98.23,925.02 98.73,924.81 98.87,924.75 99.22,924.61 99.72,924.41 100.22,924.21 100.71,924.02 101.21,923.84 101.71,923.66 101.81,923.62 102.2,923.48 102.52,923.37 102.7,923.31 103.19,923.14 103.69,922.97 104.19,922.81 104.68,922.66 104.76,922.63 105.18,922.5 105.68,922.35 106.17,922.21 106.67,922.07 107.17,921.93 107.66,921.79 107.7,921.78 108.16,921.66 108.66,921.54 109.15,921.41 109.65,921.29 109.98,921.21 110.15,921.17 110.64,921.05 110.65,921.05 111.14,920.94 111.64,920.83 112.13,920.73 112.63,920.63 113.13,920.53 113.59,920.44 113.62,920.43 114.12,920.34 114.41,920.28 114.62,920.25 115.11,920.15 115.61,920.06 116.11,919.97 116.54,919.89 116.6,919.88 117.1,919.79 117.6,919.7 118.09,919.61 118.59,919.52 119.09,919.43 119.48,919.36 119.58,919.34 120.08,919.25 120.58,919.17 121.07,919.09 121.57,919.01 122.07,918.93 122.43,918.87 122.56,918.85 123.06,918.78 123.56,918.7 124.05,918.64 124.55,918.57 125.05,918.51 125.37,918.47 125.54,918.45 126.04,918.39 126.54,918.34 127.03,918.29 127.19,918.28 127.53,918.25 128.03,918.2 128.32,918.18 128.52,918.16 131.26,917.95 134.2,917.76 137.15,917.61 139.31,917.51 140.09,917.47 143.04,917.33 145.98,917.21 148.93,917.1 151.87,917.05 153.05,917.04 154.82,917.05 157.76,917.08 160.71,917.15 163.65,917.23 166.6,917.33 169.54,917.44 172.48,917.56 175.21,917.66 175.43,917.67 178.37,917.79 181.32,917.93 184.26,918.09 187.21,918.26 190.15,918.45 193.1,918.64 196.04,918.84 198.99,919.05 201.93,919.26 204.88,919.47 207.82,919.68 210.76,919.88 212.15,919.97 213.71,920.08 216.65,920.28 219.6,920.47 222.54,920.67 225.49,920.87 228.43,921.07 231.38,921.27 234.32,921.48 237.27,921.68 240.21,921.89 243.16,922.09 246.1,922.3 249.04,922.51 251.99,922.72 254.93,922.94 257.88,923.16 260.82,923.38 263.77,923.6 266.71,923.82 269.66,924.05 272.6,924.28 275.55,924.52 278.49,924.75 281.44,924.99 284.38,925.24 286.02,925.37 287.32,925.48 290.27,925.74 293.21,926 296.16,926.27 299.1,926.55 302.05,926.83 304.99,927.11 307.94,927.4 310.88,927.69 313.83,927.99 316.77,928.29 319.71,928.59 322.66,928.89 325.6,929.19 328.55,929.49 331.49,929.79 334.44,930.09 337.38,930.38 340.33,930.67 342.91,930.93 343.27,930.96 346.22,931.25 349.16,931.54 352.11,931.83 355.05,932.12 357.99,932.41 360.94,932.7 363.88,932.98 366.83,933.27 369.77,933.56 372.72,933.85 375.66,934.14 378.61,934.43 381.55,934.72 384.5,935.01 387.44,935.29 390.39,935.58 393.33,935.87 396.27,936.16 399.22,936.45 402.16,936.74 405.11,937.03 408.05,937.32 411,937.62 413.94,937.91 416.89,938.2 419.83,938.49 422.78,938.78 425.72,939.08 428.67,939.37 431.61,939.66 433.77,939.88 434.55,939.96 437.5,940.25 440.44,940.55 443.39,940.84 446.33,941.14 449.28,941.43 452.22,941.73 455.17,942.03 458.11,942.32 461.06,942.62 464,942.92 466.95,943.22 469.89,943.51 472.83,943.81 475.78,944.11 478.72,944.41 481.67,944.71 484.61,945.01 487.56,945.31 490.5,945.61 493.45,945.91 496.39,946.21 499.34,946.51 502.28,946.81 505.23,947.11 508.17,947.41 511.11,947.71 514.06,948.01 517,948.31 519.95,948.61 522.89,948.91 525.84,949.21 528.78,949.51 531.73,949.81 534.67,950.11 537.62,950.42 537.94,950.45 540.56,950.72 543.5,951.02 546.45,951.32 549.39,951.62 552.34,951.92 555.28,952.22 558.23,952.53 561.17,952.83 564.12,953.13 567.06,953.43 570.01,953.74 572.95,954.04 575.9,954.34 578.84,954.64 581.78,954.95 584.73,955.25 587.67,955.55 590.62,955.86 593.56,956.16 596.51,956.46 599.45,956.77 602.4,957.07 605.34,957.37 608.29,957.68 611.23,957.98 614.18,958.29 617.12,958.59 620.06,958.9 623.01,959.2 625.95,959.51 628.9,959.81 631.84,960.12 634.79,960.42 637.73,960.73 640.68,961.03 643.62,961.34 646.57,961.64 649.51,961.95 652.46,962.25 655.4,962.56" fill="none" stroke="#111" stroke-width="0.8" stroke-linejoin="round" clip-path="url(#clipe)"/>
<polyline points="523.9,983.7 655.4,983.7" fill="none" stroke="#1a1aff" stroke-width="0.9" stroke-linejoin="round" clip-path="url(#clipe)"/>
<polyline points="66.32,829.4 66.54,884.95 67.5,952.84 68.02,971.42 68.52,968.5 68.68,967.5 69.01,965.5 69.51,962.43 69.94,959.78 70.01,959.38 70.22,958.07 70.5,956.23 71,953 71.5,949.87 71.99,947.02 72.38,945.12 72.41,944.98 72.49,944.63 72.99,942.49 73.48,940.48 73.98,938.61 74.48,936.86 74.61,936.42 74.97,935.24 75.47,933.74 75.97,932.38 76.29,931.55 76.46,931.14 76.8,930.34 76.96,929.97 77.46,928.87 77.95,927.83 78.45,926.84 78.95,925.9 79,925.81 79.44,925.01 79.94,924.16 80.44,923.35 80.93,922.57 81.19,922.18 81.43,921.83 81.93,921.11 82.13,920.82 82.42,920.42 82.92,919.74 83.39,919.11 83.42,919.07 83.91,918.43 84.41,917.79 84.91,917.18 85.4,916.58 85.58,916.36 85.9,915.99 86.4,915.43 86.89,914.88 87.39,914.35 87.78,913.95 87.89,913.84 88.38,913.35 88.88,912.88 89.38,912.44 89.87,912.01 89.97,911.92 90.37,911.6 90.87,911.22 90.92,911.18 91.36,910.86 91.86,910.5 92.17,910.28 92.36,910.16 92.85,909.82 93.35,909.5 93.85,909.19 94.34,908.88 94.37,908.87 94.84,908.59 95.34,908.3 95.83,908.02 96.33,907.76 96.56,907.63 96.82,907.5 97.32,907.24 97.82,907 98.31,906.77 98.76,906.56 98.81,906.54 99.31,906.32 99.8,906.1 100.3,905.9 100.6,905.78 100.8,905.7 100.95,905.64 101.29,905.51 101.79,905.32 102.29,905.13 102.78,904.95 103.15,904.82 103.28,904.78 103.78,904.61 104.27,904.44 104.77,904.28 105.27,904.12 105.34,904.1 105.76,903.97 106.26,903.82 106.76,903.68 107.25,903.54 107.54,903.46 107.75,903.41 108.25,903.27 108.74,903.15 109.24,903.02 109.73,902.91 109.74,902.9 109.98,902.85 110.23,902.79 110.73,902.68 111.23,902.57 111.72,902.47 111.93,902.42 112.22,902.37 112.72,902.27 113.21,902.18 113.71,902.08 114.12,902.01 114.21,902 114.7,901.91 115.2,901.82 115.7,901.73 116.19,901.65 116.32,901.63 116.69,901.56 117.19,901.48 117.29,901.46 117.68,901.39 118.18,901.3 118.52,901.24 118.68,901.21 119.17,901.12 119.67,901.03 120.17,900.94 120.66,900.84 120.71,900.83 121.16,900.75 121.66,900.66 122.15,900.57 122.65,900.47 122.91,900.43 123.15,900.38 123.64,900.29 124.14,900.21 124.64,900.12 125.1,900.04 125.13,900.04 125.63,899.96 126.13,899.88 126.62,899.8 127.12,899.73 127.3,899.7 129.49,899.43 130.89,899.3 131.69,899.23 133.88,899.06 136.08,898.91 138.27,898.77 140.47,898.65 142.67,898.57 144.86,898.53 145.66,898.53 147.06,898.53 149.25,898.54 151.45,898.55 153.64,898.58 155.84,898.6 158.03,898.64 160.23,898.67 162.42,898.71 164.62,898.76 166.82,898.8 169.01,898.85 171.21,898.9 173.4,898.95 175.21,898.99 175.6,899 177.79,899.05 179.99,899.1 182.18,899.16 184.38,899.23 186.57,899.29 188.77,899.36 190.97,899.44 193.16,899.52 195.36,899.6 197.55,899.69 199.75,899.78 201.94,899.88 204.14,899.98 206.33,900.08 208.53,900.19 210.72,900.3 212.15,900.38 212.92,900.42 215.12,900.55 217.31,900.69 219.51,900.85 221.7,901.02 223.9,901.2 226.09,901.39 228.29,901.59 230.48,901.8 232.68,902.02 234.87,902.24 237.07,902.47 239.27,902.7 241.46,902.94 243.66,903.17 245.85,903.42 248.05,903.66 249.09,903.77 250.24,903.9 252.44,904.15 254.63,904.42 256.83,904.69 259.02,904.97 261.22,905.25 263.42,905.55 265.61,905.85 267.81,906.15 270,906.47 272.2,906.78 274.39,907.11 276.59,907.43 278.78,907.76 280.98,908.09 283.18,908.43 285.37,908.76 286.02,908.86 287.57,909.1 289.76,909.46 291.96,909.82 294.15,910.19 296.35,910.57 298.54,910.95 300.74,911.34 302.93,911.73 305.13,912.12 307.33,912.51 309.52,912.9 311.72,913.28 313.91,913.65 314.84,913.8 316.11,914.01 318.3,914.38 320.5,914.74 322.69,915.1 324.89,915.46 327.08,915.81 329.28,916.17 331.48,916.52 333.67,916.87 335.87,917.22 338.06,917.57 340.26,917.91 342.45,918.25 342.91,918.32 344.65,918.59 346.84,918.93 349.04,919.26 351.23,919.59 353.43,919.91 355.63,920.24 357.82,920.56 360.02,920.88 362.21,921.2 364.41,921.52 366.6,921.84 368.8,922.15 370.99,922.47 373.19,922.79 375.38,923.1 377.58,923.42 379.78,923.74 381.97,924.06 384.17,924.39 386.36,924.71 388.56,925.04 390.75,925.37 392.95,925.7 395.14,926.04 396.84,926.3 397.34,926.38 399.53,926.72 401.73,927.05 403.93,927.39 406.12,927.73 408.32,928.06 410.51,928.4 412.71,928.74 414.9,929.08 417.1,929.43 419.29,929.78 421.49,930.14 423.68,930.51 425.88,930.89 428.08,931.27 430.27,931.67 432.47,932.07 433.77,932.32 434.66,932.49 436.86,932.92 439.05,933.35 441.25,933.8 443.44,934.26 445.64,934.72 447.83,935.2 450.03,935.69 452.23,936.18 454.42,936.69 456.62,937.21 458.81,937.74 461.01,938.28 463.2,938.83 465.4,939.4 467.59,939.97 469.79,940.56 470.71,940.8 471.98,941.15 474.18,941.76 476.38,942.39 478.57,943.04 480.77,943.72 482.96,944.41 485.16,945.13 487.35,945.88 489.55,946.66 491.74,947.47 492.88,947.9 493.94,948.32 496.13,949.24 498.33,950.23 500.53,951.27 502.72,952.35 504.92,953.46 506.02,968.27 506.91,979.07 507.41,968.83 507.9,960.98 508.02,959.78 508.4,956.54 508.68,954.51 508.9,953.07 509.39,950.33 509.89,948.18 510.24,946.98 510.39,946.5 510.45,946.32 510.88,945.03 511.38,943.72 511.88,942.59 512.21,941.94 512.37,941.67 512.87,940.97 513.19,940.65 513.37,940.51 513.86,940.13 513.98,940.05 514.36,939.8 514.86,939.5 515.35,939.25 515.75,939.08 515.85,939.04 516.35,938.87 516.84,938.73 517.25,938.64 517.34,938.63 517.52,938.6 517.84,938.54 518.33,938.47 518.83,938.4 519.28,938.36 519.33,938.36 519.82,938.34 519.99,938.34 520.32,938.34 520.82,938.34 521.05,938.35 521.31,938.36 521.81,938.37 522.31,938.39 522.8,938.42 522.82,938.42 523.3,938.45 523.8,938.48 524.29,938.51 524.59,938.54 524.79,938.55 525.29,938.59 525.78,938.63 526.28,938.67 526.35,938.68 526.78,938.71 527.27,938.75 527.77,938.8 528.12,938.82 528.27,938.84 528.76,938.88 529.26,938.91 529.76,938.95 529.81,938.95 529.89,938.96 530.25,938.98 530.75,939.02 531.25,939.05 531.65,939.08 531.74,939.09 532.24,939.12 532.74,939.16 533.23,939.19 533.42,939.21 533.73,939.23 534.23,939.26 534.72,939.3 535.19,939.33 535.22,939.34 535.72,939.37 536.21,939.41 536.71,939.44 536.96,939.46 537.21,939.48 537.7,939.52 538.2,939.55 538.7,939.59 538.72,939.59 539.19,939.63 539.69,939.67 540.19,939.7 540.49,939.73 540.68,939.74 541.18,939.78 541.68,939.82 542.17,939.86 542.26,939.86 542.67,939.89 543.17,939.93 543.66,939.97 544.03,940 544.16,940.01 544.66,940.05 545.15,940.09 545.65,940.13 545.79,940.14 546.15,940.17 546.64,940.21 547.14,940.25 547.56,940.28 547.64,940.29 548.13,940.33 548.63,940.37 549.13,940.41 549.33,940.42 549.62,940.45 550.12,940.49 550.62,940.53 551.1,940.57 551.11,940.57 551.61,940.61 552.11,940.65 552.6,940.69 552.86,940.72 553.1,940.74 553.6,940.78 554.09,940.82 554.59,940.86 554.63,940.86 555.09,940.9 555.58,940.95 556.08,940.99 556.4,941.02 556.58,941.03 557.07,941.07 557.57,941.12 558.07,941.16 558.17,941.17 558.56,941.2 559.06,941.25 559.55,941.29 559.93,941.32 560.05,941.33 560.55,941.38 561.04,941.42 561.54,941.47 561.7,941.48 562.04,941.51 562.53,941.56 563.03,941.6 563.47,941.64 563.53,941.64 564.02,941.69 564.52,941.74 564.98,941.78 565.02,941.78 565.24,941.8 565.51,941.83 566.01,941.87 567,941.96 568.77,942.13 570.54,942.3 572.3,942.47 574.07,942.65 575.84,942.83 577.61,943.01 579.37,943.19 581.14,943.38 582.91,943.57 584.68,943.76 586.44,943.95 588.21,944.14 589.98,944.34 591.75,944.54 593.51,944.74 595.28,944.93 597.05,945.14 598.82,945.34 600.58,945.54 602.35,945.74 603.69,945.9 604.12,945.95 605.89,946.15 607.65,946.36 609.42,946.57 611.19,946.78 612.95,946.99 614.72,947.2 616.49,947.41 618.26,947.63 620.02,947.85 621.79,948.07 623.56,948.29 625.33,948.51 627.09,948.73 628.86,948.96 630.63,949.19 632.4,949.42 634.16,949.65 635.93,949.88 637.7,950.11 639.47,950.34 641.23,950.58 643,950.82 644.77,951.06 646.53,951.3 646.9,983.7 655.4,983.7" fill="none" stroke="#ff2020" stroke-width="0.8" stroke-linejoin="round" clip-path="url(#clipe)"/>
<polyline points="66.62,829.4 66.99,880.01 68.02,938.34 69.28,954.38 70.01,957.25 70.51,955.94 70.9,954.69 71.01,954.31 71.5,952.24 71.79,950.92 72,949.88 72.38,948.06 72.5,947.48 72.99,944.94 73.49,942.32 73.56,941.97 73.99,939.79 74.3,938.34 74.48,937.52 74.98,935.39 75.33,933.96 75.48,933.35 75.97,931.41 76.47,929.56 76.97,927.81 77.1,927.37 77.33,926.61 77.46,926.17 77.96,924.6 78.46,923.08 78.87,921.87 78.95,921.63 79.45,920.24 79.95,918.92 80.44,917.66 80.64,917.18 80.94,916.48 81.17,915.96 81.44,915.37 81.93,914.3 82.41,913.3 82.43,913.26 82.93,912.26 83.42,911.29 83.92,910.36 84.18,909.88 84.42,909.46 84.91,908.59 85.41,907.76 85.91,906.96 85.95,906.89 86.4,906.2 86.9,905.47 87.01,905.32 87.4,904.76 87.73,904.31 87.89,904.08 88.39,903.41 88.89,902.76 89.38,902.13 89.5,901.99 89.88,901.52 90.38,900.93 90.87,900.36 91.27,899.92 91.37,899.81 91.87,899.28 92.36,898.78 92.86,898.3 93.04,898.13 93.36,897.84 93.8,897.45 93.85,897.4 94.35,896.99 94.81,896.61 94.85,896.58 95.34,896.19 95.84,895.81 96.34,895.44 96.58,895.27 96.83,895.09 97.33,894.74 97.83,894.41 98.32,894.09 98.35,894.07 98.82,893.78 99.32,893.48 99.81,893.19 100.12,893.01 100.31,892.9 100.81,892.63 101.3,892.37 101.63,892.2 101.8,892.12 101.9,892.07 102.3,891.87 102.79,891.63 103.29,891.39 103.67,891.22 103.79,891.16 104.28,890.94 104.78,890.73 105.28,890.51 105.44,890.45 105.77,890.31 106.27,890.11 106.77,889.92 107.21,889.75 107.26,889.73 107.76,889.55 108.26,889.37 108.75,889.2 108.98,889.13 109.25,889.04 109.75,888.88 109.98,888.81 110.24,888.73 110.74,888.58 110.75,888.57 111.24,888.43 111.73,888.29 112.23,888.15 112.52,888.06 112.73,888.01 113.22,887.87 113.72,887.74 114.22,887.62 114.29,887.6 114.71,887.49 115.21,887.37 115.71,887.25 116.06,887.17 116.2,887.14 116.7,887.02 117.2,886.91 117.69,886.8 117.84,886.77 118.19,886.7 118.69,886.6 119.18,886.5 119.61,886.42 119.68,886.4 120.03,886.34 120.18,886.31 120.67,886.22 121.17,886.12 121.38,886.08 121.66,886.03 122.16,885.93 122.66,885.84 123.15,885.75 123.15,885.75 123.65,885.66 124.15,885.56 124.64,885.47 124.92,885.42 125.14,885.38 125.64,885.3 126.13,885.21 126.63,885.13 126.69,885.12 127.13,885.05 127.62,884.97 128.12,884.89 128.46,884.84 128.62,884.81 129.11,884.74 130.23,884.59 132,884.38 133.78,884.23 134.58,884.18 135.55,884.12 137.32,884.03 139.09,883.94 140.86,883.86 142.63,883.78 144.4,883.72 146.17,883.66 147.94,883.62 149.72,883.58 151.49,883.57 153.05,883.56 153.26,883.56 155.03,883.57 156.8,883.61 158.57,883.66 160.34,883.73 162.11,883.81 163.89,883.9 165.66,884 167.43,884.12 169.2,884.23 170.97,884.35 172.74,884.47 174.51,884.59 175.21,884.64 176.28,884.71 178.05,884.85 179.83,884.99 181.6,885.15 183.37,885.32 185.14,885.5 186.91,885.7 188.68,885.89 190.45,886.1 192.22,886.32 193.99,886.54 195.77,886.77 197.54,887 199.31,887.23 201.08,887.47 202.85,887.71 204.62,887.95 206.39,888.19 208.16,888.43 209.93,888.67 211.71,888.9 212.15,888.96 213.48,889.14 215.25,889.37 217.02,889.62 218.79,889.86 220.56,890.11 222.33,890.37 224.1,890.62 225.88,890.88 227.65,891.15 229.42,891.41 231.19,891.68 232.96,891.96 234.73,892.23 236.5,892.51 238.27,892.78 240.04,893.06 241.82,893.35 243.59,893.63 245.36,893.91 247.13,894.2 248.9,894.48 249.09,894.51 250.67,894.77 252.44,895.06 254.21,895.36 255.98,895.66 257.76,895.96 259.53,896.27 261.3,896.58 263.07,896.88 264.84,897.2 266.61,897.51 268.38,897.83 270.15,898.14 271.92,898.46 273.7,898.78 275.47,899.1 277.24,899.42 279.01,899.74 280.78,900.05 282.55,900.37 284.32,900.69 286.02,901 286.09,901.01 287.87,901.32 289.64,901.64 291.41,901.95 293.18,902.26 294.95,902.58 296.72,902.89 298.49,903.21 300.26,903.53 302.03,903.85 303.81,904.18 305.58,904.51 307.35,904.85 308.19,905.01 309.12,905.19 310.89,905.53 312.66,905.87 314.43,906.21 316.2,906.56 317.97,906.91 319.75,907.26 321.52,907.61 323.29,907.96 325.06,908.32 326.83,908.69 328.6,909.06 330.37,909.43 332.14,909.81 333.91,910.19 335.69,910.58 337.46,910.98 339.23,911.39 341,911.8 342.77,912.23 342.91,912.26 344.54,912.66 346.31,913.09 348.08,913.53 349.86,913.98 351.63,914.44 353.4,914.9 355.17,915.37 356.94,915.85 358.71,916.33 360.48,916.83 362.25,917.33 364.02,917.83 365.8,918.35 367.57,918.88 369.34,919.41 371.11,919.95 372.88,920.51 374.65,921.07 376.42,921.64 378.19,922.22 379.96,922.81 381.74,923.41 382.06,923.52 383.51,924.03 385.28,924.68 387.05,925.35 388.82,926.04 390.59,926.76 392.36,927.49 394.13,928.24 395.9,929 397.68,929.76 399.45,930.53 400.01,930.78 401.22,931.3 402.99,932.08 404.76,932.88 406.53,933.68 408.3,934.5 410.07,935.33 411.85,936.17 413.62,937.01 415.39,937.87 417.16,938.74 418.93,939.63 420.7,940.52 422.47,941.42 423.28,960.56 424.02,976.76 424.52,951.57 424.54,951.14 425.02,943.49 425.28,940.25 425.51,937.95 426.01,934.15 426.51,931.31 426.54,931.11 426.61,930.78 427,928.83 427.5,926.73 427.81,925.65 428,925.06 428.49,923.87 428.6,923.68 428.99,923.07 429.07,922.96 429.49,922.37 429.98,921.76 430.33,921.4 430.48,921.26 430.98,920.89 431.47,920.65 431.59,920.62 431.71,920.59 431.97,920.54 432.47,920.46 432.85,920.41 432.96,920.39 433.46,920.33 433.96,920.27 434.11,920.26 434.45,920.23 434.95,920.19 435.37,920.16 435.45,920.16 435.94,920.14 436.44,920.13 436.63,920.13 436.73,920.13 436.94,920.13 437.43,920.14 437.89,920.15 437.93,920.15 438.43,920.17 438.92,920.2 439.15,920.21 439.42,920.23 439.92,920.27 440.41,920.31 440.41,920.31 440.91,920.35 441.41,920.4 441.67,920.42 441.9,920.45 442.4,920.5 442.9,920.55 442.93,920.55 443.39,920.6 443.89,920.65 444.19,920.68 444.39,920.7 444.86,920.75 444.88,920.75 445.38,920.8 445.45,920.8 445.88,920.85 446.37,920.9 446.71,920.93 446.87,920.95 447.37,921 447.86,921.06 447.97,921.07 448.36,921.12 448.86,921.17 449.23,921.22 449.35,921.23 449.85,921.29 450.35,921.35 450.5,921.37 450.84,921.41 451.34,921.48 451.76,921.53 451.84,921.54 452.33,921.61 452.83,921.67 453.02,921.7 453.33,921.74 453.82,921.81 454.28,921.87 454.32,921.88 454.82,921.95 455.31,922.02 455.54,922.06 455.81,922.1 456.31,922.17 456.8,922.24 456.8,922.24 457.3,922.32 457.79,922.4 458.06,922.44 458.29,922.47 458.79,922.55 459.28,922.63 459.32,922.64 459.78,922.71 460.28,922.79 460.58,922.84 460.77,922.87 461.27,922.95 461.77,923.04 461.84,923.05 462.26,923.12 462.76,923.2 463.1,923.26 463.26,923.29 463.75,923.37 464.25,923.46 464.36,923.48 464.75,923.55 465.24,923.63 465.62,923.7 465.74,923.72 466.24,923.81 466.73,923.9 466.88,923.93 467.23,923.99 467.73,924.08 468.14,924.16 468.22,924.17 468.72,924.26 469.22,924.35 469.4,924.39 469.71,924.45 470.21,924.54 470.66,924.62 470.71,924.63 471.2,924.72 471.7,924.82 471.92,924.86 472.2,924.91 472.69,925.01 473.18,925.1 473.19,925.1 473.69,925.19 474.18,925.29 474.45,925.34 474.68,925.38 475.18,925.48 475.67,925.58 475.71,925.58 476.17,925.67 476.67,925.77 476.97,925.83 477.16,925.86 477.66,925.96 478.16,926.06 478.23,926.07 478.65,926.15 479.15,926.25 479.49,926.31 479.65,926.35 480.14,926.44 480.64,926.54 480.75,926.56 481.14,926.64 481.63,926.73 481.79,926.76 482.01,926.81 482.13,926.83 482.63,926.93 483.12,927.02 483.27,927.05 484.53,927.31 485.79,927.56 487.05,927.82 488.31,928.09 489.57,928.35 490.83,928.63 492.09,928.9 493.35,929.18 494.61,929.47 495.87,929.75 497.14,930.05 498.4,930.34 499.66,930.64 500.92,930.94 502.18,931.25 503.44,931.56 504.7,931.87 505.96,932.19 507.22,932.5 508.48,932.83 509.74,933.15 511,933.48 512.26,933.82 513.52,934.15 514.78,934.49 516.04,934.83 517.3,935.18 518.56,935.53 519.83,935.88 521.09,936.23 522.35,936.59 523.61,936.95 523.9,983.7 523.9,983.7" fill="none" stroke="#1a1aff" stroke-width="0.9" stroke-linejoin="round" clip-path="url(#clipe)"/>
<polyline points="72.38,826.31 72.67,937.41 73.27,960.56 74.74,975.99 76.96,982.16 79.18,983.7 655.4,983.7" fill="none" stroke="#000" stroke-width="0.8" stroke-dasharray="2.6 2" stroke-linejoin="round" clip-path="url(#clipe)"/>
<polyline points="76.37,826.31 76.86,839.05 77.36,851.28 77.82,862.05 77.86,862.94 78.35,873.94 78.44,875.69 78.85,884.47 79.27,893.18 79.35,894.76 79.84,904.54 80.34,913.53 80.72,919.71 80.84,921.45 80.87,921.98 81.33,928.59 81.83,935.45 82.17,939.85 82.33,941.73 82.82,947.16 83.32,951.43 83.53,952.84 83.62,953.37 83.82,954.48 84.31,957.12 84.81,959.5 85.08,960.66 85.31,961.62 85.8,963.52 86.3,965.22 86.53,965.92 86.8,966.72 87.29,968.06 87.79,969.26 87.98,969.68 88.04,969.81 88.29,970.34 88.78,971.36 89.28,972.33 89.43,972.61 89.78,973.24 90.27,974.11 90.77,974.93 90.88,975.1 91.27,975.69 91.76,976.41 92.26,977.07 92.33,977.16 92.76,977.69 93.25,978.25 93.75,978.77 93.78,978.8 94.25,979.24 94.74,979.66 94.98,979.84 95.23,980.03 95.24,980.03 95.74,980.39 96.23,980.74 96.68,981.05 96.73,981.08 97.23,981.4 97.72,981.7 98.14,981.93 98.22,981.97 98.72,982.23 99.21,982.45 99.59,982.61 99.71,982.65 100.21,982.82 100.7,982.96 101.04,983.03 101.2,983.06 101.34,983.08 101.7,983.13 102.19,983.2 102.49,983.24 102.69,983.27 103.19,983.33 103.68,983.39 103.94,983.42 104.18,983.44 104.68,983.49 105.17,983.54 105.39,983.56 105.67,983.58 106.17,983.61 106.66,983.64 106.84,983.65 107.16,983.67 107.66,983.68 108.15,983.7 108.29,983.7 108.65,983.7 108.72,983.7 109.15,983.7 109.64,983.7 109.75,983.7 110.14,983.7 110.64,983.7 111.13,983.7 111.2,983.7 111.63,983.7 112.13,983.7 112.62,983.7 112.65,983.7 113.12,983.7 113.62,983.7 114.1,983.7 114.11,983.7 114.61,983.7 115.11,983.7 115.55,983.7 115.6,983.7 116.1,983.7 116.6,983.7 117,983.7 117.09,983.7 117.59,983.7 118.09,983.7 118.45,983.7 118.58,983.7 119.08,983.7 119.58,983.7 119.9,983.7 120.07,983.7 120.57,983.7 121.07,983.7 121.36,983.7 121.56,983.7 122.06,983.7 122.56,983.7 122.81,983.7 123.05,983.7 123.55,983.7 124.05,983.7 124.26,983.7 124.54,983.7 125.04,983.7 125.53,983.7 125.71,983.7 126.03,983.7 126.53,983.7 127.02,983.7 127.16,983.7 127.52,983.7 128.02,983.7 128.51,983.7 128.61,983.7 129.01,983.7 129.51,983.7 130,983.7 130.06,983.7 130.5,983.7 131,983.7 131.49,983.7 131.51,983.7 131.99,983.7 132.49,983.7 132.96,983.7 132.98,983.7 133.48,983.7 133.98,983.7 134.42,983.7 134.47,983.7 134.97,983.7 135.47,983.7 135.87,983.7 137.32,983.7 138.77,983.7 140.22,983.7 141.67,983.7 143.12,983.7 144.57,983.7 146.03,983.7 147.48,983.7 148.93,983.7 150.38,983.7 151.83,983.7 153.28,983.7 154.73,983.7 156.18,983.7 157.64,983.7 159.09,983.7 160.54,983.7 161.99,983.7 163.44,983.7 164.89,983.7 166.34,983.7 167.79,983.7 169.25,983.7 170.7,983.7 172.15,983.7 173.6,983.7 175.05,983.7 176.5,983.7 177.95,983.7 179.4,983.7 180.85,983.7 182.31,983.7 183.76,983.7 185.21,983.7 186.66,983.7 188.11,983.7 189.56,983.7 191.01,983.7 192.46,983.7 193.92,983.7 195.37,983.7 196.82,983.7 198.27,983.7 199.72,983.7 201.17,983.7 202.62,983.7 204.07,983.7 205.53,983.7 206.98,983.7 208.43,983.7 209.88,983.7 211.33,983.7 212.78,983.7 214.23,983.7 215.68,983.7 217.13,983.7 218.59,983.7 220.04,983.7 221.49,983.7 222.94,983.7 224.39,983.7 225.84,983.7 227.29,983.7 228.74,983.7 230.2,983.7 231.65,983.7 233.1,983.7 234.55,983.7 236,983.7 237.45,983.7 238.9,983.7 240.35,983.7 241.81,983.7 243.26,983.7 244.71,983.7 246.16,983.7 247.61,983.7 249.06,983.7 250.51,983.7 251.96,983.7 253.42,983.7 254.87,983.7 256.32,983.7 257.77,983.7 259.22,983.7 260.67,983.7 262.12,983.7 263.57,983.7 265.02,983.7 266.48,983.7 267.93,983.7 269.38,983.7 270.83,983.7 272.28,983.7 273.73,983.7 275.18,983.7 276.63,983.7 278.09,983.7 279.54,983.7 280.99,983.7 282.44,983.7 283.89,983.7 285.34,983.7 286.79,983.7 288.24,983.7 289.7,983.7 291.15,983.7 292.6,983.7 294.05,983.7 295.5,983.7 296.95,983.7 298.4,983.7 299.85,983.7 301.31,983.7 302.76,983.7 304.21,983.7 305.66,983.7 307.11,983.7 308.56,983.7 310.01,983.7 311.46,983.7 312.91,983.7 314.37,983.7 315.82,983.7 317.27,983.7 318.72,983.7 320.17,983.7 321.62,983.7 323.07,983.7 324.52,983.7 325.98,983.7 327.43,983.7 328.88,983.7 330.33,983.7 331.78,983.7 333.23,983.7 334.68,983.7 336.13,983.7 337.59,983.7 339.04,983.7 340.49,983.7 341.94,983.7 343.39,983.7 344.84,983.7 346.29,983.7 347.74,983.7 349.19,983.7 350.65,983.7 352.1,983.7 353.55,983.7 355,983.7 356.45,983.7 357.9,983.7 359.35,983.7 360.8,983.7 362.26,983.7 363.71,983.7 365.16,983.7 366.61,983.7 368.06,983.7 369.51,983.7 370.96,983.7 372.41,983.7 373.87,983.7 375.32,983.7 376.77,983.7 378.22,983.7 379.67,983.7 381.12,983.7 382.57,983.7 384.02,983.7 385.48,983.7 386.93,983.7 388.38,983.7 389.83,983.7 391.28,983.7 392.73,983.7 394.18,983.7 395.63,983.7 397.08,983.7 398.54,983.7 399.99,983.7 401.44,983.7 402.89,983.7 404.34,983.7 405.79,983.7 407.24,983.7 408.69,983.7 410.15,983.7 411.6,983.7 413.05,983.7 414.5,983.7 415.95,983.7 417.4,983.7 418.85,983.7 420.3,983.7 421.76,983.7 423.21,983.7 424.66,983.7 426.11,983.7 427.56,983.7 429.01,983.7 430.46,983.7 431.91,983.7 433.37,983.7 434.82,983.7 436.27,983.7 437.72,983.7 439.17,983.7 440.62,983.7 442.07,983.7 443.52,983.7 444.97,983.7 446.43,983.7 447.88,983.7 449.33,983.7 450.78,983.7 452.23,983.7 453.68,983.7 455.13,983.7 456.58,983.7 458.04,983.7 459.49,983.7 460.94,983.7 462.39,983.7 463.84,983.7 465.29,983.7 466.74,983.7 468.19,983.7 469.65,983.7 471.1,983.7 472.55,983.7 474,983.7 475.45,983.7 476.9,983.7 478.35,983.7 479.8,983.7 481.25,983.7 482.71,983.7 484.16,983.7 485.61,983.7 487.06,983.7 488.51,983.7 489.96,983.7 491.41,983.7 492.86,983.7 494.32,983.7 495.77,983.7 497.22,983.7 498.67,983.7 500.12,983.7 501.57,983.7 503.02,983.7 504.47,983.7 505.93,983.7 507.38,983.7 508.83,983.7 510.28,983.7 511.73,983.7 513.18,983.7 514.63,983.7 516.08,983.7 517.54,983.7 518.99,983.7 520.44,983.7 521.89,983.7 523.34,983.7 524.79,983.7 526.24,983.7 527.69,983.7 529.14,983.7 530.6,983.7 532.05,983.7 533.5,983.7 534.95,983.7 536.4,983.7 537.85,983.7 539.3,983.7 540.75,983.7 542.21,983.7 543.66,983.7 545.11,983.7 546.56,983.7 548.01,983.7 549.46,983.7 550.91,983.7 552.36,983.7 553.82,983.7 555.27,983.7 556.72,983.7 558.17,983.7 559.62,983.7 561.07,983.7 562.52,983.7 563.97,983.7 565.43,983.7 566.88,983.7 568.33,983.7 569.78,983.7 571.23,983.7 572.68,983.7 574.13,983.7 575.58,983.7 577.03,983.7 578.49,983.7 579.94,983.7 581.39,983.7 582.84,983.7 584.29,983.7 585.74,983.7 587.19,983.7 588.64,983.7 590.1,983.7 591.55,983.7 593,983.7 594.45,983.7 595.9,983.7 597.35,983.7 598.8,983.7 600.25,983.7 601.71,983.7 603.16,983.7 604.61,983.7 606.06,983.7 607.51,983.7 608.96,983.7 610.41,983.7 611.86,983.7 613.31,983.7 614.77,983.7 616.22,983.7 617.67,983.7 619.12,983.7 620.57,983.7 622.02,983.7 623.47,983.7 624.92,983.7 626.38,983.7 627.83,983.7 629.28,983.7 630.73,983.7 632.18,983.7 633.63,983.7 635.08,983.7 636.53,983.7 637.99,983.7 639.44,983.7 640.89,983.7 642.34,983.7 643.79,983.7 645.24,983.7 646.69,983.7 648.14,983.7 649.6,983.7 651.05,983.7 652.5,983.7 653.95,983.7 655.4,983.7" fill="none" stroke="#ff1010" stroke-width="0.75" stroke-dasharray="2.6 2" stroke-linejoin="round" clip-path="url(#clipe)"/>
<polyline points="70.83,826.31 70.9,983.7 655.4,983.7" fill="none" stroke="#1010ff" stroke-width="0.8" stroke-dasharray="2.6 2" stroke-linejoin="round" clip-path="url(#clipe)"/>
<rect x="429.4" y="830.8" width="235.2" height="86.3" fill="#fff" stroke="#8a8a8a" stroke-width="0.7"/>
<line x1="448.7" y1="842.8" x2="467.8" y2="842.8" stroke="#111" stroke-width="0.8" />
<line x1="448.7" y1="854.8" x2="467.8" y2="854.8" stroke="#ff8a8a" stroke-width="1.6" />
<line x1="448.7" y1="866.3" x2="467.8" y2="866.3" stroke="#1a1aff" stroke-width="0.8" />
<line x1="448.7" y1="877.8" x2="467.8" y2="877.8" stroke="#222" stroke-width="0.8" stroke-dasharray="2.8 1.8" />
<line x1="448.7" y1="889.8" x2="467.8" y2="889.8" stroke="#ff2020" stroke-width="0.8" stroke-dasharray="2.8 1.8" />
<line x1="448.7" y1="901.8" x2="467.8" y2="901.8" stroke="#2020ff" stroke-width="0.8" stroke-dasharray="2.8 1.8" />
<text x="469.6" y="845" font-family='"Liberation Serif", "DejaVu Serif", serif' font-size="8.15" text-anchor="start" font-weight="normal" fill="#000" ><tspan font-style="italic">m</tspan><tspan font-size="5.5" dy="1.9">e-local</tspan><tspan dy="-1.9"> when </tspan><tspan font-style="italic">T</tspan><tspan font-size="5.5" dy="1.9">supply water</tspan><tspan dy="-1.9">=38.70°C (Process-heat-supplied)</tspan></text>
<text x="469.6" y="857" font-family='"Liberation Serif", "DejaVu Serif", serif' font-size="8.15" text-anchor="start" font-weight="normal" fill="#000" ><tspan font-style="italic">m</tspan><tspan font-size="5.5" dy="1.9">e-local</tspan><tspan dy="-1.9"> when </tspan><tspan font-style="italic">T</tspan><tspan font-size="5.5" dy="1.9">supply water</tspan><tspan dy="-1.9">=45.17°C (Process-heat-supplied)</tspan></text>
<text x="469.6" y="868.5" font-family='"Liberation Serif", "DejaVu Serif", serif' font-size="8.15" text-anchor="start" font-weight="normal" fill="#000" ><tspan font-style="italic">m</tspan><tspan font-size="5.5" dy="1.9">e-local</tspan><tspan dy="-1.9"> when </tspan><tspan font-style="italic">T</tspan><tspan font-size="5.5" dy="1.9">supply water</tspan><tspan dy="-1.9">=50.93°C (Process-heat-supplied)</tspan></text>
<text x="469.6" y="880" font-family='"Liberation Serif", "DejaVu Serif", serif' font-size="8.15" text-anchor="start" font-weight="normal" fill="#000" ><tspan font-style="italic">m</tspan><tspan font-size="5.5" dy="1.9">e-local</tspan><tspan dy="-1.9"> when </tspan><tspan font-style="italic">T</tspan><tspan font-size="5.5" dy="1.9">a-inlet</tspan><tspan dy="-1.9">=90°C (Traditional air-heating)</tspan></text>
<text x="469.6" y="892" font-family='"Liberation Serif", "DejaVu Serif", serif' font-size="8.15" text-anchor="start" font-weight="normal" fill="#000" ><tspan font-style="italic">m</tspan><tspan font-size="5.5" dy="1.9">e-local</tspan><tspan dy="-1.9"> when </tspan><tspan font-style="italic">T</tspan><tspan font-size="5.5" dy="1.9">a-inlet</tspan><tspan dy="-1.9">=100°C (Traditional air-heating)</tspan></text>
<text x="469.6" y="904" font-family='"Liberation Serif", "DejaVu Serif", serif' font-size="8.15" text-anchor="start" font-weight="normal" fill="#000" ><tspan font-style="italic">m</tspan><tspan font-size="5.5" dy="1.9">e-local</tspan><tspan dy="-1.9"> when </tspan><tspan font-style="italic">T</tspan><tspan font-size="5.5" dy="1.9">a-inlet</tspan><tspan dy="-1.9">=110°C (Traditional air-heating)</tspan></text>
<text x="228" y="840.8" font-family='"Liberation Serif", "DejaVu Serif", serif' font-size="8.1" text-anchor="middle" font-weight="bold" fill="#ff8412" >As the evaporation process proceeds, traditional air heating models</text>
<text x="226.5" y="851.1" font-family='"Liberation Serif", "DejaVu Serif", serif' font-size="8.1" text-anchor="middle" font-weight="bold" fill="#ff8412" >have to contend with a rapid decrease in evaporation rates due to a rapid</text>
<text x="229" y="861.8" font-family='"Liberation Serif", "DejaVu Serif", serif' font-size="8.1" text-anchor="middle" font-weight="bold" fill="#ff8412" >decrease in the self-temperature of the air and a rapid increase in air humidity.</text>
<text x="227" y="872.3" font-family='"Liberation Serif", "DejaVu Serif", serif' font-size="8.1" text-anchor="middle" font-weight="bold" fill="#ff8412" >(Additionally, the <tspan font-style="italic">m</tspan><tspan font-size="5.3" dy="1.9">e-local</tspan><tspan dy="-1.9"> decreases even more rapidly as the crust forms.)</tspan></text>
<ellipse cx="75.1" cy="882.4" rx="6.5" ry="4.9" fill="none" stroke="#ff8412" stroke-width="0.8" stroke-dasharray="2.2 1.6"/>
<ellipse cx="84.5" cy="966.8" rx="10" ry="5.7" fill="none" stroke="#ff8412" stroke-width="0.8" stroke-dasharray="2.2 1.6"/>
<line x1="148.3" y1="874.6" x2="87.17" y2="881.4" stroke="#ff8412" stroke-width="0.6" />
<polygon points="82.7,881.9 88.01,879.9 88.32,882.68" fill="#ff8412"/>
<line x1="154.5" y1="874" x2="85.55" y2="958.12" stroke="#ff8412" stroke-width="0.6" />
<polygon points="82.7,961.6 85.1,956.46 87.27,958.23" fill="#ff8412"/>
<ellipse cx="92.3" cy="915.6" rx="9.5" ry="21.8" fill="none" stroke="#000" stroke-width="0.6" stroke-dasharray="2 1 0.6 1"/>
<text x="256.3" y="947.6" font-family='"Liberation Serif", "DejaVu Serif", serif' font-size="8.1" text-anchor="middle" font-weight="bold" fill="#000" >While the Process-heat-supplied mode continuously replenishes the latent heat required</text>
<text x="256.8" y="957.8" font-family='"Liberation Serif", "DejaVu Serif", serif' font-size="8.1" text-anchor="middle" font-weight="bold" fill="#000" >for evaporation, thus effectively maintaining the heat mass transfer driving potential and</text>
<text x="253.8" y="967.8" font-family='"Liberation Serif", "DejaVu Serif", serif' font-size="8.1" text-anchor="middle" font-weight="bold" fill="#000" >facilitating the rebound of what should be a rapidly decreasing <tspan font-style="italic">m</tspan><tspan font-size="5.3" dy="1.9">e-local</tspan></text>
<ellipse cx="422" cy="937.5" rx="9" ry="21" fill="none" stroke="#000" stroke-width="0.6" stroke-dasharray="2 1 0.6 1"/>
<ellipse cx="505.5" cy="957.5" rx="9" ry="21" fill="none" stroke="#000" stroke-width="0.6" stroke-dasharray="2 1 0.6 1"/>
<line x1="217.4" y1="939.1" x2="106.36" y2="924.93" stroke="#000" stroke-width="0.6" />
<polygon points="101.4,924.3 107.54,923.57 107.16,926.55" fill="#000"/>
<line x1="274.6" y1="939.1" x2="393.01" y2="931.52" stroke="#000" stroke-width="0.6" />
<polygon points="398,931.2 392.1,932.88 391.93,930.29" fill="#000"/>
<line x1="410.5" y1="958.5" x2="490.5" y2="961.32" stroke="#000" stroke-width="0.6" />
<polygon points="495.5,961.5 489.46,962.59 489.55,959.99" fill="#000"/>
<text x="146.2" y="984.2" font-family='"Liberation Serif", "DejaVu Serif", serif' font-size="10.4" text-anchor="start" font-weight="normal" fill="#000" >From Inlet of Tower</text>
<text x="278.5" y="978.5" font-family='"Liberation Serif", "DejaVu Serif", serif' font-size="10.4" text-anchor="start" font-weight="normal" fill="#000" >Flowing Direction of The Mixed Flow</text>
<text x="501" y="984.2" font-family='"Liberation Serif", "DejaVu Serif", serif' font-size="10.4" text-anchor="start" font-weight="normal" fill="#000" >To Outlet of Tower</text>
<line x1="244" y1="982.1" x2="482.5" y2="982.1" stroke="#000" stroke-width="2.0" />
<polygon points="491.5,982.1 479.2,978.6 479.2,985.6" fill="#000"/>
<rect x="49.5" y="829.4" width="620" height="161.9" fill="none" stroke="#1a1a1a" stroke-width="1.0"/>
<line x1="64.4" y1="829.4" x2="64.4" y2="833" stroke="#222" stroke-width="0.8" />
<line x1="64.4" y1="991.3" x2="64.4" y2="987.1" stroke="#222" stroke-width="0.8" />
<line x1="138.28" y1="829.4" x2="138.28" y2="833" stroke="#222" stroke-width="0.8" />
<line x1="138.28" y1="991.3" x2="138.28" y2="987.1" stroke="#222" stroke-width="0.8" />
<line x1="212.15" y1="829.4" x2="212.15" y2="833" stroke="#222" stroke-width="0.8" />
<line x1="212.15" y1="991.3" x2="212.15" y2="987.1" stroke="#222" stroke-width="0.8" />
<line x1="286.03" y1="829.4" x2="286.03" y2="833" stroke="#222" stroke-width="0.8" />
<line x1="286.03" y1="991.3" x2="286.03" y2="987.1" stroke="#222" stroke-width="0.8" />
<line x1="359.9" y1="829.4" x2="359.9" y2="833" stroke="#222" stroke-width="0.8" />
<line x1="359.9" y1="991.3" x2="359.9" y2="987.1" stroke="#222" stroke-width="0.8" />
<line x1="433.77" y1="829.4" x2="433.77" y2="833" stroke="#222" stroke-width="0.8" />
<line x1="433.77" y1="991.3" x2="433.77" y2="987.1" stroke="#222" stroke-width="0.8" />
<line x1="507.65" y1="829.4" x2="507.65" y2="833" stroke="#222" stroke-width="0.8" />
<line x1="507.65" y1="991.3" x2="507.65" y2="987.1" stroke="#222" stroke-width="0.8" />
<line x1="581.52" y1="829.4" x2="581.52" y2="833" stroke="#222" stroke-width="0.8" />
<line x1="581.52" y1="991.3" x2="581.52" y2="987.1" stroke="#222" stroke-width="0.8" />
<line x1="655.4" y1="829.4" x2="655.4" y2="833" stroke="#222" stroke-width="0.8" />
<line x1="655.4" y1="991.3" x2="655.4" y2="987.1" stroke="#222" stroke-width="0.8" />
<line x1="101.34" y1="829.4" x2="101.34" y2="831.4" stroke="#222" stroke-width="0.7" />
<line x1="101.34" y1="991.3" x2="101.34" y2="989" stroke="#222" stroke-width="0.7" />
<line x1="175.21" y1="829.4" x2="175.21" y2="831.4" stroke="#222" stroke-width="0.7" />
<line x1="175.21" y1="991.3" x2="175.21" y2="989" stroke="#222" stroke-width="0.7" />
<line x1="249.09" y1="829.4" x2="249.09" y2="831.4" stroke="#222" stroke-width="0.7" />
<line x1="249.09" y1="991.3" x2="249.09" y2="989" stroke="#222" stroke-width="0.7" />
<line x1="322.96" y1="829.4" x2="322.96" y2="831.4" stroke="#222" stroke-width="0.7" />
<line x1="322.96" y1="991.3" x2="322.96" y2="989" stroke="#222" stroke-width="0.7" />
<line x1="396.84" y1="829.4" x2="396.84" y2="831.4" stroke="#222" stroke-width="0.7" />
<line x1="396.84" y1="991.3" x2="396.84" y2="989" stroke="#222" stroke-width="0.7" />
<line x1="470.71" y1="829.4" x2="470.71" y2="831.4" stroke="#222" stroke-width="0.7" />
<line x1="470.71" y1="991.3" x2="470.71" y2="989" stroke="#222" stroke-width="0.7" />
<line x1="544.59" y1="829.4" x2="544.59" y2="831.4" stroke="#222" stroke-width="0.7" />
<line x1="544.59" y1="991.3" x2="544.59" y2="989" stroke="#222" stroke-width="0.7" />
<line x1="618.46" y1="829.4" x2="618.46" y2="831.4" stroke="#222" stroke-width="0.7" />
<line x1="618.46" y1="991.3" x2="618.46" y2="989" stroke="#222" stroke-width="0.7" />
<text x="64.4" y="1004.6" font-family='"Liberation Serif", "DejaVu Serif", serif' font-size="10" text-anchor="middle" font-weight="normal" fill="#000" >0.0</text>
<text x="138.28" y="1004.6" font-family='"Liberation Serif", "DejaVu Serif", serif' font-size="10" text-anchor="middle" font-weight="normal" fill="#000" >0.1</text>
<text x="212.15" y="1004.6" font-family='"Liberation Serif", "DejaVu Serif", serif' font-size="10" text-anchor="middle" font-weight="normal" fill="#000" >0.2</text>
<text x="286.03" y="1004.6" font-family='"Liberation Serif", "DejaVu Serif", serif' font-size="10" text-anchor="middle" font-weight="normal" fill="#000" >0.3</text>
<text x="359.9" y="1004.6" font-family='"Liberation Serif", "DejaVu Serif", serif' font-size="10" text-anchor="middle" font-weight="normal" fill="#000" >0.4</text>
<text x="433.77" y="1004.6" font-family='"Liberation Serif", "DejaVu Serif", serif' font-size="10" text-anchor="middle" font-weight="normal" fill="#000" >0.5</text>
<text x="507.65" y="1004.6" font-family='"Liberation Serif", "DejaVu Serif", serif' font-size="10" text-anchor="middle" font-weight="normal" fill="#000" >0.6</text>
<text x="581.52" y="1004.6" font-family='"Liberation Serif", "DejaVu Serif", serif' font-size="10" text-anchor="middle" font-weight="normal" fill="#000" >0.7</text>
<text x="655.4" y="1004.6" font-family='"Liberation Serif", "DejaVu Serif", serif' font-size="10" text-anchor="middle" font-weight="normal" fill="#000" >0.8</text>
<text x="44.3" y="987.1" font-family='"Liberation Serif", "DejaVu Serif", serif' font-size="10" text-anchor="end" font-weight="normal" fill="#000" >0.0</text>
<text x="44.3" y="956.24" font-family='"Liberation Serif", "DejaVu Serif", serif' font-size="10" text-anchor="end" font-weight="normal" fill="#000" >0.2</text>
<text x="44.3" y="925.38" font-family='"Liberation Serif", "DejaVu Serif", serif' font-size="10" text-anchor="end" font-weight="normal" fill="#000" >0.4</text>
<text x="44.3" y="894.52" font-family='"Liberation Serif", "DejaVu Serif", serif' font-size="10" text-anchor="end" font-weight="normal" fill="#000" >0.6</text>
<text x="44.3" y="863.66" font-family='"Liberation Serif", "DejaVu Serif", serif' font-size="10" text-anchor="end" font-weight="normal" fill="#000" >0.8</text>
<text x="44.3" y="832.8" font-family='"Liberation Serif", "DejaVu Serif", serif' font-size="10" text-anchor="end" font-weight="normal" fill="#000" >1.0</text>
<text x="151.9" y="1024" font-family='"Liberation Serif", "DejaVu Serif", serif' font-size="12.67" text-anchor="start" font-weight="normal" fill="#000" >Position of the tower height for the mixed flow of air and wastewater droplets (m)</text>
<g transform="translate(14.4,911.3) rotate(-90)">
<text x="0" y="0" font-family='"Liberation Serif", "DejaVu Serif", serif' font-size="12.3" text-anchor="middle" font-weight="normal" fill="#000" >Local evaporation rate <tspan font-style="italic">m</tspan><tspan font-size="8.86" dy="2.6">e-local</tspan><tspan dy="-2.6"> (kg/h)</tspan></text>
</g>
<text x="0.6" y="817.5" font-family='"Liberation Sans", "DejaVu Sans", sans-serif' font-size="14.3" text-anchor="start" font-weight="bold" fill="#000" >(e)</text>
</svg>
</body></html>
